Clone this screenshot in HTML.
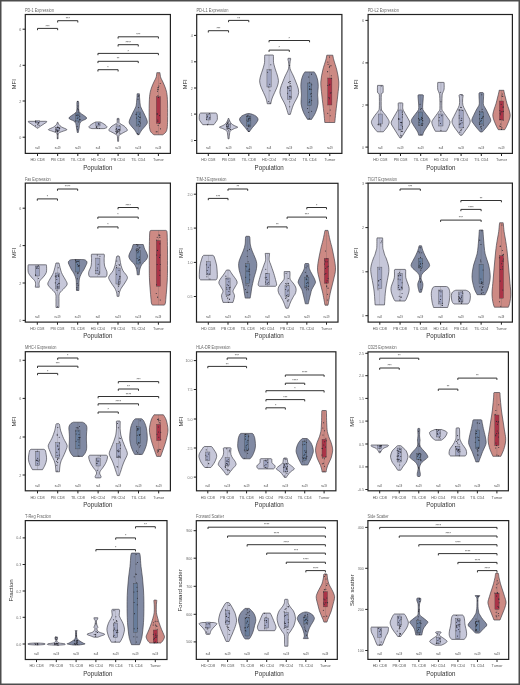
<!DOCTYPE html>
<html><head><meta charset="utf-8"><style>html,body{margin:0;padding:0;background:#fff;width:520px;height:685px;overflow:hidden}svg{display:block}</style></head>
<body><svg xmlns="http://www.w3.org/2000/svg" width="520" height="685" viewBox="0 0 520 685" font-family="Liberation Sans, sans-serif" style="will-change:transform">
<rect x="0" y="0" width="520" height="685" fill="#fff"/>
<g><text x="25" y="11.9" font-size="4.6" fill="#666" textLength="28.8" lengthAdjust="spacingAndGlyphs">PD-1 Expression</text><path d="M45.8,121.3 C45.97,121.4 47.27,121.37 46.8,121.9 C46.33,122.43 44.35,123.57 43,124.5 C41.65,125.43 39.57,126.88 38.7,127.5 C37.83,128.12 37.95,128.08 37.8,128.2 L37.2,128.2 C37.05,128.08 37.17,128.12 36.3,127.5 C35.43,126.88 33.35,125.43 32,124.5 C30.65,123.57 28.67,122.43 28.2,121.9 C27.73,121.37 29.03,121.4 29.2,121.3 Z" fill="#c6c7d9" stroke="#3a3a44" stroke-width="0.65"/><line x1="37.5" y1="121.3" x2="37.5" y2="128.2" stroke="#555" stroke-width="0.3" opacity="0.7"/><rect x="35.4" y="120.8" width="4.2" height="2.2" fill="#9fa4c1" stroke="#444" stroke-width="0.35"/><circle cx="35.58" cy="125.75" r="0.52" fill="#2a2a33"/><circle cx="35.6" cy="121.41" r="0.52" fill="#2a2a33"/><circle cx="37.01" cy="121.74" r="0.52" fill="#2a2a33"/><circle cx="38.65" cy="123.13" r="0.52" fill="#2a2a33"/><circle cx="35.7" cy="121.9" r="0.52" fill="#2a2a33"/><circle cx="39.06" cy="125.37" r="0.52" fill="#2a2a33"/><circle cx="38.56" cy="122.45" r="0.52" fill="#2a2a33"/><circle cx="37.84" cy="124.37" r="0.52" fill="#2a2a33"/><path d="M57.95,122.3 C58.1,122.67 58.23,123.72 58.85,124.5 C59.47,125.28 60.32,126.15 61.65,127 C62.98,127.85 66.52,128.93 66.85,129.6 C67.18,130.27 64.85,130.52 63.65,131 C62.45,131.48 60.55,132 59.65,132.5 C58.75,133 58.52,132.95 58.25,134 C57.98,135.05 58.08,138 58.05,138.8 L57.25,138.8 C57.22,138 57.32,135.05 57.05,134 C56.78,132.95 56.55,133 55.65,132.5 C54.75,132 52.85,131.48 51.65,131 C50.45,130.52 48.12,130.27 48.45,129.6 C48.78,128.93 52.32,127.85 53.65,127 C54.98,126.15 55.83,125.28 56.45,124.5 C57.07,123.72 57.2,122.67 57.35,122.3 Z" fill="#c6c7d9" stroke="#3a3a44" stroke-width="0.65"/><line x1="57.65" y1="122.3" x2="57.65" y2="138.8" stroke="#555" stroke-width="0.3" opacity="0.7"/><rect x="55.55" y="127.5" width="4.2" height="3.5" fill="#9fa4c1" stroke="#444" stroke-width="0.35"/><circle cx="57.42" cy="131.41" r="0.52" fill="#2a2a33"/><circle cx="56.89" cy="130.59" r="0.52" fill="#2a2a33"/><circle cx="57.66" cy="127.34" r="0.52" fill="#2a2a33"/><circle cx="57.53" cy="133.91" r="0.52" fill="#2a2a33"/><circle cx="57.14" cy="131.41" r="0.52" fill="#2a2a33"/><circle cx="59.21" cy="128.24" r="0.52" fill="#2a2a33"/><circle cx="55.52" cy="131.33" r="0.52" fill="#2a2a33"/><circle cx="58" cy="126.96" r="0.52" fill="#2a2a33"/><circle cx="57.69" cy="137.91" r="0.52" fill="#2a2a33"/><circle cx="58.14" cy="127.44" r="0.52" fill="#2a2a33"/><circle cx="57.27" cy="127.37" r="0.52" fill="#2a2a33"/><circle cx="59.84" cy="128.04" r="0.52" fill="#2a2a33"/><circle cx="57.2" cy="131.96" r="0.52" fill="#2a2a33"/><circle cx="59.38" cy="128.21" r="0.52" fill="#2a2a33"/><circle cx="55.98" cy="129.22" r="0.52" fill="#2a2a33"/><circle cx="57.67" cy="130.35" r="0.52" fill="#2a2a33"/><circle cx="57.99" cy="130.05" r="0.52" fill="#2a2a33"/><circle cx="58.26" cy="131.05" r="0.52" fill="#2a2a33"/><circle cx="56.69" cy="129.03" r="0.52" fill="#2a2a33"/><path d="M78.4,101.3 C78.45,101.58 78.63,101.55 78.7,103 C78.77,104.45 78.53,108.33 78.8,110 C79.07,111.67 78.98,111.67 80.3,113 C81.62,114.33 86.45,116.67 86.7,118 C86.95,119.33 82.95,120.08 81.8,121 C80.65,121.92 80.25,122.33 79.8,123.5 C79.35,124.67 79.35,126.5 79.1,128 C78.85,129.5 78.43,131.75 78.3,132.5 L77.3,132.5 C77.17,131.75 76.75,129.5 76.5,128 C76.25,126.5 76.25,124.67 75.8,123.5 C75.35,122.33 74.95,121.92 73.8,121 C72.65,120.08 68.65,119.33 68.9,118 C69.15,116.67 73.98,114.33 75.3,113 C76.62,111.67 76.53,111.67 76.8,110 C77.07,108.33 76.83,104.45 76.9,103 C76.97,101.55 77.15,101.58 77.2,101.3 Z" fill="#818aa3" stroke="#3a3a44" stroke-width="0.65"/><line x1="77.8" y1="101.3" x2="77.8" y2="132.5" stroke="#555" stroke-width="0.3" opacity="0.7"/><rect x="75.7" y="113" width="4.2" height="8" fill="#687d9c" stroke="#444" stroke-width="0.35"/><circle cx="78.08" cy="109.47" r="0.52" fill="#2a2a33"/><circle cx="77.58" cy="129.85" r="0.52" fill="#2a2a33"/><circle cx="78.01" cy="117.71" r="0.52" fill="#2a2a33"/><circle cx="78.24" cy="110.1" r="0.52" fill="#2a2a33"/><circle cx="78.34" cy="111.93" r="0.52" fill="#2a2a33"/><circle cx="77.1" cy="126.57" r="0.52" fill="#2a2a33"/><circle cx="76.26" cy="115.52" r="0.52" fill="#2a2a33"/><circle cx="77.3" cy="118.17" r="0.52" fill="#2a2a33"/><circle cx="77.11" cy="114.67" r="0.52" fill="#2a2a33"/><circle cx="78.8" cy="121.88" r="0.52" fill="#2a2a33"/><circle cx="77.62" cy="101.6" r="0.52" fill="#2a2a33"/><circle cx="77.22" cy="115.84" r="0.52" fill="#2a2a33"/><circle cx="79.72" cy="119.48" r="0.52" fill="#2a2a33"/><circle cx="79.73" cy="116.16" r="0.52" fill="#2a2a33"/><circle cx="77.95" cy="106.07" r="0.52" fill="#2a2a33"/><circle cx="77.71" cy="108.16" r="0.52" fill="#2a2a33"/><circle cx="78.38" cy="115.11" r="0.52" fill="#2a2a33"/><circle cx="75.67" cy="120.93" r="0.52" fill="#2a2a33"/><circle cx="79.98" cy="119.64" r="0.52" fill="#2a2a33"/><path d="M100.45,122.2 C100.63,122.27 100.97,122.3 101.55,122.6 C102.13,122.9 103.22,123.52 103.95,124 C104.68,124.48 105.43,125.02 105.95,125.5 C106.47,125.98 106.97,126.52 107.05,126.9 C107.13,127.28 106.97,127.52 106.45,127.8 C105.93,128.08 104.37,128.47 103.95,128.6 L91.95,128.6 C91.53,128.47 89.97,128.08 89.45,127.8 C88.93,127.52 88.77,127.28 88.85,126.9 C88.93,126.52 89.43,125.98 89.95,125.5 C90.47,125.02 91.22,124.48 91.95,124 C92.68,123.52 93.77,122.9 94.35,122.6 C94.93,122.3 95.27,122.27 95.45,122.2 Z" fill="#c6c7d9" stroke="#3a3a44" stroke-width="0.65"/><line x1="97.95" y1="122.2" x2="97.95" y2="128.6" stroke="#555" stroke-width="0.3" opacity="0.7"/><rect x="95.85" y="122" width="4.2" height="4" fill="#9fa4c1" stroke="#444" stroke-width="0.35"/><circle cx="98.84" cy="124.08" r="0.52" fill="#2a2a33"/><circle cx="98.67" cy="123.3" r="0.52" fill="#2a2a33"/><circle cx="96.7" cy="126.56" r="0.52" fill="#2a2a33"/><circle cx="96.6" cy="127.49" r="0.52" fill="#2a2a33"/><circle cx="98.88" cy="124.17" r="0.52" fill="#2a2a33"/><circle cx="97.19" cy="128.19" r="0.52" fill="#2a2a33"/><circle cx="99.43" cy="128.29" r="0.52" fill="#2a2a33"/><circle cx="96.28" cy="127.14" r="0.52" fill="#2a2a33"/><path d="M118.9,118.4 C118.93,118.58 119.07,118.8 119.1,119.5 C119.13,120.2 118.77,121.8 119.1,122.6 C119.43,123.4 120.27,123.73 121.1,124.3 C121.93,124.87 123.27,125.38 124.1,126 C124.93,126.62 125.55,127.28 126.1,128 C126.65,128.72 127.48,129.72 127.4,130.3 C127.32,130.88 126.32,131.08 125.6,131.5 C124.88,131.92 123.85,132.38 123.1,132.8 C122.35,133.22 121.77,133.58 121.1,134 C120.43,134.42 119.5,134.63 119.1,135.3 C118.7,135.97 118.78,137 118.7,138 C118.62,139 118.62,140.75 118.6,141.3 L117.6,141.3 C117.58,140.75 117.58,139 117.5,138 C117.42,137 117.5,135.97 117.1,135.3 C116.7,134.63 115.77,134.42 115.1,134 C114.43,133.58 113.85,133.22 113.1,132.8 C112.35,132.38 111.32,131.92 110.6,131.5 C109.88,131.08 108.88,130.88 108.8,130.3 C108.72,129.72 109.55,128.72 110.1,128 C110.65,127.28 111.27,126.62 112.1,126 C112.93,125.38 114.27,124.87 115.1,124.3 C115.93,123.73 116.77,123.4 117.1,122.6 C117.43,121.8 117.07,120.2 117.1,119.5 C117.13,118.8 117.27,118.58 117.3,118.4 Z" fill="#c6c7d9" stroke="#3a3a44" stroke-width="0.65"/><line x1="118.1" y1="118.4" x2="118.1" y2="141.3" stroke="#555" stroke-width="0.3" opacity="0.7"/><rect x="116" y="126" width="4.2" height="5" fill="#9fa4c1" stroke="#444" stroke-width="0.35"/><circle cx="119.74" cy="125.79" r="0.52" fill="#2a2a33"/><circle cx="119.22" cy="131.89" r="0.52" fill="#2a2a33"/><circle cx="116.91" cy="124.84" r="0.52" fill="#2a2a33"/><circle cx="117.87" cy="131.55" r="0.52" fill="#2a2a33"/><circle cx="116.11" cy="129.45" r="0.52" fill="#2a2a33"/><circle cx="119.69" cy="129.3" r="0.52" fill="#2a2a33"/><circle cx="116.5" cy="132.16" r="0.52" fill="#2a2a33"/><circle cx="117.19" cy="130.14" r="0.52" fill="#2a2a33"/><circle cx="116.42" cy="133.21" r="0.52" fill="#2a2a33"/><circle cx="117.95" cy="119.15" r="0.52" fill="#2a2a33"/><circle cx="117.56" cy="132.61" r="0.52" fill="#2a2a33"/><circle cx="116.48" cy="128.45" r="0.52" fill="#2a2a33"/><circle cx="119.88" cy="133.22" r="0.52" fill="#2a2a33"/><circle cx="119.15" cy="129.66" r="0.52" fill="#2a2a33"/><circle cx="117.89" cy="131.17" r="0.52" fill="#2a2a33"/><circle cx="119.46" cy="130.02" r="0.52" fill="#2a2a33"/><circle cx="116" cy="131.6" r="0.52" fill="#2a2a33"/><circle cx="116.07" cy="131.17" r="0.52" fill="#2a2a33"/><circle cx="118.56" cy="129.4" r="0.52" fill="#2a2a33"/><path d="M139.45,93.8 C139.45,94.17 139.4,94.97 139.45,96 C139.5,97.03 139.62,98.5 139.75,100 C139.88,101.5 140,103.67 140.25,105 C140.5,106.33 140.58,106.5 141.25,108 C141.92,109.5 143.23,111.7 144.25,114 C145.27,116.3 147.18,119.8 147.35,121.8 C147.52,123.8 146.18,124.63 145.25,126 C144.32,127.37 142.78,128.55 141.75,130 C140.72,131.45 139.5,133.92 139.05,134.7 L137.45,134.7 C137,133.92 135.78,131.45 134.75,130 C133.72,128.55 132.18,127.37 131.25,126 C130.32,124.63 128.98,123.8 129.15,121.8 C129.32,119.8 131.23,116.3 132.25,114 C133.27,111.7 134.58,109.5 135.25,108 C135.92,106.5 136,106.33 136.25,105 C136.5,103.67 136.62,101.5 136.75,100 C136.88,98.5 137,97.03 137.05,96 C137.1,94.97 137.05,94.17 137.05,93.8 Z" fill="#818aa3" stroke="#3a3a44" stroke-width="0.65"/><line x1="138.25" y1="93.8" x2="138.25" y2="134.7" stroke="#555" stroke-width="0.3" opacity="0.7"/><rect x="136.15" y="112" width="4.2" height="14" fill="#687d9c" stroke="#444" stroke-width="0.35"/><circle cx="139.38" cy="114.08" r="0.52" fill="#2a2a33"/><circle cx="137.96" cy="99.21" r="0.52" fill="#2a2a33"/><circle cx="136.67" cy="118" r="0.52" fill="#2a2a33"/><circle cx="139.42" cy="121.86" r="0.52" fill="#2a2a33"/><circle cx="138.2" cy="96.45" r="0.52" fill="#2a2a33"/><circle cx="139.06" cy="121.55" r="0.52" fill="#2a2a33"/><circle cx="139.51" cy="117.31" r="0.52" fill="#2a2a33"/><circle cx="138.44" cy="116.24" r="0.52" fill="#2a2a33"/><circle cx="140.37" cy="117.17" r="0.52" fill="#2a2a33"/><circle cx="138.64" cy="107.43" r="0.52" fill="#2a2a33"/><circle cx="138.28" cy="124.26" r="0.52" fill="#2a2a33"/><circle cx="136.19" cy="114.24" r="0.52" fill="#2a2a33"/><circle cx="137.51" cy="133.55" r="0.52" fill="#2a2a33"/><circle cx="139.77" cy="126.18" r="0.52" fill="#2a2a33"/><circle cx="138.63" cy="134.22" r="0.52" fill="#2a2a33"/><circle cx="140.44" cy="123" r="0.52" fill="#2a2a33"/><circle cx="136.1" cy="114.33" r="0.52" fill="#2a2a33"/><circle cx="138.88" cy="95.44" r="0.52" fill="#2a2a33"/><circle cx="138.97" cy="119.81" r="0.52" fill="#2a2a33"/><path d="M160,72.7 C160.03,73.08 160.05,74.12 160.2,75 C160.35,75.88 160.45,76.83 160.9,78 C161.35,79.17 162.15,80.33 162.9,82 C163.65,83.67 164.72,85.9 165.4,88 C166.08,90.1 166.63,91.77 167,94.6 C167.37,97.43 167.5,100.77 167.6,105 C167.7,109.23 167.67,116.17 167.6,120 C167.53,123.83 167.48,126 167.2,128 C166.92,130 166.62,130.87 165.9,132 C165.18,133.13 163.4,134.33 162.9,134.8 L153.9,134.8 C153.4,134.33 151.62,133.13 150.9,132 C150.18,130.87 149.88,130 149.6,128 C149.32,126 149.27,123.83 149.2,120 C149.13,116.17 149.1,109.23 149.2,105 C149.3,100.77 149.43,97.43 149.8,94.6 C150.17,91.77 150.72,90.1 151.4,88 C152.08,85.9 153.15,83.67 153.9,82 C154.65,80.33 155.45,79.17 155.9,78 C156.35,76.83 156.45,75.88 156.6,75 C156.75,74.12 156.77,73.08 156.8,72.7 Z" fill="#cd8a84" stroke="#3a3a44" stroke-width="0.65"/><line x1="158.4" y1="72.7" x2="158.4" y2="134.8" stroke="#555" stroke-width="0.3" opacity="0.7"/><rect x="156.3" y="96.7" width="4.2" height="26.7" fill="#ab3347" stroke="#444" stroke-width="0.35"/><circle cx="158.07" cy="89.36" r="0.52" fill="#2a2a33"/><circle cx="159.31" cy="123.32" r="0.52" fill="#2a2a33"/><circle cx="157.75" cy="120.08" r="0.52" fill="#2a2a33"/><circle cx="157.24" cy="114" r="0.52" fill="#2a2a33"/><circle cx="157.82" cy="89.77" r="0.52" fill="#2a2a33"/><circle cx="160.2" cy="83.5" r="0.52" fill="#2a2a33"/><circle cx="157.8" cy="121.26" r="0.52" fill="#2a2a33"/><circle cx="157.9" cy="95.85" r="0.52" fill="#2a2a33"/><circle cx="156.23" cy="131.66" r="0.52" fill="#2a2a33"/><circle cx="159.56" cy="115.62" r="0.52" fill="#2a2a33"/><circle cx="157.51" cy="91.33" r="0.52" fill="#2a2a33"/><circle cx="160.46" cy="128.86" r="0.52" fill="#2a2a33"/><circle cx="158.11" cy="125.47" r="0.52" fill="#2a2a33"/><circle cx="157.08" cy="131.7" r="0.52" fill="#2a2a33"/><circle cx="158.9" cy="86.05" r="0.52" fill="#2a2a33"/><circle cx="157.78" cy="87.74" r="0.52" fill="#2a2a33"/><circle cx="157.19" cy="113.89" r="0.52" fill="#2a2a33"/><circle cx="158.5" cy="87.22" r="0.52" fill="#2a2a33"/><circle cx="158.48" cy="97.45" r="0.52" fill="#2a2a33"/><path d="M37.5,30.2 L37.5,28.4 L57.65,28.4 L57.65,30.2" fill="none" stroke="#333" stroke-width="1"/><text x="47.58" y="27.5" font-size="3.5" fill="#333" text-anchor="middle">***</text><path d="M57.65,22.5 L57.65,20.7 L77.8,20.7 L77.8,22.5" fill="none" stroke="#333" stroke-width="1"/><text x="67.73" y="19.8" font-size="3.5" fill="#333" text-anchor="middle">***</text><path d="M118.1,38.6 L118.1,36.8 L158.4,36.8 L158.4,38.6" fill="none" stroke="#333" stroke-width="1"/><text x="138.25" y="35.9" font-size="3.5" fill="#333" text-anchor="middle">***</text><path d="M118.1,46.5 L118.1,44.7 L138.25,44.7 L138.25,46.5" fill="none" stroke="#333" stroke-width="1"/><text x="128.18" y="43.8" font-size="3.5" fill="#333" text-anchor="middle">****</text><path d="M97.95,55.2 L97.95,53.4 L158.4,53.4 L158.4,55.2" fill="none" stroke="#333" stroke-width="1"/><text x="128.18" y="52.5" font-size="3.5" fill="#333" text-anchor="middle">*</text><path d="M97.95,63.1 L97.95,61.3 L138.25,61.3 L138.25,63.1" fill="none" stroke="#333" stroke-width="1"/><text x="118.1" y="60.4" font-size="3.5" fill="#333" text-anchor="middle">**</text><path d="M97.95,71.5 L97.95,69.7 L118.1,69.7 L118.1,71.5" fill="none" stroke="#333" stroke-width="1"/><text x="108.03" y="68.8" font-size="3.5" fill="#333" text-anchor="middle">*</text><text x="37.5" y="149.1" font-size="2.6" fill="#444" text-anchor="middle">n=8</text><text x="57.65" y="149.1" font-size="2.6" fill="#444" text-anchor="middle">n=19</text><text x="77.8" y="149.1" font-size="2.6" fill="#444" text-anchor="middle">n=19</text><text x="97.95" y="149.1" font-size="2.6" fill="#444" text-anchor="middle">n=8</text><text x="118.1" y="149.1" font-size="2.6" fill="#444" text-anchor="middle">n=19</text><text x="138.25" y="149.1" font-size="2.6" fill="#444" text-anchor="middle">n=19</text><text x="158.4" y="149.1" font-size="2.6" fill="#444" text-anchor="middle">n=19</text><rect x="25.3" y="14.5" width="145.1" height="138.9" fill="none" stroke="#222" stroke-width="1.2"/><line x1="22.6" y1="29.2" x2="25.3" y2="29.2" stroke="#222" stroke-width="1"/><text x="19.27" y="30.7" font-size="4.3" fill="#6a6a6a" textLength="2.03" lengthAdjust="spacingAndGlyphs">6</text><line x1="22.6" y1="65.3" x2="25.3" y2="65.3" stroke="#222" stroke-width="1"/><text x="19.27" y="66.8" font-size="4.3" fill="#6a6a6a" textLength="2.03" lengthAdjust="spacingAndGlyphs">4</text><line x1="22.6" y1="101" x2="25.3" y2="101" stroke="#222" stroke-width="1"/><text x="19.27" y="102.5" font-size="4.3" fill="#6a6a6a" textLength="2.03" lengthAdjust="spacingAndGlyphs">2</text><line x1="22.6" y1="137.2" x2="25.3" y2="137.2" stroke="#222" stroke-width="1"/><text x="19.27" y="138.7" font-size="4.3" fill="#6a6a6a" textLength="2.03" lengthAdjust="spacingAndGlyphs">0</text><line x1="37.5" y1="153.4" x2="37.5" y2="156" stroke="#222" stroke-width="1"/><text x="37.5" y="161.3" font-size="3.8" fill="#555" text-anchor="middle">HD CD8</text><line x1="57.65" y1="153.4" x2="57.65" y2="156" stroke="#222" stroke-width="1"/><text x="57.65" y="161.3" font-size="3.8" fill="#555" text-anchor="middle">PB CD8</text><line x1="77.8" y1="153.4" x2="77.8" y2="156" stroke="#222" stroke-width="1"/><text x="77.8" y="161.3" font-size="3.8" fill="#555" text-anchor="middle">TIL CD8</text><line x1="97.95" y1="153.4" x2="97.95" y2="156" stroke="#222" stroke-width="1"/><text x="97.95" y="161.3" font-size="3.8" fill="#555" text-anchor="middle">HD CD4</text><line x1="118.1" y1="153.4" x2="118.1" y2="156" stroke="#222" stroke-width="1"/><text x="118.1" y="161.3" font-size="3.8" fill="#555" text-anchor="middle">PB CD4</text><line x1="138.25" y1="153.4" x2="138.25" y2="156" stroke="#222" stroke-width="1"/><text x="138.25" y="161.3" font-size="3.8" fill="#555" text-anchor="middle">TIL CD4</text><line x1="158.4" y1="153.4" x2="158.4" y2="156" stroke="#222" stroke-width="1"/><text x="158.4" y="161.3" font-size="3.8" fill="#555" text-anchor="middle">Tumor</text><text x="15.5" y="83.95" font-size="6.2" fill="#2e2e2e" text-anchor="middle" textLength="10" lengthAdjust="spacingAndGlyphs" transform="rotate(-90 15.8 83.95)">MFI</text><text x="97.8" y="169.6" font-size="6.3" fill="#333" text-anchor="middle" textLength="29.2" lengthAdjust="spacingAndGlyphs">Population</text></g>
<g><text x="196.4" y="11.9" font-size="4.6" fill="#666" textLength="32" lengthAdjust="spacingAndGlyphs">PD-L1 Expression</text><path d="M215.8,113 C215.98,113.13 216.65,113.3 216.9,113.8 C217.15,114.3 217.23,115.05 217.3,116 C217.37,116.95 217.55,118.5 217.3,119.5 C217.05,120.5 216.38,121.13 215.8,122 C215.22,122.87 214.13,124.25 213.8,124.7 L202.8,124.7 C202.47,124.25 201.38,122.87 200.8,122 C200.22,121.13 199.55,120.5 199.3,119.5 C199.05,118.5 199.23,116.95 199.3,116 C199.37,115.05 199.45,114.3 199.7,113.8 C199.95,113.3 200.62,113.13 200.8,113 Z" fill="#c6c7d9" stroke="#3a3a44" stroke-width="0.65"/><line x1="208.3" y1="113" x2="208.3" y2="124.7" stroke="#555" stroke-width="0.3" opacity="0.7"/><rect x="206.2" y="114.5" width="4.2" height="5.5" fill="#9fa4c1" stroke="#444" stroke-width="0.35"/><circle cx="207.45" cy="124.66" r="0.52" fill="#2a2a33"/><circle cx="209.77" cy="117.59" r="0.52" fill="#2a2a33"/><circle cx="209.59" cy="113.56" r="0.52" fill="#2a2a33"/><circle cx="206.5" cy="119.35" r="0.52" fill="#2a2a33"/><circle cx="207.04" cy="117.25" r="0.52" fill="#2a2a33"/><circle cx="209.22" cy="118.82" r="0.52" fill="#2a2a33"/><circle cx="207.51" cy="116.13" r="0.52" fill="#2a2a33"/><circle cx="207.78" cy="124.26" r="0.52" fill="#2a2a33"/><path d="M228.95,118.5 C229.08,118.92 229.35,120.17 229.75,121 C230.15,121.83 230.63,122.75 231.35,123.5 C232.07,124.25 232.98,124.88 234.05,125.5 C235.12,126.12 237.67,126.7 237.75,127.2 C237.83,127.7 235.58,128.03 234.55,128.5 C233.52,128.97 232.3,129.5 231.55,130 C230.8,130.5 230.38,130.83 230.05,131.5 C229.72,132.17 229.72,132.78 229.55,134 C229.38,135.22 229.13,138 229.05,138.8 L228.05,138.8 C227.97,138 227.72,135.22 227.55,134 C227.38,132.78 227.38,132.17 227.05,131.5 C226.72,130.83 226.3,130.5 225.55,130 C224.8,129.5 223.58,128.97 222.55,128.5 C221.52,128.03 219.27,127.7 219.35,127.2 C219.43,126.7 221.98,126.12 223.05,125.5 C224.12,124.88 225.03,124.25 225.75,123.5 C226.47,122.75 226.95,121.83 227.35,121 C227.75,120.17 228.02,118.92 228.15,118.5 Z" fill="#c6c7d9" stroke="#3a3a44" stroke-width="0.65"/><line x1="228.55" y1="118.5" x2="228.55" y2="138.8" stroke="#555" stroke-width="0.3" opacity="0.7"/><rect x="226.45" y="124" width="4.2" height="4.5" fill="#9fa4c1" stroke="#444" stroke-width="0.35"/><circle cx="226.79" cy="126.32" r="0.52" fill="#2a2a33"/><circle cx="227.59" cy="123.38" r="0.52" fill="#2a2a33"/><circle cx="226.5" cy="126.07" r="0.52" fill="#2a2a33"/><circle cx="227.76" cy="121.92" r="0.52" fill="#2a2a33"/><circle cx="228.91" cy="120.93" r="0.52" fill="#2a2a33"/><circle cx="228.09" cy="128.45" r="0.52" fill="#2a2a33"/><circle cx="229.11" cy="128.16" r="0.52" fill="#2a2a33"/><circle cx="227.79" cy="126.61" r="0.52" fill="#2a2a33"/><circle cx="228.67" cy="125.08" r="0.52" fill="#2a2a33"/><circle cx="230.39" cy="129.54" r="0.52" fill="#2a2a33"/><circle cx="230.19" cy="123.67" r="0.52" fill="#2a2a33"/><circle cx="227.36" cy="127.78" r="0.52" fill="#2a2a33"/><circle cx="227.15" cy="129.35" r="0.52" fill="#2a2a33"/><circle cx="226.4" cy="124.32" r="0.52" fill="#2a2a33"/><circle cx="230.12" cy="129.41" r="0.52" fill="#2a2a33"/><circle cx="228.01" cy="122.61" r="0.52" fill="#2a2a33"/><circle cx="228.02" cy="124.91" r="0.52" fill="#2a2a33"/><circle cx="228.54" cy="126.65" r="0.52" fill="#2a2a33"/><circle cx="228.82" cy="130.85" r="0.52" fill="#2a2a33"/><path d="M249.8,113.6 C250.3,113.75 251.8,114.1 252.8,114.5 C253.8,114.9 255,115.42 255.8,116 C256.6,116.58 257.23,117.33 257.6,118 C257.97,118.67 258.22,119.17 258,120 C257.78,120.83 257,122 256.3,123 C255.6,124 254.63,125 253.8,126 C252.97,127 252,128.08 251.3,129 C250.6,129.92 249.88,131.08 249.6,131.5 L248,131.5 C247.72,131.08 247,129.92 246.3,129 C245.6,128.08 244.63,127 243.8,126 C242.97,125 242,124 241.3,123 C240.6,122 239.82,120.83 239.6,120 C239.38,119.17 239.63,118.67 240,118 C240.37,117.33 241,116.58 241.8,116 C242.6,115.42 243.8,114.9 244.8,114.5 C245.8,114.1 247.3,113.75 247.8,113.6 Z" fill="#818aa3" stroke="#3a3a44" stroke-width="0.65"/><line x1="248.8" y1="113.6" x2="248.8" y2="131.5" stroke="#555" stroke-width="0.3" opacity="0.7"/><rect x="246.7" y="116" width="4.2" height="10" fill="#687d9c" stroke="#444" stroke-width="0.35"/><circle cx="247.85" cy="115.37" r="0.52" fill="#2a2a33"/><circle cx="248.75" cy="125.13" r="0.52" fill="#2a2a33"/><circle cx="249.95" cy="126.71" r="0.52" fill="#2a2a33"/><circle cx="249" cy="125.12" r="0.52" fill="#2a2a33"/><circle cx="247.02" cy="120.12" r="0.52" fill="#2a2a33"/><circle cx="249.8" cy="116.89" r="0.52" fill="#2a2a33"/><circle cx="247.44" cy="128.76" r="0.52" fill="#2a2a33"/><circle cx="246.98" cy="116.42" r="0.52" fill="#2a2a33"/><circle cx="250" cy="118.47" r="0.52" fill="#2a2a33"/><circle cx="248.76" cy="131.33" r="0.52" fill="#2a2a33"/><circle cx="248.96" cy="131.2" r="0.52" fill="#2a2a33"/><circle cx="249.24" cy="118.55" r="0.52" fill="#2a2a33"/><circle cx="248.73" cy="120.81" r="0.52" fill="#2a2a33"/><circle cx="250.14" cy="120.03" r="0.52" fill="#2a2a33"/><circle cx="247.94" cy="116.84" r="0.52" fill="#2a2a33"/><circle cx="247.91" cy="121.6" r="0.52" fill="#2a2a33"/><circle cx="248.57" cy="126.53" r="0.52" fill="#2a2a33"/><circle cx="248.72" cy="119.58" r="0.52" fill="#2a2a33"/><circle cx="248.36" cy="118.63" r="0.52" fill="#2a2a33"/><path d="M273.05,55 C273.12,55.08 273.38,55 273.45,55.5 C273.52,56 273.43,56.83 273.45,58 C273.47,59.17 273.4,61.17 273.55,62.5 C273.7,63.83 274.02,64.75 274.35,66 C274.68,67.25 275.07,68.5 275.55,70 C276.03,71.5 276.77,73.23 277.25,75 C277.73,76.77 278.37,78.93 278.45,80.6 C278.53,82.27 278.12,83.6 277.75,85 C277.38,86.4 276.77,87.75 276.25,89 C275.73,90.25 275.18,91.33 274.65,92.5 C274.12,93.67 273.57,94.75 273.05,96 C272.53,97.25 271.92,98.71 271.55,100 C271.18,101.29 270.97,103.12 270.85,103.75 L267.25,103.75 C267.13,103.12 266.92,101.29 266.55,100 C266.18,98.71 265.57,97.25 265.05,96 C264.53,94.75 263.98,93.67 263.45,92.5 C262.92,91.33 262.37,90.25 261.85,89 C261.33,87.75 260.72,86.4 260.35,85 C259.98,83.6 259.57,82.27 259.65,80.6 C259.73,78.93 260.37,76.77 260.85,75 C261.33,73.23 262.07,71.5 262.55,70 C263.03,68.5 263.42,67.25 263.75,66 C264.08,64.75 264.4,63.83 264.55,62.5 C264.7,61.17 264.63,59.17 264.65,58 C264.67,56.83 264.58,56 264.65,55.5 C264.72,55 264.98,55.08 265.05,55 Z" fill="#c6c7d9" stroke="#3a3a44" stroke-width="0.65"/><line x1="269.05" y1="55" x2="269.05" y2="103.75" stroke="#555" stroke-width="0.3" opacity="0.7"/><rect x="266.95" y="69.8" width="4.2" height="17.2" fill="#9fa4c1" stroke="#444" stroke-width="0.35"/><circle cx="268.75" cy="101.43" r="0.52" fill="#2a2a33"/><circle cx="268.77" cy="86.97" r="0.52" fill="#2a2a33"/><circle cx="269.93" cy="70.03" r="0.52" fill="#2a2a33"/><circle cx="269.97" cy="90.79" r="0.52" fill="#2a2a33"/><circle cx="269.69" cy="84.22" r="0.52" fill="#2a2a33"/><circle cx="270.13" cy="103.11" r="0.52" fill="#2a2a33"/><circle cx="267.63" cy="72.16" r="0.52" fill="#2a2a33"/><circle cx="270.78" cy="64.78" r="0.52" fill="#2a2a33"/><path d="M290.6,58.3 C290.6,58.58 290.68,59.38 290.6,60 C290.52,60.62 290.18,60.54 290.1,62 C290.02,63.46 289.35,65.96 290.1,68.75 C290.85,71.54 293.17,74.79 294.6,78.75 C296.03,82.71 298.92,88.12 298.7,92.5 C298.48,96.88 294.7,101.35 293.3,105 C291.9,108.65 290.8,112.83 290.3,114.4 L288.3,114.4 C287.8,112.83 286.7,108.65 285.3,105 C283.9,101.35 280.12,96.88 279.9,92.5 C279.68,88.12 282.57,82.71 284,78.75 C285.43,74.79 287.75,71.54 288.5,68.75 C289.25,65.96 288.58,63.46 288.5,62 C288.42,60.54 288.08,60.62 288,60 C287.92,59.38 288,58.58 288,58.3 Z" fill="#c6c7d9" stroke="#3a3a44" stroke-width="0.65"/><line x1="289.3" y1="58.3" x2="289.3" y2="114.4" stroke="#555" stroke-width="0.3" opacity="0.7"/><rect x="287.2" y="86.25" width="4.2" height="13.15" fill="#9fa4c1" stroke="#444" stroke-width="0.35"/><circle cx="288.57" cy="82.44" r="0.52" fill="#2a2a33"/><circle cx="289.93" cy="90.69" r="0.52" fill="#2a2a33"/><circle cx="289.97" cy="86.11" r="0.52" fill="#2a2a33"/><circle cx="287.73" cy="87.66" r="0.52" fill="#2a2a33"/><circle cx="291.09" cy="97.05" r="0.52" fill="#2a2a33"/><circle cx="289.65" cy="96.15" r="0.52" fill="#2a2a33"/><circle cx="290.15" cy="96.78" r="0.52" fill="#2a2a33"/><circle cx="289.94" cy="90.32" r="0.52" fill="#2a2a33"/><circle cx="289.39" cy="81.68" r="0.52" fill="#2a2a33"/><circle cx="287.83" cy="87.77" r="0.52" fill="#2a2a33"/><circle cx="290.19" cy="83.42" r="0.52" fill="#2a2a33"/><circle cx="290.81" cy="85.73" r="0.52" fill="#2a2a33"/><circle cx="287.63" cy="93.17" r="0.52" fill="#2a2a33"/><circle cx="289.75" cy="101.67" r="0.52" fill="#2a2a33"/><circle cx="290.33" cy="81.5" r="0.52" fill="#2a2a33"/><circle cx="288.92" cy="88.58" r="0.52" fill="#2a2a33"/><circle cx="289.73" cy="106.78" r="0.52" fill="#2a2a33"/><circle cx="289.93" cy="97.91" r="0.52" fill="#2a2a33"/><circle cx="289.58" cy="65.54" r="0.52" fill="#2a2a33"/><path d="M314.25,71.9 C314.55,72.42 315.48,73.65 316.05,75 C316.62,76.35 317.28,78.12 317.65,80 C318.02,81.88 318.25,83.75 318.25,86.25 C318.25,88.75 317.68,92.08 317.65,95 C317.62,97.92 318.4,100.83 318.05,103.75 C317.7,106.67 316.63,109.89 315.55,112.5 C314.47,115.11 312.22,118.25 311.55,119.4 L307.55,119.4 C306.88,118.25 304.63,115.11 303.55,112.5 C302.47,109.89 301.4,106.67 301.05,103.75 C300.7,100.83 301.48,97.92 301.45,95 C301.42,92.08 300.85,88.75 300.85,86.25 C300.85,83.75 301.08,81.88 301.45,80 C301.82,78.12 302.48,76.35 303.05,75 C303.62,73.65 304.55,72.42 304.85,71.9 Z" fill="#818aa3" stroke="#3a3a44" stroke-width="0.65"/><line x1="309.55" y1="71.9" x2="309.55" y2="119.4" stroke="#555" stroke-width="0.3" opacity="0.7"/><rect x="307.45" y="83" width="4.2" height="22.6" fill="#687d9c" stroke="#444" stroke-width="0.35"/><circle cx="309.56" cy="86.21" r="0.52" fill="#2a2a33"/><circle cx="311.33" cy="93.42" r="0.52" fill="#2a2a33"/><circle cx="310.4" cy="94.01" r="0.52" fill="#2a2a33"/><circle cx="311.65" cy="100.37" r="0.52" fill="#2a2a33"/><circle cx="311.52" cy="74.14" r="0.52" fill="#2a2a33"/><circle cx="309.76" cy="88.63" r="0.52" fill="#2a2a33"/><circle cx="311.62" cy="111.28" r="0.52" fill="#2a2a33"/><circle cx="309.41" cy="82.8" r="0.52" fill="#2a2a33"/><circle cx="309.65" cy="99.77" r="0.52" fill="#2a2a33"/><circle cx="308.68" cy="77.04" r="0.52" fill="#2a2a33"/><circle cx="309.66" cy="101.64" r="0.52" fill="#2a2a33"/><circle cx="311.25" cy="96.19" r="0.52" fill="#2a2a33"/><circle cx="309.23" cy="118.47" r="0.52" fill="#2a2a33"/><circle cx="311.72" cy="84.78" r="0.52" fill="#2a2a33"/><circle cx="309.46" cy="89.44" r="0.52" fill="#2a2a33"/><circle cx="307.56" cy="108.59" r="0.52" fill="#2a2a33"/><circle cx="309.15" cy="102.61" r="0.52" fill="#2a2a33"/><circle cx="311.02" cy="89.39" r="0.52" fill="#2a2a33"/><circle cx="308.58" cy="112.34" r="0.52" fill="#2a2a33"/><path d="M332.8,55.2 C332.97,56 333.13,57.53 333.8,60 C334.47,62.47 335.97,66.33 336.8,70 C337.63,73.67 338.63,77.83 338.8,82 C338.97,86.17 338.3,89.95 337.8,95 C337.3,100.05 336.3,107.72 335.8,112.3 C335.3,116.88 334.97,120.8 334.8,122.5 L324.8,122.5 C324.63,120.8 324.3,116.88 323.8,112.3 C323.3,107.72 322.3,100.05 321.8,95 C321.3,89.95 320.63,86.17 320.8,82 C320.97,77.83 321.97,73.67 322.8,70 C323.63,66.33 325.13,62.47 325.8,60 C326.47,57.53 326.63,56 326.8,55.2 Z" fill="#cd8a84" stroke="#3a3a44" stroke-width="0.65"/><line x1="329.8" y1="55.2" x2="329.8" y2="122.5" stroke="#555" stroke-width="0.3" opacity="0.7"/><rect x="327.7" y="78" width="4.2" height="27" fill="#ab3347" stroke="#444" stroke-width="0.35"/><circle cx="329.79" cy="84.16" r="0.52" fill="#2a2a33"/><circle cx="328.07" cy="64.36" r="0.52" fill="#2a2a33"/><circle cx="330.21" cy="115.8" r="0.52" fill="#2a2a33"/><circle cx="331.27" cy="75.84" r="0.52" fill="#2a2a33"/><circle cx="329.67" cy="66.28" r="0.52" fill="#2a2a33"/><circle cx="327.88" cy="62.12" r="0.52" fill="#2a2a33"/><circle cx="330.19" cy="109.92" r="0.52" fill="#2a2a33"/><circle cx="329.33" cy="67.27" r="0.52" fill="#2a2a33"/><circle cx="329.37" cy="84.98" r="0.52" fill="#2a2a33"/><circle cx="327.72" cy="113.35" r="0.52" fill="#2a2a33"/><circle cx="331.31" cy="78.31" r="0.52" fill="#2a2a33"/><circle cx="331.02" cy="92.7" r="0.52" fill="#2a2a33"/><circle cx="329.55" cy="56.99" r="0.52" fill="#2a2a33"/><circle cx="330.94" cy="65.63" r="0.52" fill="#2a2a33"/><circle cx="328.97" cy="97.46" r="0.52" fill="#2a2a33"/><circle cx="330.31" cy="93.04" r="0.52" fill="#2a2a33"/><circle cx="327.78" cy="85.45" r="0.52" fill="#2a2a33"/><circle cx="327.6" cy="71.63" r="0.52" fill="#2a2a33"/><circle cx="329.4" cy="98.76" r="0.52" fill="#2a2a33"/><path d="M208.3,32.5 L208.3,30.7 L228.55,30.7 L228.55,32.5" fill="none" stroke="#333" stroke-width="1"/><text x="218.43" y="29.8" font-size="3.5" fill="#333" text-anchor="middle">***</text><path d="M228.55,22.2 L228.55,20.4 L248.8,20.4 L248.8,22.2" fill="none" stroke="#333" stroke-width="1"/><text x="238.68" y="19.5" font-size="3.5" fill="#333" text-anchor="middle">**</text><path d="M269.05,42.3 L269.05,40.5 L309.55,40.5 L309.55,42.3" fill="none" stroke="#333" stroke-width="1"/><text x="289.3" y="39.6" font-size="3.5" fill="#333" text-anchor="middle">*</text><path d="M269.05,51.9 L269.05,50.1 L289.3,50.1 L289.3,51.9" fill="none" stroke="#333" stroke-width="1"/><text x="279.18" y="49.2" font-size="3.5" fill="#333" text-anchor="middle">*</text><text x="208.3" y="149.1" font-size="2.6" fill="#444" text-anchor="middle">n=8</text><text x="228.55" y="149.1" font-size="2.6" fill="#444" text-anchor="middle">n=19</text><text x="248.8" y="149.1" font-size="2.6" fill="#444" text-anchor="middle">n=19</text><text x="269.05" y="149.1" font-size="2.6" fill="#444" text-anchor="middle">n=8</text><text x="289.3" y="149.1" font-size="2.6" fill="#444" text-anchor="middle">n=19</text><text x="309.55" y="149.1" font-size="2.6" fill="#444" text-anchor="middle">n=19</text><text x="329.8" y="149.1" font-size="2.6" fill="#444" text-anchor="middle">n=19</text><rect x="196.7" y="14.5" width="145.2" height="138.9" fill="none" stroke="#222" stroke-width="1.2"/><line x1="194" y1="35.4" x2="196.7" y2="35.4" stroke="#222" stroke-width="1"/><text x="190.67" y="36.9" font-size="4.3" fill="#6a6a6a" textLength="2.03" lengthAdjust="spacingAndGlyphs">4</text><line x1="194" y1="61.8" x2="196.7" y2="61.8" stroke="#222" stroke-width="1"/><text x="190.67" y="63.3" font-size="4.3" fill="#6a6a6a" textLength="2.03" lengthAdjust="spacingAndGlyphs">3</text><line x1="194" y1="88" x2="196.7" y2="88" stroke="#222" stroke-width="1"/><text x="190.67" y="89.5" font-size="4.3" fill="#6a6a6a" textLength="2.03" lengthAdjust="spacingAndGlyphs">2</text><line x1="194" y1="114.1" x2="196.7" y2="114.1" stroke="#222" stroke-width="1"/><text x="190.67" y="115.6" font-size="4.3" fill="#6a6a6a" textLength="2.03" lengthAdjust="spacingAndGlyphs">1</text><line x1="194" y1="140.5" x2="196.7" y2="140.5" stroke="#222" stroke-width="1"/><text x="190.67" y="142" font-size="4.3" fill="#6a6a6a" textLength="2.03" lengthAdjust="spacingAndGlyphs">0</text><line x1="208.3" y1="153.4" x2="208.3" y2="156" stroke="#222" stroke-width="1"/><text x="208.3" y="161.3" font-size="3.8" fill="#555" text-anchor="middle">HD CD8</text><line x1="228.55" y1="153.4" x2="228.55" y2="156" stroke="#222" stroke-width="1"/><text x="228.55" y="161.3" font-size="3.8" fill="#555" text-anchor="middle">PB CD8</text><line x1="248.8" y1="153.4" x2="248.8" y2="156" stroke="#222" stroke-width="1"/><text x="248.8" y="161.3" font-size="3.8" fill="#555" text-anchor="middle">TIL CD8</text><line x1="269.05" y1="153.4" x2="269.05" y2="156" stroke="#222" stroke-width="1"/><text x="269.05" y="161.3" font-size="3.8" fill="#555" text-anchor="middle">HD CD4</text><line x1="289.3" y1="153.4" x2="289.3" y2="156" stroke="#222" stroke-width="1"/><text x="289.3" y="161.3" font-size="3.8" fill="#555" text-anchor="middle">PB CD4</text><line x1="309.55" y1="153.4" x2="309.55" y2="156" stroke="#222" stroke-width="1"/><text x="309.55" y="161.3" font-size="3.8" fill="#555" text-anchor="middle">TIL CD4</text><line x1="329.8" y1="153.4" x2="329.8" y2="156" stroke="#222" stroke-width="1"/><text x="329.8" y="161.3" font-size="3.8" fill="#555" text-anchor="middle">Tumor</text><text x="186.9" y="83.95" font-size="6.2" fill="#2e2e2e" text-anchor="middle" textLength="10" lengthAdjust="spacingAndGlyphs" transform="rotate(-90 187.2 83.95)">MFI</text><text x="269.2" y="169.6" font-size="6.3" fill="#333" text-anchor="middle" textLength="29.2" lengthAdjust="spacingAndGlyphs">Population</text></g>
<g><text x="367.8" y="11.9" font-size="4.6" fill="#666" textLength="31" lengthAdjust="spacingAndGlyphs">PD-L2 Expression</text><path d="M382.8,85.4 C382.85,85.5 383.05,84.9 383.1,86 C383.15,87.1 383.27,90.75 383.1,92 C382.93,93.25 382.4,93 382.1,93.5 C381.8,94 381.43,92.58 381.3,95 C381.17,97.42 381.13,105.33 381.3,108 C381.47,110.67 381.8,110.07 382.3,111 C382.8,111.93 383.55,112.6 384.3,113.6 C385.05,114.6 385.98,115.65 386.8,117 C387.62,118.35 389.03,120.2 389.2,121.7 C389.37,123.2 388.45,124.7 387.8,126 C387.15,127.3 386.05,128.53 385.3,129.5 C384.55,130.47 383.63,131.42 383.3,131.8 L377.3,131.8 C376.97,131.42 376.05,130.47 375.3,129.5 C374.55,128.53 373.45,127.3 372.8,126 C372.15,124.7 371.23,123.2 371.4,121.7 C371.57,120.2 372.98,118.35 373.8,117 C374.62,115.65 375.55,114.6 376.3,113.6 C377.05,112.6 377.8,111.93 378.3,111 C378.8,110.07 379.13,110.67 379.3,108 C379.47,105.33 379.43,97.42 379.3,95 C379.17,92.58 378.8,94 378.5,93.5 C378.2,93 377.67,93.25 377.5,92 C377.33,90.75 377.45,87.1 377.5,86 C377.55,84.9 377.75,85.5 377.8,85.4 Z" fill="#c6c7d9" stroke="#3a3a44" stroke-width="0.65"/><line x1="380.3" y1="85.4" x2="380.3" y2="131.8" stroke="#555" stroke-width="0.3" opacity="0.7"/><rect x="378.2" y="114" width="4.2" height="10" fill="#9fa4c1" stroke="#444" stroke-width="0.35"/><circle cx="379.09" cy="124.69" r="0.52" fill="#2a2a33"/><circle cx="381.25" cy="86.03" r="0.52" fill="#2a2a33"/><circle cx="380.89" cy="125.97" r="0.52" fill="#2a2a33"/><circle cx="378.21" cy="124.65" r="0.52" fill="#2a2a33"/><circle cx="380.37" cy="124.04" r="0.52" fill="#2a2a33"/><circle cx="380.98" cy="109.91" r="0.52" fill="#2a2a33"/><circle cx="380.77" cy="124.94" r="0.52" fill="#2a2a33"/><circle cx="378.17" cy="124.19" r="0.52" fill="#2a2a33"/><path d="M402.5,102.9 C402.55,103.08 402.75,103 402.8,104 C402.85,105 402.55,107.57 402.8,108.9 C403.05,110.23 403.77,110.98 404.3,112 C404.83,113.02 405.33,113.83 406,115 C406.67,116.17 407.65,117.67 408.3,119 C408.95,120.33 409.95,121.67 409.9,123 C409.85,124.33 408.73,125.67 408,127 C407.27,128.33 406.33,129.67 405.5,131 C404.67,132.33 403.73,133.85 403,135 C402.27,136.15 401.42,137.42 401.1,137.9 L399.9,137.9 C399.58,137.42 398.73,136.15 398,135 C397.27,133.85 396.33,132.33 395.5,131 C394.67,129.67 393.73,128.33 393,127 C392.27,125.67 391.15,124.33 391.1,123 C391.05,121.67 392.05,120.33 392.7,119 C393.35,117.67 394.33,116.17 395,115 C395.67,113.83 396.17,113.02 396.7,112 C397.23,110.98 397.95,110.23 398.2,108.9 C398.45,107.57 398.15,105 398.2,104 C398.25,103 398.45,103.08 398.5,102.9 Z" fill="#c6c7d9" stroke="#3a3a44" stroke-width="0.65"/><line x1="400.5" y1="102.9" x2="400.5" y2="137.9" stroke="#555" stroke-width="0.3" opacity="0.7"/><rect x="398.4" y="110" width="4.2" height="20" fill="#9fa4c1" stroke="#444" stroke-width="0.35"/><circle cx="401.09" cy="124.98" r="0.52" fill="#2a2a33"/><circle cx="398.47" cy="118.61" r="0.52" fill="#2a2a33"/><circle cx="402.3" cy="131.33" r="0.52" fill="#2a2a33"/><circle cx="398.64" cy="119.54" r="0.52" fill="#2a2a33"/><circle cx="401.84" cy="131.42" r="0.52" fill="#2a2a33"/><circle cx="399.79" cy="119.02" r="0.52" fill="#2a2a33"/><circle cx="401.47" cy="122.25" r="0.52" fill="#2a2a33"/><circle cx="401.35" cy="136.03" r="0.52" fill="#2a2a33"/><circle cx="400.92" cy="135.26" r="0.52" fill="#2a2a33"/><circle cx="401.64" cy="122.8" r="0.52" fill="#2a2a33"/><circle cx="402.51" cy="114.42" r="0.52" fill="#2a2a33"/><circle cx="402.33" cy="116.95" r="0.52" fill="#2a2a33"/><circle cx="402.21" cy="112.06" r="0.52" fill="#2a2a33"/><circle cx="401.74" cy="122.61" r="0.52" fill="#2a2a33"/><circle cx="400.5" cy="122.45" r="0.52" fill="#2a2a33"/><circle cx="402.38" cy="126.58" r="0.52" fill="#2a2a33"/><circle cx="402.56" cy="127.93" r="0.52" fill="#2a2a33"/><circle cx="399.97" cy="129.24" r="0.52" fill="#2a2a33"/><circle cx="401.31" cy="131.23" r="0.52" fill="#2a2a33"/><path d="M422.5,94.8 C422.65,94.92 423.3,94.63 423.4,95.5 C423.5,96.37 423.22,98.42 423.1,100 C422.98,101.58 422.73,103.4 422.7,105 C422.67,106.6 422.48,108.27 422.9,109.6 C423.32,110.93 424.43,111.93 425.2,113 C425.97,114.07 426.68,114.77 427.5,116 C428.32,117.23 429.9,119.07 430.1,120.4 C430.3,121.73 429.35,122.73 428.7,124 C428.05,125.27 427.03,126.67 426.2,128 C425.37,129.33 424.28,130.8 423.7,132 C423.12,133.2 422.87,134.67 422.7,135.2 L418.7,135.2 C418.53,134.67 418.28,133.2 417.7,132 C417.12,130.8 416.03,129.33 415.2,128 C414.37,126.67 413.35,125.27 412.7,124 C412.05,122.73 411.1,121.73 411.3,120.4 C411.5,119.07 413.08,117.23 413.9,116 C414.72,114.77 415.43,114.07 416.2,113 C416.97,111.93 418.08,110.93 418.5,109.6 C418.92,108.27 418.73,106.6 418.7,105 C418.67,103.4 418.42,101.58 418.3,100 C418.18,98.42 417.9,96.37 418,95.5 C418.1,94.63 418.75,94.92 418.9,94.8 Z" fill="#818aa3" stroke="#3a3a44" stroke-width="0.65"/><line x1="420.7" y1="94.8" x2="420.7" y2="135.2" stroke="#555" stroke-width="0.3" opacity="0.7"/><rect x="418.6" y="112" width="4.2" height="13" fill="#687d9c" stroke="#444" stroke-width="0.35"/><circle cx="421.64" cy="117.39" r="0.52" fill="#2a2a33"/><circle cx="420.5" cy="109.3" r="0.52" fill="#2a2a33"/><circle cx="421.72" cy="123.69" r="0.52" fill="#2a2a33"/><circle cx="421.34" cy="118.93" r="0.52" fill="#2a2a33"/><circle cx="421.02" cy="134.65" r="0.52" fill="#2a2a33"/><circle cx="419.09" cy="125.2" r="0.52" fill="#2a2a33"/><circle cx="422.84" cy="120.84" r="0.52" fill="#2a2a33"/><circle cx="422.42" cy="118.39" r="0.52" fill="#2a2a33"/><circle cx="419.18" cy="119.34" r="0.52" fill="#2a2a33"/><circle cx="418.5" cy="118.46" r="0.52" fill="#2a2a33"/><circle cx="422.83" cy="123.82" r="0.52" fill="#2a2a33"/><circle cx="419.13" cy="122.19" r="0.52" fill="#2a2a33"/><circle cx="419.64" cy="120.33" r="0.52" fill="#2a2a33"/><circle cx="421.13" cy="119.27" r="0.52" fill="#2a2a33"/><circle cx="422.42" cy="120.58" r="0.52" fill="#2a2a33"/><circle cx="421.33" cy="108.41" r="0.52" fill="#2a2a33"/><circle cx="421.6" cy="125.22" r="0.52" fill="#2a2a33"/><circle cx="422.46" cy="125.57" r="0.52" fill="#2a2a33"/><circle cx="420.07" cy="104.18" r="0.52" fill="#2a2a33"/><path d="M443.7,82.4 C443.77,82.5 444.03,81.9 444.1,83 C444.17,84.1 444.27,87.5 444.1,89 C443.93,90.5 443.43,90.87 443.1,92 C442.77,93.13 442.3,93.07 442.1,95.8 C441.9,98.53 441.73,105.78 441.9,108.4 C442.07,111.02 442.43,110.32 443.1,111.5 C443.77,112.68 445.02,114.25 445.9,115.5 C446.78,116.75 447.72,117.95 448.4,119 C449.08,120.05 449.83,120.8 450,121.8 C450.17,122.8 449.75,123.88 449.4,125 C449.05,126.12 448.4,127.45 447.9,128.5 C447.4,129.55 446.65,130.83 446.4,131.3 L435.4,131.3 C435.15,130.83 434.4,129.55 433.9,128.5 C433.4,127.45 432.75,126.12 432.4,125 C432.05,123.88 431.63,122.8 431.8,121.8 C431.97,120.8 432.72,120.05 433.4,119 C434.08,117.95 435.02,116.75 435.9,115.5 C436.78,114.25 438.03,112.68 438.7,111.5 C439.37,110.32 439.73,111.02 439.9,108.4 C440.07,105.78 439.9,98.53 439.7,95.8 C439.5,93.07 439.03,93.13 438.7,92 C438.37,90.87 437.87,90.5 437.7,89 C437.53,87.5 437.63,84.1 437.7,83 C437.77,81.9 438.03,82.5 438.1,82.4 Z" fill="#c6c7d9" stroke="#3a3a44" stroke-width="0.65"/><line x1="440.9" y1="82.4" x2="440.9" y2="131.3" stroke="#555" stroke-width="0.3" opacity="0.7"/><rect x="438.8" y="114" width="4.2" height="12" fill="#9fa4c1" stroke="#444" stroke-width="0.35"/><circle cx="440.89" cy="111.85" r="0.52" fill="#2a2a33"/><circle cx="440.94" cy="130.47" r="0.52" fill="#2a2a33"/><circle cx="440.27" cy="92.24" r="0.52" fill="#2a2a33"/><circle cx="440.95" cy="101.82" r="0.52" fill="#2a2a33"/><circle cx="441.8" cy="115.63" r="0.52" fill="#2a2a33"/><circle cx="440.5" cy="123.41" r="0.52" fill="#2a2a33"/><circle cx="439.01" cy="120.76" r="0.52" fill="#2a2a33"/><circle cx="439.26" cy="117.49" r="0.52" fill="#2a2a33"/><path d="M462.3,94.5 C462.43,94.63 463,94.88 463.1,95.3 C463.2,95.72 462.98,96.22 462.9,97 C462.82,97.78 462.6,98.63 462.6,100 C462.6,101.37 462.48,103.53 462.9,105.2 C463.32,106.87 464.32,108.37 465.1,110 C465.88,111.63 466.75,113.17 467.6,115 C468.45,116.83 470.03,119.17 470.2,121 C470.37,122.83 469.45,124.33 468.6,126 C467.75,127.67 466.18,129.47 465.1,131 C464.02,132.53 462.6,134.5 462.1,135.2 L460.1,135.2 C459.6,134.5 458.18,132.53 457.1,131 C456.02,129.47 454.45,127.67 453.6,126 C452.75,124.33 451.83,122.83 452,121 C452.17,119.17 453.75,116.83 454.6,115 C455.45,113.17 456.32,111.63 457.1,110 C457.88,108.37 458.88,106.87 459.3,105.2 C459.72,103.53 459.6,101.37 459.6,100 C459.6,98.63 459.38,97.78 459.3,97 C459.22,96.22 459,95.72 459.1,95.3 C459.2,94.88 459.77,94.63 459.9,94.5 Z" fill="#c6c7d9" stroke="#3a3a44" stroke-width="0.65"/><line x1="461.1" y1="94.5" x2="461.1" y2="135.2" stroke="#555" stroke-width="0.3" opacity="0.7"/><rect x="459" y="110" width="4.2" height="18" fill="#9fa4c1" stroke="#444" stroke-width="0.35"/><circle cx="460.01" cy="123.81" r="0.52" fill="#2a2a33"/><circle cx="460.7" cy="130.28" r="0.52" fill="#2a2a33"/><circle cx="461.05" cy="120.5" r="0.52" fill="#2a2a33"/><circle cx="459.28" cy="109.9" r="0.52" fill="#2a2a33"/><circle cx="461.29" cy="107.42" r="0.52" fill="#2a2a33"/><circle cx="462.03" cy="95.31" r="0.52" fill="#2a2a33"/><circle cx="459.28" cy="124.53" r="0.52" fill="#2a2a33"/><circle cx="461.67" cy="120.26" r="0.52" fill="#2a2a33"/><circle cx="461.74" cy="118.16" r="0.52" fill="#2a2a33"/><circle cx="462.28" cy="110.4" r="0.52" fill="#2a2a33"/><circle cx="459.79" cy="132.13" r="0.52" fill="#2a2a33"/><circle cx="461.65" cy="129.76" r="0.52" fill="#2a2a33"/><circle cx="459.2" cy="115.69" r="0.52" fill="#2a2a33"/><circle cx="463.22" cy="127.49" r="0.52" fill="#2a2a33"/><circle cx="460.69" cy="123.65" r="0.52" fill="#2a2a33"/><circle cx="460.4" cy="107.25" r="0.52" fill="#2a2a33"/><circle cx="462.11" cy="122.75" r="0.52" fill="#2a2a33"/><circle cx="459.18" cy="117.91" r="0.52" fill="#2a2a33"/><circle cx="459.06" cy="109.7" r="0.52" fill="#2a2a33"/><path d="M482.8,92.6 C482.93,92.75 483.48,92.6 483.6,93.5 C483.72,94.4 483.55,96.58 483.5,98 C483.45,99.42 483.28,100.8 483.3,102 C483.32,103.2 483.18,104.03 483.6,105.2 C484.02,106.37 485.02,107.53 485.8,109 C486.58,110.47 487.47,112.13 488.3,114 C489.13,115.87 490.72,118.53 490.8,120.2 C490.88,121.87 489.63,122.7 488.8,124 C487.97,125.3 486.88,126.67 485.8,128 C484.72,129.33 482.88,131.33 482.3,132 L480.3,132 C479.72,131.33 477.88,129.33 476.8,128 C475.72,126.67 474.63,125.3 473.8,124 C472.97,122.7 471.72,121.87 471.8,120.2 C471.88,118.53 473.47,115.87 474.3,114 C475.13,112.13 476.02,110.47 476.8,109 C477.58,107.53 478.58,106.37 479,105.2 C479.42,104.03 479.28,103.2 479.3,102 C479.32,100.8 479.15,99.42 479.1,98 C479.05,96.58 478.88,94.4 479,93.5 C479.12,92.6 479.67,92.75 479.8,92.6 Z" fill="#818aa3" stroke="#3a3a44" stroke-width="0.65"/><line x1="481.3" y1="92.6" x2="481.3" y2="132" stroke="#555" stroke-width="0.3" opacity="0.7"/><rect x="479.2" y="112" width="4.2" height="12" fill="#687d9c" stroke="#444" stroke-width="0.35"/><circle cx="481.61" cy="118.58" r="0.52" fill="#2a2a33"/><circle cx="482.19" cy="109.27" r="0.52" fill="#2a2a33"/><circle cx="481.41" cy="128.66" r="0.52" fill="#2a2a33"/><circle cx="483.31" cy="116.77" r="0.52" fill="#2a2a33"/><circle cx="479.31" cy="122.82" r="0.52" fill="#2a2a33"/><circle cx="483.05" cy="116.23" r="0.52" fill="#2a2a33"/><circle cx="482.21" cy="111.73" r="0.52" fill="#2a2a33"/><circle cx="479.71" cy="124.3" r="0.52" fill="#2a2a33"/><circle cx="483.35" cy="125.11" r="0.52" fill="#2a2a33"/><circle cx="480.65" cy="121.14" r="0.52" fill="#2a2a33"/><circle cx="479.64" cy="111.2" r="0.52" fill="#2a2a33"/><circle cx="479.45" cy="124.29" r="0.52" fill="#2a2a33"/><circle cx="482.47" cy="117.89" r="0.52" fill="#2a2a33"/><circle cx="479.67" cy="114.46" r="0.52" fill="#2a2a33"/><circle cx="481.1" cy="126.46" r="0.52" fill="#2a2a33"/><circle cx="479.44" cy="118.85" r="0.52" fill="#2a2a33"/><circle cx="481.76" cy="94.74" r="0.52" fill="#2a2a33"/><circle cx="480.6" cy="127.09" r="0.52" fill="#2a2a33"/><circle cx="481.57" cy="120.31" r="0.52" fill="#2a2a33"/><path d="M503.9,90.3 C503.93,90.58 503.87,90.88 504.1,92 C504.33,93.12 504.82,95.05 505.3,97 C505.78,98.95 506.42,101.7 507,103.7 C507.58,105.7 508.27,107.17 508.8,109 C509.33,110.83 510.08,113.03 510.2,114.7 C510.32,116.37 509.87,117.62 509.5,119 C509.13,120.38 508.5,121.75 508,123 C507.5,124.25 507.05,125.38 506.5,126.5 C505.95,127.62 505,129.17 504.7,129.7 L498.3,129.7 C498,129.17 497.05,127.62 496.5,126.5 C495.95,125.38 495.5,124.25 495,123 C494.5,121.75 493.87,120.38 493.5,119 C493.13,117.62 492.68,116.37 492.8,114.7 C492.92,113.03 493.67,110.83 494.2,109 C494.73,107.17 495.42,105.7 496,103.7 C496.58,101.7 497.22,98.95 497.7,97 C498.18,95.05 498.67,93.12 498.9,92 C499.13,90.88 499.07,90.58 499.1,90.3 Z" fill="#cd8a84" stroke="#3a3a44" stroke-width="0.65"/><line x1="501.5" y1="90.3" x2="501.5" y2="129.7" stroke="#555" stroke-width="0.3" opacity="0.7"/><rect x="499.4" y="101" width="4.2" height="19" fill="#ab3347" stroke="#444" stroke-width="0.35"/><circle cx="499.72" cy="125.91" r="0.52" fill="#2a2a33"/><circle cx="500.78" cy="112.02" r="0.52" fill="#2a2a33"/><circle cx="501.98" cy="111.64" r="0.52" fill="#2a2a33"/><circle cx="500.16" cy="119.48" r="0.52" fill="#2a2a33"/><circle cx="503.19" cy="120.3" r="0.52" fill="#2a2a33"/><circle cx="500.18" cy="113.58" r="0.52" fill="#2a2a33"/><circle cx="502.26" cy="93.94" r="0.52" fill="#2a2a33"/><circle cx="501.14" cy="104.37" r="0.52" fill="#2a2a33"/><circle cx="501.87" cy="96.08" r="0.52" fill="#2a2a33"/><circle cx="503.08" cy="107.4" r="0.52" fill="#2a2a33"/><circle cx="502.73" cy="96.38" r="0.52" fill="#2a2a33"/><circle cx="499.87" cy="110.5" r="0.52" fill="#2a2a33"/><circle cx="501.94" cy="127.83" r="0.52" fill="#2a2a33"/><circle cx="503.2" cy="106.67" r="0.52" fill="#2a2a33"/><circle cx="500.67" cy="126.46" r="0.52" fill="#2a2a33"/><circle cx="500.68" cy="123.91" r="0.52" fill="#2a2a33"/><circle cx="503.39" cy="111.36" r="0.52" fill="#2a2a33"/><circle cx="500.5" cy="114.7" r="0.52" fill="#2a2a33"/><circle cx="501.47" cy="129.38" r="0.52" fill="#2a2a33"/><text x="380.3" y="149.1" font-size="2.6" fill="#444" text-anchor="middle">n=8</text><text x="400.5" y="149.1" font-size="2.6" fill="#444" text-anchor="middle">n=19</text><text x="420.7" y="149.1" font-size="2.6" fill="#444" text-anchor="middle">n=19</text><text x="440.9" y="149.1" font-size="2.6" fill="#444" text-anchor="middle">n=8</text><text x="461.1" y="149.1" font-size="2.6" fill="#444" text-anchor="middle">n=19</text><text x="481.3" y="149.1" font-size="2.6" fill="#444" text-anchor="middle">n=19</text><text x="501.5" y="149.1" font-size="2.6" fill="#444" text-anchor="middle">n=19</text><rect x="368.1" y="14.5" width="144.3" height="138.9" fill="none" stroke="#222" stroke-width="1.2"/><line x1="365.4" y1="20.4" x2="368.1" y2="20.4" stroke="#222" stroke-width="1"/><text x="362.07" y="21.9" font-size="4.3" fill="#6a6a6a" textLength="2.03" lengthAdjust="spacingAndGlyphs">6</text><line x1="365.4" y1="62.9" x2="368.1" y2="62.9" stroke="#222" stroke-width="1"/><text x="362.07" y="64.4" font-size="4.3" fill="#6a6a6a" textLength="2.03" lengthAdjust="spacingAndGlyphs">4</text><line x1="365.4" y1="105" x2="368.1" y2="105" stroke="#222" stroke-width="1"/><text x="362.07" y="106.5" font-size="4.3" fill="#6a6a6a" textLength="2.03" lengthAdjust="spacingAndGlyphs">2</text><line x1="365.4" y1="147.1" x2="368.1" y2="147.1" stroke="#222" stroke-width="1"/><text x="362.07" y="148.6" font-size="4.3" fill="#6a6a6a" textLength="2.03" lengthAdjust="spacingAndGlyphs">0</text><line x1="380.3" y1="153.4" x2="380.3" y2="156" stroke="#222" stroke-width="1"/><text x="380.3" y="161.3" font-size="3.8" fill="#555" text-anchor="middle">HD CD8</text><line x1="400.5" y1="153.4" x2="400.5" y2="156" stroke="#222" stroke-width="1"/><text x="400.5" y="161.3" font-size="3.8" fill="#555" text-anchor="middle">PB CD8</text><line x1="420.7" y1="153.4" x2="420.7" y2="156" stroke="#222" stroke-width="1"/><text x="420.7" y="161.3" font-size="3.8" fill="#555" text-anchor="middle">TIL CD8</text><line x1="440.9" y1="153.4" x2="440.9" y2="156" stroke="#222" stroke-width="1"/><text x="440.9" y="161.3" font-size="3.8" fill="#555" text-anchor="middle">HD CD4</text><line x1="461.1" y1="153.4" x2="461.1" y2="156" stroke="#222" stroke-width="1"/><text x="461.1" y="161.3" font-size="3.8" fill="#555" text-anchor="middle">PB CD4</text><line x1="481.3" y1="153.4" x2="481.3" y2="156" stroke="#222" stroke-width="1"/><text x="481.3" y="161.3" font-size="3.8" fill="#555" text-anchor="middle">TIL CD4</text><line x1="501.5" y1="153.4" x2="501.5" y2="156" stroke="#222" stroke-width="1"/><text x="501.5" y="161.3" font-size="3.8" fill="#555" text-anchor="middle">Tumor</text><text x="358.2" y="83.95" font-size="6.2" fill="#2e2e2e" text-anchor="middle" textLength="10" lengthAdjust="spacingAndGlyphs" transform="rotate(-90 358.5 83.95)">MFI</text><text x="440.8" y="169.6" font-size="6.3" fill="#333" text-anchor="middle" textLength="29.2" lengthAdjust="spacingAndGlyphs">Population</text></g>
<g><text x="25" y="180.5" font-size="4.6" fill="#666" textLength="25.7" lengthAdjust="spacingAndGlyphs">Fas Expression</text><path d="M45.8,264.8 C45.92,264.92 46.42,264.22 46.5,265.5 C46.58,266.78 46.83,270.58 46.3,272.5 C45.77,274.42 44.47,275.45 43.3,277 C42.13,278.55 39.97,280.1 39.3,281.8 C38.63,283.5 39.3,286.3 39.3,287.2 L35.3,287.2 C35.3,286.3 35.97,283.5 35.3,281.8 C34.63,280.1 32.47,278.55 31.3,277 C30.13,275.45 28.83,274.42 28.3,272.5 C27.77,270.58 28.02,266.78 28.1,265.5 C28.18,264.22 28.68,264.92 28.8,264.8 Z" fill="#c6c7d9" stroke="#3a3a44" stroke-width="0.65"/><line x1="37.3" y1="264.8" x2="37.3" y2="287.2" stroke="#555" stroke-width="0.3" opacity="0.7"/><rect x="35.2" y="266" width="4.2" height="10" fill="#9fa4c1" stroke="#444" stroke-width="0.35"/><circle cx="36.67" cy="268.24" r="0.52" fill="#2a2a33"/><circle cx="35.51" cy="274.83" r="0.52" fill="#2a2a33"/><circle cx="35.71" cy="275.46" r="0.52" fill="#2a2a33"/><circle cx="37.14" cy="266.45" r="0.52" fill="#2a2a33"/><circle cx="38.37" cy="278.43" r="0.52" fill="#2a2a33"/><circle cx="38.09" cy="268.49" r="0.52" fill="#2a2a33"/><circle cx="37" cy="267.41" r="0.52" fill="#2a2a33"/><circle cx="38.55" cy="265.87" r="0.52" fill="#2a2a33"/><path d="M58.98,263 C59.4,264.58 60.48,269.83 61.48,272.5 C62.48,275.17 64.03,277.08 64.98,279 C65.93,280.92 67.27,282.5 67.18,284 C67.1,285.5 65.77,286.42 64.48,288 C63.2,289.58 60.4,291.5 59.48,293.5 C58.57,295.5 59.07,297.67 58.98,300 C58.9,302.33 58.98,306.25 58.98,307.5 L55.98,307.5 C55.98,306.25 56.07,302.33 55.98,300 C55.9,297.67 56.4,295.5 55.48,293.5 C54.57,291.5 51.77,289.58 50.48,288 C49.2,286.42 47.87,285.5 47.78,284 C47.7,282.5 49.03,280.92 49.98,279 C50.93,277.08 52.48,275.17 53.48,272.5 C54.48,269.83 55.57,264.58 55.98,263 Z" fill="#c6c7d9" stroke="#3a3a44" stroke-width="0.65"/><line x1="57.48" y1="263" x2="57.48" y2="307.5" stroke="#555" stroke-width="0.3" opacity="0.7"/><rect x="55.38" y="273" width="4.2" height="16" fill="#9fa4c1" stroke="#444" stroke-width="0.35"/><circle cx="58.03" cy="287.9" r="0.52" fill="#2a2a33"/><circle cx="58.2" cy="274.74" r="0.52" fill="#2a2a33"/><circle cx="56.98" cy="290.2" r="0.52" fill="#2a2a33"/><circle cx="55.29" cy="282.87" r="0.52" fill="#2a2a33"/><circle cx="57.62" cy="306.66" r="0.52" fill="#2a2a33"/><circle cx="59.25" cy="283.49" r="0.52" fill="#2a2a33"/><circle cx="58.58" cy="283.31" r="0.52" fill="#2a2a33"/><circle cx="55.31" cy="276.14" r="0.52" fill="#2a2a33"/><circle cx="57.38" cy="286.82" r="0.52" fill="#2a2a33"/><circle cx="58.33" cy="275.23" r="0.52" fill="#2a2a33"/><circle cx="56.8" cy="279.6" r="0.52" fill="#2a2a33"/><circle cx="57.18" cy="287.72" r="0.52" fill="#2a2a33"/><circle cx="58.23" cy="267.79" r="0.52" fill="#2a2a33"/><circle cx="58.6" cy="276.59" r="0.52" fill="#2a2a33"/><circle cx="57.76" cy="284.48" r="0.52" fill="#2a2a33"/><circle cx="57.09" cy="285.99" r="0.52" fill="#2a2a33"/><circle cx="58.89" cy="286.86" r="0.52" fill="#2a2a33"/><circle cx="56.77" cy="275.78" r="0.52" fill="#2a2a33"/><circle cx="56.14" cy="276.88" r="0.52" fill="#2a2a33"/><path d="M81.67,259.5 C82.17,259.55 83.87,259.55 84.67,259.8 C85.47,260.05 86.08,260.47 86.47,261 C86.85,261.53 87.1,262.17 86.97,263 C86.83,263.83 86.22,264.83 85.67,266 C85.12,267.17 84.33,268.83 83.67,270 C83,271.17 82.25,271.95 81.67,273 C81.08,274.05 80.58,275.13 80.17,276.3 C79.75,277.47 79.37,278.55 79.17,280 C78.97,281.45 79.02,283.25 78.97,285 C78.92,286.75 78.88,289.58 78.87,290.5 L76.47,290.5 C76.45,289.58 76.42,286.75 76.37,285 C76.32,283.25 76.37,281.45 76.17,280 C75.97,278.55 75.58,277.47 75.17,276.3 C74.75,275.13 74.25,274.05 73.67,273 C73.08,271.95 72.33,271.17 71.67,270 C71,268.83 70.22,267.17 69.67,266 C69.12,264.83 68.5,263.83 68.37,263 C68.23,262.17 68.48,261.53 68.87,261 C69.25,260.47 69.87,260.05 70.67,259.8 C71.47,259.55 73.17,259.55 73.67,259.5 Z" fill="#818aa3" stroke="#3a3a44" stroke-width="0.65"/><line x1="77.67" y1="259.5" x2="77.67" y2="290.5" stroke="#555" stroke-width="0.3" opacity="0.7"/><rect x="75.57" y="260" width="4.2" height="12" fill="#687d9c" stroke="#444" stroke-width="0.35"/><circle cx="77.15" cy="283.43" r="0.52" fill="#2a2a33"/><circle cx="76.1" cy="262.11" r="0.52" fill="#2a2a33"/><circle cx="77.43" cy="278.85" r="0.52" fill="#2a2a33"/><circle cx="79.43" cy="265.83" r="0.52" fill="#2a2a33"/><circle cx="76.94" cy="287.44" r="0.52" fill="#2a2a33"/><circle cx="77.14" cy="261.56" r="0.52" fill="#2a2a33"/><circle cx="78.15" cy="285.33" r="0.52" fill="#2a2a33"/><circle cx="78.68" cy="265.56" r="0.52" fill="#2a2a33"/><circle cx="77.72" cy="273.19" r="0.52" fill="#2a2a33"/><circle cx="78.3" cy="266.42" r="0.52" fill="#2a2a33"/><circle cx="78.16" cy="261.54" r="0.52" fill="#2a2a33"/><circle cx="76.95" cy="289.28" r="0.52" fill="#2a2a33"/><circle cx="76.24" cy="261.73" r="0.52" fill="#2a2a33"/><circle cx="78.09" cy="261.15" r="0.52" fill="#2a2a33"/><circle cx="78.09" cy="272.88" r="0.52" fill="#2a2a33"/><circle cx="78.23" cy="265.71" r="0.52" fill="#2a2a33"/><circle cx="75.72" cy="259.83" r="0.52" fill="#2a2a33"/><circle cx="75.49" cy="260.23" r="0.52" fill="#2a2a33"/><circle cx="77.45" cy="264.19" r="0.52" fill="#2a2a33"/><path d="M103.85,254.2 C103.93,254.33 104.3,254.03 104.35,255 C104.4,255.97 104.13,258.33 104.15,260 C104.17,261.67 104.25,263.67 104.45,265 C104.65,266.33 104.95,266.92 105.35,268 C105.75,269.08 106.57,270.5 106.85,271.5 C107.13,272.5 107.08,273.25 107.05,274 C107.02,274.75 106.85,275.5 106.65,276 C106.45,276.5 105.98,276.83 105.85,277 L89.85,277 C89.72,276.83 89.25,276.5 89.05,276 C88.85,275.5 88.68,274.75 88.65,274 C88.62,273.25 88.57,272.5 88.85,271.5 C89.13,270.5 89.95,269.08 90.35,268 C90.75,266.92 91.05,266.33 91.25,265 C91.45,263.67 91.53,261.67 91.55,260 C91.57,258.33 91.3,255.97 91.35,255 C91.4,254.03 91.77,254.33 91.85,254.2 Z" fill="#c6c7d9" stroke="#3a3a44" stroke-width="0.65"/><line x1="97.85" y1="254.2" x2="97.85" y2="277" stroke="#555" stroke-width="0.3" opacity="0.7"/><rect x="95.75" y="258.1" width="4.2" height="15.8" fill="#9fa4c1" stroke="#444" stroke-width="0.35"/><circle cx="99.51" cy="272.06" r="0.52" fill="#2a2a33"/><circle cx="99.93" cy="256.32" r="0.52" fill="#2a2a33"/><circle cx="95.94" cy="270.5" r="0.52" fill="#2a2a33"/><circle cx="98.18" cy="264.2" r="0.52" fill="#2a2a33"/><circle cx="98.96" cy="274.38" r="0.52" fill="#2a2a33"/><circle cx="97.26" cy="254.95" r="0.52" fill="#2a2a33"/><circle cx="97.38" cy="268.05" r="0.52" fill="#2a2a33"/><circle cx="97.7" cy="270.35" r="0.52" fill="#2a2a33"/><path d="M119.03,256 C119.12,256.17 119.37,256.33 119.53,257 C119.7,257.67 119.78,258.6 120.03,260 C120.28,261.4 120.53,263.6 121.03,265.4 C121.53,267.2 122.28,269.37 123.03,270.8 C123.78,272.23 124.8,272.88 125.53,274 C126.27,275.12 127.35,276.33 127.43,277.5 C127.52,278.67 126.6,279.88 126.03,281 C125.47,282.12 124.7,283.2 124.03,284.2 C123.37,285.2 122.62,286.1 122.03,287 C121.45,287.9 120.98,288.6 120.53,289.6 C120.08,290.6 119.58,291.88 119.33,293 C119.08,294.12 119.08,295.75 119.03,296.3 L117.03,296.3 C116.98,295.75 116.98,294.12 116.73,293 C116.48,291.88 115.98,290.6 115.53,289.6 C115.08,288.6 114.62,287.9 114.03,287 C113.45,286.1 112.7,285.2 112.03,284.2 C111.37,283.2 110.6,282.12 110.03,281 C109.47,279.88 108.55,278.67 108.63,277.5 C108.72,276.33 109.8,275.12 110.53,274 C111.27,272.88 112.28,272.23 113.03,270.8 C113.78,269.37 114.53,267.2 115.03,265.4 C115.53,263.6 115.78,261.4 116.03,260 C116.28,258.6 116.37,257.67 116.53,257 C116.7,256.33 116.95,256.17 117.03,256 Z" fill="#c6c7d9" stroke="#3a3a44" stroke-width="0.65"/><line x1="118.03" y1="256" x2="118.03" y2="296.3" stroke="#555" stroke-width="0.3" opacity="0.7"/><rect x="115.93" y="268" width="4.2" height="16" fill="#9fa4c1" stroke="#444" stroke-width="0.35"/><circle cx="119.17" cy="284.84" r="0.52" fill="#2a2a33"/><circle cx="118.63" cy="282.24" r="0.52" fill="#2a2a33"/><circle cx="119.08" cy="279.25" r="0.52" fill="#2a2a33"/><circle cx="118.99" cy="270.29" r="0.52" fill="#2a2a33"/><circle cx="120.12" cy="276.8" r="0.52" fill="#2a2a33"/><circle cx="118.77" cy="283.78" r="0.52" fill="#2a2a33"/><circle cx="118.32" cy="284.78" r="0.52" fill="#2a2a33"/><circle cx="119.85" cy="281.68" r="0.52" fill="#2a2a33"/><circle cx="118.64" cy="286.22" r="0.52" fill="#2a2a33"/><circle cx="118.52" cy="280.95" r="0.52" fill="#2a2a33"/><circle cx="119.12" cy="264.51" r="0.52" fill="#2a2a33"/><circle cx="119.78" cy="278.11" r="0.52" fill="#2a2a33"/><circle cx="119.65" cy="265.25" r="0.52" fill="#2a2a33"/><circle cx="116.77" cy="260.96" r="0.52" fill="#2a2a33"/><circle cx="116.6" cy="274.17" r="0.52" fill="#2a2a33"/><circle cx="119.73" cy="276.37" r="0.52" fill="#2a2a33"/><circle cx="116.47" cy="267.49" r="0.52" fill="#2a2a33"/><circle cx="116.34" cy="265.7" r="0.52" fill="#2a2a33"/><circle cx="118.42" cy="291.57" r="0.52" fill="#2a2a33"/><path d="M143.22,244.5 C143.3,244.75 143.47,245.22 143.72,246 C143.97,246.78 144.3,248.2 144.72,249.2 C145.13,250.2 145.73,250.87 146.22,252 C146.7,253.13 147.53,254.83 147.62,256 C147.7,257.17 147.28,258 146.72,259 C146.15,260 144.97,261.17 144.22,262 C143.47,262.83 142.75,263.33 142.22,264 C141.68,264.67 141.35,265.33 141.02,266 C140.68,266.67 140.47,267.17 140.22,268 C139.97,268.83 139.68,269.87 139.52,271 C139.35,272.13 139.27,274.17 139.22,274.8 L137.22,274.8 C137.17,274.17 137.08,272.13 136.92,271 C136.75,269.87 136.47,268.83 136.22,268 C135.97,267.17 135.75,266.67 135.42,266 C135.08,265.33 134.75,264.67 134.22,264 C133.68,263.33 132.97,262.83 132.22,262 C131.47,261.17 130.28,260 129.72,259 C129.15,258 128.73,257.17 128.82,256 C128.9,254.83 129.73,253.13 130.22,252 C130.7,250.87 131.3,250.2 131.72,249.2 C132.13,248.2 132.47,246.78 132.72,246 C132.97,245.22 133.13,244.75 133.22,244.5 Z" fill="#818aa3" stroke="#3a3a44" stroke-width="0.65"/><line x1="138.22" y1="244.5" x2="138.22" y2="274.8" stroke="#555" stroke-width="0.3" opacity="0.7"/><rect x="136.12" y="250.6" width="4.2" height="13.4" fill="#687d9c" stroke="#444" stroke-width="0.35"/><circle cx="137.3" cy="249.96" r="0.52" fill="#2a2a33"/><circle cx="138.49" cy="249.21" r="0.52" fill="#2a2a33"/><circle cx="137.78" cy="244.89" r="0.52" fill="#2a2a33"/><circle cx="139.89" cy="247.24" r="0.52" fill="#2a2a33"/><circle cx="139.3" cy="257.01" r="0.52" fill="#2a2a33"/><circle cx="137.12" cy="258.54" r="0.52" fill="#2a2a33"/><circle cx="136.17" cy="249.74" r="0.52" fill="#2a2a33"/><circle cx="139.32" cy="260.03" r="0.52" fill="#2a2a33"/><circle cx="137.21" cy="245.92" r="0.52" fill="#2a2a33"/><circle cx="139.54" cy="259.42" r="0.52" fill="#2a2a33"/><circle cx="139.87" cy="262.31" r="0.52" fill="#2a2a33"/><circle cx="137.76" cy="252.79" r="0.52" fill="#2a2a33"/><circle cx="137.04" cy="248.64" r="0.52" fill="#2a2a33"/><circle cx="138.44" cy="251.79" r="0.52" fill="#2a2a33"/><circle cx="136.7" cy="250.87" r="0.52" fill="#2a2a33"/><circle cx="138.6" cy="260.13" r="0.52" fill="#2a2a33"/><circle cx="139.26" cy="247.93" r="0.52" fill="#2a2a33"/><circle cx="137.18" cy="268.12" r="0.52" fill="#2a2a33"/><circle cx="136.6" cy="244.57" r="0.52" fill="#2a2a33"/><path d="M165.9,230.4 C166.05,230.53 166.58,230.43 166.8,231.2 C167.02,231.97 167.08,231.87 167.2,235 C167.32,238.13 167.45,244.17 167.5,250 C167.55,255.83 167.53,265 167.5,270 C167.47,275 167.45,276.67 167.3,280 C167.15,283.33 166.83,287 166.6,290 C166.37,293 166.1,295.83 165.9,298 C165.7,300.17 165.65,301.82 165.4,303 C165.15,304.18 164.57,304.75 164.4,305.1 L152.4,305.1 C152.23,304.75 151.65,304.18 151.4,303 C151.15,301.82 151.1,300.17 150.9,298 C150.7,295.83 150.43,293 150.2,290 C149.97,287 149.65,283.33 149.5,280 C149.35,276.67 149.33,275 149.3,270 C149.27,265 149.25,255.83 149.3,250 C149.35,244.17 149.48,238.13 149.6,235 C149.72,231.87 149.78,231.97 150,231.2 C150.22,230.43 150.75,230.53 150.9,230.4 Z" fill="#cd8a84" stroke="#3a3a44" stroke-width="0.65"/><line x1="158.4" y1="230.4" x2="158.4" y2="305.1" stroke="#555" stroke-width="0.3" opacity="0.7"/><rect x="156.3" y="240.5" width="4.2" height="45.7" fill="#ab3347" stroke="#444" stroke-width="0.35"/><circle cx="156.66" cy="254.98" r="0.52" fill="#2a2a33"/><circle cx="157.59" cy="297.13" r="0.52" fill="#2a2a33"/><circle cx="156.51" cy="284.71" r="0.52" fill="#2a2a33"/><circle cx="159.74" cy="275.2" r="0.52" fill="#2a2a33"/><circle cx="157.48" cy="250.38" r="0.52" fill="#2a2a33"/><circle cx="159.84" cy="237.36" r="0.52" fill="#2a2a33"/><circle cx="158.9" cy="234.94" r="0.52" fill="#2a2a33"/><circle cx="160.24" cy="300.08" r="0.52" fill="#2a2a33"/><circle cx="157.13" cy="264.52" r="0.52" fill="#2a2a33"/><circle cx="159.78" cy="235.62" r="0.52" fill="#2a2a33"/><circle cx="159.58" cy="257.39" r="0.52" fill="#2a2a33"/><circle cx="160.1" cy="255.08" r="0.52" fill="#2a2a33"/><circle cx="156.24" cy="293.51" r="0.52" fill="#2a2a33"/><circle cx="160.19" cy="264.57" r="0.52" fill="#2a2a33"/><circle cx="159.82" cy="270.24" r="0.52" fill="#2a2a33"/><circle cx="156.77" cy="239.92" r="0.52" fill="#2a2a33"/><circle cx="157.21" cy="237.19" r="0.52" fill="#2a2a33"/><circle cx="159.85" cy="243.87" r="0.52" fill="#2a2a33"/><circle cx="159.27" cy="235.08" r="0.52" fill="#2a2a33"/><path d="M37.3,200.7 L37.3,198.9 L57.48,198.9 L57.48,200.7" fill="none" stroke="#333" stroke-width="1"/><text x="47.39" y="198" font-size="3.5" fill="#333" text-anchor="middle">*</text><path d="M57.48,190.8 L57.48,189 L77.67,189 L77.67,190.8" fill="none" stroke="#333" stroke-width="1"/><text x="67.57" y="188.1" font-size="3.5" fill="#333" text-anchor="middle">****</text><path d="M118.03,209.3 L118.03,207.5 L138.22,207.5 L138.22,209.3" fill="none" stroke="#333" stroke-width="1"/><text x="128.12" y="206.6" font-size="3.5" fill="#333" text-anchor="middle">****</text><path d="M97.85,218.9 L97.85,217.1 L138.22,217.1 L138.22,218.9" fill="none" stroke="#333" stroke-width="1"/><text x="118.03" y="216.2" font-size="3.5" fill="#333" text-anchor="middle">*</text><path d="M97.85,228.7 L97.85,226.9 L118.03,226.9 L118.03,228.7" fill="none" stroke="#333" stroke-width="1"/><text x="107.94" y="226" font-size="3.5" fill="#333" text-anchor="middle">*</text><text x="37.3" y="317.8" font-size="2.6" fill="#444" text-anchor="middle">n=8</text><text x="57.48" y="317.8" font-size="2.6" fill="#444" text-anchor="middle">n=19</text><text x="77.67" y="317.8" font-size="2.6" fill="#444" text-anchor="middle">n=19</text><text x="97.85" y="317.8" font-size="2.6" fill="#444" text-anchor="middle">n=8</text><text x="118.03" y="317.8" font-size="2.6" fill="#444" text-anchor="middle">n=19</text><text x="138.22" y="317.8" font-size="2.6" fill="#444" text-anchor="middle">n=19</text><text x="158.4" y="317.8" font-size="2.6" fill="#444" text-anchor="middle">n=19</text><rect x="25.3" y="183.1" width="145.1" height="139" fill="none" stroke="#222" stroke-width="1.2"/><line x1="22.6" y1="208.2" x2="25.3" y2="208.2" stroke="#222" stroke-width="1"/><text x="19.27" y="209.7" font-size="4.3" fill="#6a6a6a" textLength="2.03" lengthAdjust="spacingAndGlyphs">6</text><line x1="22.6" y1="245.6" x2="25.3" y2="245.6" stroke="#222" stroke-width="1"/><text x="19.27" y="247.1" font-size="4.3" fill="#6a6a6a" textLength="2.03" lengthAdjust="spacingAndGlyphs">4</text><line x1="22.6" y1="283" x2="25.3" y2="283" stroke="#222" stroke-width="1"/><text x="19.27" y="284.5" font-size="4.3" fill="#6a6a6a" textLength="2.03" lengthAdjust="spacingAndGlyphs">2</text><line x1="22.6" y1="320.4" x2="25.3" y2="320.4" stroke="#222" stroke-width="1"/><text x="19.27" y="321.9" font-size="4.3" fill="#6a6a6a" textLength="2.03" lengthAdjust="spacingAndGlyphs">0</text><line x1="37.3" y1="322.1" x2="37.3" y2="324.7" stroke="#222" stroke-width="1"/><text x="37.3" y="330" font-size="3.8" fill="#555" text-anchor="middle">HD CD8</text><line x1="57.48" y1="322.1" x2="57.48" y2="324.7" stroke="#222" stroke-width="1"/><text x="57.48" y="330" font-size="3.8" fill="#555" text-anchor="middle">PB CD8</text><line x1="77.67" y1="322.1" x2="77.67" y2="324.7" stroke="#222" stroke-width="1"/><text x="77.67" y="330" font-size="3.8" fill="#555" text-anchor="middle">TIL CD8</text><line x1="97.85" y1="322.1" x2="97.85" y2="324.7" stroke="#222" stroke-width="1"/><text x="97.85" y="330" font-size="3.8" fill="#555" text-anchor="middle">HD CD4</text><line x1="118.03" y1="322.1" x2="118.03" y2="324.7" stroke="#222" stroke-width="1"/><text x="118.03" y="330" font-size="3.8" fill="#555" text-anchor="middle">PB CD4</text><line x1="138.22" y1="322.1" x2="138.22" y2="324.7" stroke="#222" stroke-width="1"/><text x="138.22" y="330" font-size="3.8" fill="#555" text-anchor="middle">TIL CD4</text><line x1="158.4" y1="322.1" x2="158.4" y2="324.7" stroke="#222" stroke-width="1"/><text x="158.4" y="330" font-size="3.8" fill="#555" text-anchor="middle">Tumor</text><text x="15.9" y="252.6" font-size="6.2" fill="#2e2e2e" text-anchor="middle" textLength="10" lengthAdjust="spacingAndGlyphs" transform="rotate(-90 16.2 252.6)">MFI</text><text x="97.8" y="338.3" font-size="6.3" fill="#333" text-anchor="middle" textLength="29.2" lengthAdjust="spacingAndGlyphs">Population</text></g>
<g><text x="196.2" y="180.7" font-size="4.6" fill="#666" textLength="30.3" lengthAdjust="spacingAndGlyphs">TIM-3 Expression</text><path d="M212.8,255.3 C212.97,255.42 213.5,255.55 213.8,256 C214.1,256.45 214.27,257 214.6,258 C214.93,259 215.45,260.67 215.8,262 C216.15,263.33 216.47,264.33 216.7,266 C216.93,267.67 217.1,270.17 217.2,272 C217.3,273.83 217.37,275.8 217.3,277 C217.23,278.2 217.05,278.72 216.8,279.2 C216.55,279.68 215.97,279.78 215.8,279.9 L200.8,279.9 C200.63,279.78 200.05,279.68 199.8,279.2 C199.55,278.72 199.37,278.2 199.3,277 C199.23,275.8 199.3,273.83 199.4,272 C199.5,270.17 199.67,267.67 199.9,266 C200.13,264.33 200.45,263.33 200.8,262 C201.15,260.67 201.67,259 202,258 C202.33,257 202.5,256.45 202.8,256 C203.1,255.55 203.63,255.42 203.8,255.3 Z" fill="#c6c7d9" stroke="#3a3a44" stroke-width="0.65"/><line x1="208.3" y1="255.3" x2="208.3" y2="279.9" stroke="#555" stroke-width="0.3" opacity="0.7"/><rect x="206.2" y="261.6" width="4.2" height="13.3" fill="#9fa4c1" stroke="#444" stroke-width="0.35"/><circle cx="210.15" cy="264.91" r="0.52" fill="#2a2a33"/><circle cx="207.66" cy="273.68" r="0.52" fill="#2a2a33"/><circle cx="206.39" cy="264.76" r="0.52" fill="#2a2a33"/><circle cx="207.19" cy="270.55" r="0.52" fill="#2a2a33"/><circle cx="206.87" cy="276.71" r="0.52" fill="#2a2a33"/><circle cx="209.9" cy="279.02" r="0.52" fill="#2a2a33"/><circle cx="208.32" cy="267.21" r="0.52" fill="#2a2a33"/><circle cx="209.47" cy="274.01" r="0.52" fill="#2a2a33"/><path d="M229.5,270 C229.92,270.67 230.73,272.03 232,274 C233.27,275.97 236.6,279.63 237.1,281.8 C237.6,283.97 235.68,285.43 235,287 C234.32,288.57 233.08,289.73 233,291.2 C232.92,292.67 234.5,293.93 234.5,295.8 C234.5,297.67 233.25,301.3 233,302.4 L223,302.4 C222.75,301.3 221.5,297.67 221.5,295.8 C221.5,293.93 223.08,292.67 223,291.2 C222.92,289.73 221.68,288.57 221,287 C220.32,285.43 218.4,283.97 218.9,281.8 C219.4,279.63 222.73,275.97 224,274 C225.27,272.03 226.08,270.67 226.5,270 Z" fill="#c6c7d9" stroke="#3a3a44" stroke-width="0.65"/><line x1="228" y1="270" x2="228" y2="302.4" stroke="#555" stroke-width="0.3" opacity="0.7"/><rect x="225.9" y="278" width="4.2" height="17" fill="#9fa4c1" stroke="#444" stroke-width="0.35"/><circle cx="228.9" cy="291.49" r="0.52" fill="#2a2a33"/><circle cx="228.37" cy="285.48" r="0.52" fill="#2a2a33"/><circle cx="229.36" cy="289.09" r="0.52" fill="#2a2a33"/><circle cx="227.23" cy="284.71" r="0.52" fill="#2a2a33"/><circle cx="228.63" cy="302.16" r="0.52" fill="#2a2a33"/><circle cx="226.88" cy="289.31" r="0.52" fill="#2a2a33"/><circle cx="230.2" cy="287.21" r="0.52" fill="#2a2a33"/><circle cx="228.07" cy="295.18" r="0.52" fill="#2a2a33"/><circle cx="227.62" cy="298.11" r="0.52" fill="#2a2a33"/><circle cx="228.81" cy="281.85" r="0.52" fill="#2a2a33"/><circle cx="226.67" cy="287.79" r="0.52" fill="#2a2a33"/><circle cx="225.88" cy="276.14" r="0.52" fill="#2a2a33"/><circle cx="229.3" cy="287.64" r="0.52" fill="#2a2a33"/><circle cx="229.59" cy="294.61" r="0.52" fill="#2a2a33"/><circle cx="226.13" cy="278.66" r="0.52" fill="#2a2a33"/><circle cx="229.52" cy="299.6" r="0.52" fill="#2a2a33"/><circle cx="226.34" cy="296.12" r="0.52" fill="#2a2a33"/><circle cx="227.96" cy="278.91" r="0.52" fill="#2a2a33"/><circle cx="229.45" cy="298.97" r="0.52" fill="#2a2a33"/><path d="M249.2,236.3 C249.3,236.42 249.67,236.38 249.8,237 C249.93,237.62 249.93,238.83 250,240 C250.07,241.17 250.03,242.75 250.2,244 C250.37,245.25 250.67,246.33 251,247.5 C251.33,248.67 251.75,249.83 252.2,251 C252.65,252.17 253.2,253.32 253.7,254.5 C254.2,255.68 254.75,256.93 255.2,258.1 C255.65,259.27 256.13,260.33 256.4,261.5 C256.67,262.67 256.78,263.93 256.8,265.1 C256.82,266.27 256.68,267.33 256.5,268.5 C256.32,269.67 256.08,270.68 255.7,272.1 C255.32,273.52 254.7,275.12 254.2,277 C253.7,278.88 253.12,281.57 252.7,283.4 C252.28,285.23 251.95,286.6 251.7,288 C251.45,289.4 251.37,290.63 251.2,291.8 C251.03,292.97 250.87,293.95 250.7,295 C250.53,296.05 250.28,297.58 250.2,298.1 L245.2,298.1 C245.12,297.58 244.87,296.05 244.7,295 C244.53,293.95 244.37,292.97 244.2,291.8 C244.03,290.63 243.95,289.4 243.7,288 C243.45,286.6 243.12,285.23 242.7,283.4 C242.28,281.57 241.7,278.88 241.2,277 C240.7,275.12 240.08,273.52 239.7,272.1 C239.32,270.68 239.08,269.67 238.9,268.5 C238.72,267.33 238.58,266.27 238.6,265.1 C238.62,263.93 238.73,262.67 239,261.5 C239.27,260.33 239.75,259.27 240.2,258.1 C240.65,256.93 241.2,255.68 241.7,254.5 C242.2,253.32 242.75,252.17 243.2,251 C243.65,249.83 244.07,248.67 244.4,247.5 C244.73,246.33 245.03,245.25 245.2,244 C245.37,242.75 245.33,241.17 245.4,240 C245.47,238.83 245.47,237.62 245.6,237 C245.73,236.38 246.1,236.42 246.2,236.3 Z" fill="#818aa3" stroke="#3a3a44" stroke-width="0.65"/><line x1="247.7" y1="236.3" x2="247.7" y2="298.1" stroke="#555" stroke-width="0.3" opacity="0.7"/><rect x="245.6" y="263.7" width="4.2" height="19.7" fill="#687d9c" stroke="#444" stroke-width="0.35"/><circle cx="248.14" cy="261.75" r="0.52" fill="#2a2a33"/><circle cx="248.71" cy="285.77" r="0.52" fill="#2a2a33"/><circle cx="249.5" cy="249.36" r="0.52" fill="#2a2a33"/><circle cx="245.86" cy="266.13" r="0.52" fill="#2a2a33"/><circle cx="247.35" cy="250.78" r="0.52" fill="#2a2a33"/><circle cx="247.25" cy="256.54" r="0.52" fill="#2a2a33"/><circle cx="249.81" cy="274.7" r="0.52" fill="#2a2a33"/><circle cx="249.33" cy="271.23" r="0.52" fill="#2a2a33"/><circle cx="247.68" cy="292.23" r="0.52" fill="#2a2a33"/><circle cx="249.58" cy="269.03" r="0.52" fill="#2a2a33"/><circle cx="246.91" cy="271.09" r="0.52" fill="#2a2a33"/><circle cx="249.1" cy="269.26" r="0.52" fill="#2a2a33"/><circle cx="248.21" cy="271.11" r="0.52" fill="#2a2a33"/><circle cx="249.7" cy="279.7" r="0.52" fill="#2a2a33"/><circle cx="245.72" cy="277.21" r="0.52" fill="#2a2a33"/><circle cx="246.81" cy="292.24" r="0.52" fill="#2a2a33"/><circle cx="246.62" cy="266.81" r="0.52" fill="#2a2a33"/><circle cx="245.58" cy="289.48" r="0.52" fill="#2a2a33"/><circle cx="246.03" cy="284.98" r="0.52" fill="#2a2a33"/><path d="M269.6,253.4 C269.57,253.67 269.48,254.03 269.4,255 C269.32,255.97 269.05,258.03 269.1,259.2 C269.15,260.37 269.47,261.2 269.7,262 C269.93,262.8 269.82,262.08 270.5,264 C271.18,265.92 272.9,270.67 273.8,273.5 C274.7,276.33 275.43,279.25 275.9,281 C276.37,282.75 276.52,283.25 276.6,284 C276.68,284.75 276.6,285.12 276.4,285.5 C276.2,285.88 275.57,286.17 275.4,286.3 L259.4,286.3 C259.23,286.17 258.6,285.88 258.4,285.5 C258.2,285.12 258.12,284.75 258.2,284 C258.28,283.25 258.43,282.75 258.9,281 C259.37,279.25 260.1,276.33 261,273.5 C261.9,270.67 263.62,265.92 264.3,264 C264.98,262.08 264.87,262.8 265.1,262 C265.33,261.2 265.65,260.37 265.7,259.2 C265.75,258.03 265.48,255.97 265.4,255 C265.32,254.03 265.23,253.67 265.2,253.4 Z" fill="#c6c7d9" stroke="#3a3a44" stroke-width="0.65"/><line x1="267.4" y1="253.4" x2="267.4" y2="286.3" stroke="#555" stroke-width="0.3" opacity="0.7"/><rect x="265.3" y="273.5" width="4.2" height="11.4" fill="#9fa4c1" stroke="#444" stroke-width="0.35"/><circle cx="265.75" cy="269.24" r="0.52" fill="#2a2a33"/><circle cx="267.27" cy="283.29" r="0.52" fill="#2a2a33"/><circle cx="268.32" cy="282.27" r="0.52" fill="#2a2a33"/><circle cx="266.96" cy="279.63" r="0.52" fill="#2a2a33"/><circle cx="266.87" cy="273.53" r="0.52" fill="#2a2a33"/><circle cx="265.22" cy="277.68" r="0.52" fill="#2a2a33"/><circle cx="266.57" cy="277.27" r="0.52" fill="#2a2a33"/><circle cx="265.5" cy="281.95" r="0.52" fill="#2a2a33"/><path d="M290,271.6 C290,272.17 289.98,273.73 290,275 C290.02,276.27 289.58,277.87 290.1,279.2 C290.62,280.53 292.18,281.7 293.1,283 C294.02,284.3 295.1,285.73 295.6,287 C296.1,288.27 296.18,289.43 296.1,290.6 C296.02,291.77 295.52,293.05 295.1,294 C294.68,294.95 294.35,294.97 293.6,296.3 C292.85,297.63 291.35,300.38 290.6,302 C289.85,303.62 289.48,304.97 289.1,306 C288.72,307.03 288.43,307.83 288.3,308.2 L285.9,308.2 C285.77,307.83 285.48,307.03 285.1,306 C284.72,304.97 284.35,303.62 283.6,302 C282.85,300.38 281.35,297.63 280.6,296.3 C279.85,294.97 279.52,294.95 279.1,294 C278.68,293.05 278.18,291.77 278.1,290.6 C278.02,289.43 278.1,288.27 278.6,287 C279.1,285.73 280.18,284.3 281.1,283 C282.02,281.7 283.58,280.53 284.1,279.2 C284.62,277.87 284.18,276.27 284.2,275 C284.22,273.73 284.2,272.17 284.2,271.6 Z" fill="#c6c7d9" stroke="#3a3a44" stroke-width="0.65"/><line x1="287.1" y1="271.6" x2="287.1" y2="308.2" stroke="#555" stroke-width="0.3" opacity="0.7"/><rect x="285" y="285.8" width="4.2" height="10.5" fill="#9fa4c1" stroke="#444" stroke-width="0.35"/><circle cx="286.07" cy="273.5" r="0.52" fill="#2a2a33"/><circle cx="285.8" cy="283.49" r="0.52" fill="#2a2a33"/><circle cx="287.76" cy="300.75" r="0.52" fill="#2a2a33"/><circle cx="286.5" cy="286.85" r="0.52" fill="#2a2a33"/><circle cx="288" cy="283.42" r="0.52" fill="#2a2a33"/><circle cx="288.27" cy="290" r="0.52" fill="#2a2a33"/><circle cx="288.4" cy="296.24" r="0.52" fill="#2a2a33"/><circle cx="286.18" cy="297.78" r="0.52" fill="#2a2a33"/><circle cx="287.8" cy="290.97" r="0.52" fill="#2a2a33"/><circle cx="285.46" cy="298.25" r="0.52" fill="#2a2a33"/><circle cx="288.6" cy="283.26" r="0.52" fill="#2a2a33"/><circle cx="287.97" cy="294.85" r="0.52" fill="#2a2a33"/><circle cx="286.6" cy="295.4" r="0.52" fill="#2a2a33"/><circle cx="288.78" cy="299.82" r="0.52" fill="#2a2a33"/><circle cx="288.19" cy="278.46" r="0.52" fill="#2a2a33"/><circle cx="288.05" cy="301.05" r="0.52" fill="#2a2a33"/><circle cx="288.33" cy="284.93" r="0.52" fill="#2a2a33"/><circle cx="285.68" cy="289.48" r="0.52" fill="#2a2a33"/><circle cx="286.27" cy="284.08" r="0.52" fill="#2a2a33"/><path d="M308.3,263.5 C308.38,263.58 308.68,263.58 308.8,264 C308.92,264.42 308.92,265.27 309,266 C309.08,266.73 309.03,267.48 309.3,268.4 C309.57,269.32 310.1,270.47 310.6,271.5 C311.1,272.53 311.72,273.52 312.3,274.6 C312.88,275.68 313.57,276.75 314.1,278 C314.63,279.25 315.47,280.93 315.5,282.1 C315.53,283.27 314.92,283.77 314.3,285 C313.68,286.23 312.38,288.17 311.8,289.5 C311.22,290.83 311.13,291.75 310.8,293 C310.47,294.25 310.1,295.75 309.8,297 C309.5,298.25 309.25,299.37 309,300.5 C308.75,301.63 308.42,303.25 308.3,303.8 L305.3,303.8 C305.18,303.25 304.85,301.63 304.6,300.5 C304.35,299.37 304.1,298.25 303.8,297 C303.5,295.75 303.13,294.25 302.8,293 C302.47,291.75 302.38,290.83 301.8,289.5 C301.22,288.17 299.92,286.23 299.3,285 C298.68,283.77 298.07,283.27 298.1,282.1 C298.13,280.93 298.97,279.25 299.5,278 C300.03,276.75 300.72,275.68 301.3,274.6 C301.88,273.52 302.5,272.53 303,271.5 C303.5,270.47 304.03,269.32 304.3,268.4 C304.57,267.48 304.52,266.73 304.6,266 C304.68,265.27 304.68,264.42 304.8,264 C304.92,263.58 305.22,263.58 305.3,263.5 Z" fill="#818aa3" stroke="#3a3a44" stroke-width="0.65"/><line x1="306.8" y1="263.5" x2="306.8" y2="303.8" stroke="#555" stroke-width="0.3" opacity="0.7"/><rect x="304.7" y="277.1" width="4.2" height="9.9" fill="#687d9c" stroke="#444" stroke-width="0.35"/><circle cx="306.65" cy="289.73" r="0.52" fill="#2a2a33"/><circle cx="306.25" cy="279.4" r="0.52" fill="#2a2a33"/><circle cx="308.21" cy="282.96" r="0.52" fill="#2a2a33"/><circle cx="306.49" cy="283.16" r="0.52" fill="#2a2a33"/><circle cx="306.3" cy="278.65" r="0.52" fill="#2a2a33"/><circle cx="306.27" cy="287.77" r="0.52" fill="#2a2a33"/><circle cx="307.5" cy="275.66" r="0.52" fill="#2a2a33"/><circle cx="308.01" cy="288.6" r="0.52" fill="#2a2a33"/><circle cx="305.35" cy="272.22" r="0.52" fill="#2a2a33"/><circle cx="306.39" cy="285.77" r="0.52" fill="#2a2a33"/><circle cx="307.18" cy="266.03" r="0.52" fill="#2a2a33"/><circle cx="307.08" cy="276.38" r="0.52" fill="#2a2a33"/><circle cx="305.02" cy="287.71" r="0.52" fill="#2a2a33"/><circle cx="308.46" cy="289.76" r="0.52" fill="#2a2a33"/><circle cx="306.01" cy="267.73" r="0.52" fill="#2a2a33"/><circle cx="306.91" cy="279.72" r="0.52" fill="#2a2a33"/><circle cx="308.43" cy="286.35" r="0.52" fill="#2a2a33"/><circle cx="307.64" cy="282.29" r="0.52" fill="#2a2a33"/><circle cx="306.59" cy="275.76" r="0.52" fill="#2a2a33"/><path d="M328,230.4 C328.33,232 329.25,236.73 330,240 C330.75,243.27 331.58,245.37 332.5,250 C333.42,254.63 335.33,262.8 335.5,267.8 C335.67,272.8 334.33,275.97 333.5,280 C332.67,284.03 331.42,287.8 330.5,292 C329.58,296.2 328.42,303 328,305.2 L325,305.2 C324.58,303 323.42,296.2 322.5,292 C321.58,287.8 320.33,284.03 319.5,280 C318.67,275.97 317.33,272.8 317.5,267.8 C317.67,262.8 319.58,254.63 320.5,250 C321.42,245.37 322.25,243.27 323,240 C323.75,236.73 324.67,232 325,230.4 Z" fill="#cd8a84" stroke="#3a3a44" stroke-width="0.65"/><line x1="326.5" y1="230.4" x2="326.5" y2="305.2" stroke="#555" stroke-width="0.3" opacity="0.7"/><rect x="324.4" y="258.2" width="4.2" height="25.1" fill="#ab3347" stroke="#444" stroke-width="0.35"/><circle cx="324.84" cy="274.15" r="0.52" fill="#2a2a33"/><circle cx="327.32" cy="300.1" r="0.52" fill="#2a2a33"/><circle cx="327.15" cy="261.65" r="0.52" fill="#2a2a33"/><circle cx="324.5" cy="264.03" r="0.52" fill="#2a2a33"/><circle cx="326.68" cy="286.64" r="0.52" fill="#2a2a33"/><circle cx="327.1" cy="280.66" r="0.52" fill="#2a2a33"/><circle cx="327.45" cy="294.29" r="0.52" fill="#2a2a33"/><circle cx="328.05" cy="288.13" r="0.52" fill="#2a2a33"/><circle cx="326.94" cy="258.82" r="0.52" fill="#2a2a33"/><circle cx="326.74" cy="285.75" r="0.52" fill="#2a2a33"/><circle cx="325.24" cy="261.73" r="0.52" fill="#2a2a33"/><circle cx="326.25" cy="282.85" r="0.52" fill="#2a2a33"/><circle cx="327.06" cy="267.08" r="0.52" fill="#2a2a33"/><circle cx="325.86" cy="273.6" r="0.52" fill="#2a2a33"/><circle cx="328.07" cy="278.59" r="0.52" fill="#2a2a33"/><circle cx="324.79" cy="260.09" r="0.52" fill="#2a2a33"/><circle cx="325.63" cy="268.51" r="0.52" fill="#2a2a33"/><circle cx="328.16" cy="266.19" r="0.52" fill="#2a2a33"/><circle cx="325.43" cy="250.97" r="0.52" fill="#2a2a33"/><path d="M208.3,200.2 L208.3,198.4 L228,198.4 L228,200.2" fill="none" stroke="#333" stroke-width="1"/><text x="218.15" y="197.5" font-size="3.5" fill="#333" text-anchor="middle">***</text><path d="M228,190.8 L228,189 L247.7,189 L247.7,190.8" fill="none" stroke="#333" stroke-width="1"/><text x="237.85" y="188.1" font-size="3.5" fill="#333" text-anchor="middle">**</text><path d="M306.8,209.3 L306.8,207.5 L326.5,207.5 L326.5,209.3" fill="none" stroke="#333" stroke-width="1"/><text x="316.65" y="206.6" font-size="3.5" fill="#333" text-anchor="middle">*</text><path d="M287.1,218.9 L287.1,217.1 L326.5,217.1 L326.5,218.9" fill="none" stroke="#333" stroke-width="1"/><text x="306.8" y="216.2" font-size="3.5" fill="#333" text-anchor="middle">***</text><path d="M267.4,228.7 L267.4,226.9 L287.1,226.9 L287.1,228.7" fill="none" stroke="#333" stroke-width="1"/><text x="277.25" y="226" font-size="3.5" fill="#333" text-anchor="middle">**</text><text x="208.3" y="317.8" font-size="2.6" fill="#444" text-anchor="middle">n=8</text><text x="228" y="317.8" font-size="2.6" fill="#444" text-anchor="middle">n=19</text><text x="247.7" y="317.8" font-size="2.6" fill="#444" text-anchor="middle">n=19</text><text x="267.4" y="317.8" font-size="2.6" fill="#444" text-anchor="middle">n=8</text><text x="287.1" y="317.8" font-size="2.6" fill="#444" text-anchor="middle">n=19</text><text x="306.8" y="317.8" font-size="2.6" fill="#444" text-anchor="middle">n=19</text><text x="326.5" y="317.8" font-size="2.6" fill="#444" text-anchor="middle">n=19</text><rect x="196.5" y="183.3" width="141.5" height="138.8" fill="none" stroke="#222" stroke-width="1.2"/><line x1="193.8" y1="194.2" x2="196.5" y2="194.2" stroke="#222" stroke-width="1"/><text x="187.42" y="195.7" font-size="4.3" fill="#6a6a6a" textLength="5.08" lengthAdjust="spacingAndGlyphs">2.0</text><line x1="193.8" y1="228.1" x2="196.5" y2="228.1" stroke="#222" stroke-width="1"/><text x="187.42" y="229.6" font-size="4.3" fill="#6a6a6a" textLength="5.08" lengthAdjust="spacingAndGlyphs">1.5</text><line x1="193.8" y1="262.4" x2="196.5" y2="262.4" stroke="#222" stroke-width="1"/><text x="187.42" y="263.9" font-size="4.3" fill="#6a6a6a" textLength="5.08" lengthAdjust="spacingAndGlyphs">1.0</text><line x1="193.8" y1="296.5" x2="196.5" y2="296.5" stroke="#222" stroke-width="1"/><text x="187.42" y="298" font-size="4.3" fill="#6a6a6a" textLength="5.08" lengthAdjust="spacingAndGlyphs">0.5</text><line x1="208.3" y1="322.1" x2="208.3" y2="324.7" stroke="#222" stroke-width="1"/><text x="208.3" y="330" font-size="3.8" fill="#555" text-anchor="middle">HD CD8</text><line x1="228" y1="322.1" x2="228" y2="324.7" stroke="#222" stroke-width="1"/><text x="228" y="330" font-size="3.8" fill="#555" text-anchor="middle">PB CD8</text><line x1="247.7" y1="322.1" x2="247.7" y2="324.7" stroke="#222" stroke-width="1"/><text x="247.7" y="330" font-size="3.8" fill="#555" text-anchor="middle">TIL CD8</text><line x1="267.4" y1="322.1" x2="267.4" y2="324.7" stroke="#222" stroke-width="1"/><text x="267.4" y="330" font-size="3.8" fill="#555" text-anchor="middle">HD CD4</text><line x1="287.1" y1="322.1" x2="287.1" y2="324.7" stroke="#222" stroke-width="1"/><text x="287.1" y="330" font-size="3.8" fill="#555" text-anchor="middle">PB CD4</text><line x1="306.8" y1="322.1" x2="306.8" y2="324.7" stroke="#222" stroke-width="1"/><text x="306.8" y="330" font-size="3.8" fill="#555" text-anchor="middle">TIL CD4</text><line x1="326.5" y1="322.1" x2="326.5" y2="324.7" stroke="#222" stroke-width="1"/><text x="326.5" y="330" font-size="3.8" fill="#555" text-anchor="middle">Tumor</text><text x="183.2" y="252.7" font-size="6.2" fill="#2e2e2e" text-anchor="middle" textLength="10" lengthAdjust="spacingAndGlyphs" transform="rotate(-90 183.5 252.7)">MFI</text><text x="269.2" y="338.3" font-size="6.3" fill="#333" text-anchor="middle" textLength="29.2" lengthAdjust="spacingAndGlyphs">Population</text></g>
<g><text x="367.8" y="180.5" font-size="4.6" fill="#666" textLength="29" lengthAdjust="spacingAndGlyphs">TIGIT Expression</text><path d="M382.6,237.9 C382.62,238.25 382.67,238.42 382.7,240 C382.73,241.58 382.65,245.57 382.8,247.4 C382.95,249.23 383.27,249.7 383.6,251 C383.93,252.3 384.38,254.03 384.8,255.2 C385.22,256.37 385.68,256.95 386.1,258 C386.52,259.05 386.93,260.33 387.3,261.5 C387.67,262.67 388.03,263.68 388.3,265 C388.57,266.32 388.87,267.9 388.9,269.4 C388.93,270.9 388.77,272.15 388.5,274 C388.23,275.85 387.7,278.33 387.3,280.5 C386.9,282.67 386.43,284.9 386.1,287 C385.77,289.1 385.52,290.93 385.3,293.1 C385.08,295.27 384.93,298.03 384.8,300 C384.67,301.97 384.55,304.08 384.5,304.9 L375.1,304.9 C375.05,304.08 374.93,301.97 374.8,300 C374.67,298.03 374.52,295.27 374.3,293.1 C374.08,290.93 373.83,289.1 373.5,287 C373.17,284.9 372.7,282.67 372.3,280.5 C371.9,278.33 371.37,275.85 371.1,274 C370.83,272.15 370.67,270.9 370.7,269.4 C370.73,267.9 371.03,266.32 371.3,265 C371.57,263.68 371.93,262.67 372.3,261.5 C372.67,260.33 373.08,259.05 373.5,258 C373.92,256.95 374.38,256.37 374.8,255.2 C375.22,254.03 375.67,252.3 376,251 C376.33,249.7 376.65,249.23 376.8,247.4 C376.95,245.57 376.87,241.58 376.9,240 C376.93,238.42 376.98,238.25 377,237.9 Z" fill="#c6c7d9" stroke="#3a3a44" stroke-width="0.65"/><line x1="379.8" y1="237.9" x2="379.8" y2="304.9" stroke="#555" stroke-width="0.3" opacity="0.7"/><rect x="377.7" y="267.1" width="4.2" height="21.3" fill="#9fa4c1" stroke="#444" stroke-width="0.35"/><circle cx="378.78" cy="280.42" r="0.52" fill="#2a2a33"/><circle cx="380.33" cy="279.55" r="0.52" fill="#2a2a33"/><circle cx="380.95" cy="242.66" r="0.52" fill="#2a2a33"/><circle cx="378.01" cy="289.81" r="0.52" fill="#2a2a33"/><circle cx="378.61" cy="285" r="0.52" fill="#2a2a33"/><circle cx="378.52" cy="280.99" r="0.52" fill="#2a2a33"/><circle cx="379.25" cy="269.01" r="0.52" fill="#2a2a33"/><circle cx="381.51" cy="241.01" r="0.52" fill="#2a2a33"/><path d="M405.07,269.4 C405.17,269.5 405.57,269.4 405.67,270 C405.77,270.6 405.65,271.78 405.67,273 C405.68,274.22 405.57,275.97 405.77,277.3 C405.97,278.63 406.43,279.72 406.87,281 C407.3,282.28 407.98,283.77 408.37,285 C408.75,286.23 409.08,287.23 409.17,288.4 C409.25,289.57 409.13,290.73 408.87,292 C408.6,293.27 408.03,294.75 407.57,296 C407.1,297.25 406.48,298.67 406.07,299.5 C405.65,300.33 405.23,300.75 405.07,301 L395.07,301 C394.9,300.75 394.48,300.33 394.07,299.5 C393.65,298.67 393.03,297.25 392.57,296 C392.1,294.75 391.53,293.27 391.27,292 C391,290.73 390.88,289.57 390.97,288.4 C391.05,287.23 391.38,286.23 391.77,285 C392.15,283.77 392.83,282.28 393.27,281 C393.7,279.72 394.17,278.63 394.37,277.3 C394.57,275.97 394.45,274.22 394.47,273 C394.48,271.78 394.37,270.6 394.47,270 C394.57,269.4 394.97,269.5 395.07,269.4 Z" fill="#c6c7d9" stroke="#3a3a44" stroke-width="0.65"/><line x1="400.07" y1="269.4" x2="400.07" y2="301" stroke="#555" stroke-width="0.3" opacity="0.7"/><rect x="397.97" y="273.4" width="4.2" height="16.6" fill="#9fa4c1" stroke="#444" stroke-width="0.35"/><circle cx="398.72" cy="275.75" r="0.52" fill="#2a2a33"/><circle cx="402.05" cy="282.73" r="0.52" fill="#2a2a33"/><circle cx="399.23" cy="296.3" r="0.52" fill="#2a2a33"/><circle cx="399.51" cy="272.2" r="0.52" fill="#2a2a33"/><circle cx="400.12" cy="279.71" r="0.52" fill="#2a2a33"/><circle cx="400.73" cy="275.54" r="0.52" fill="#2a2a33"/><circle cx="401.06" cy="297.14" r="0.52" fill="#2a2a33"/><circle cx="401.38" cy="287.11" r="0.52" fill="#2a2a33"/><circle cx="399.94" cy="300.09" r="0.52" fill="#2a2a33"/><circle cx="401.55" cy="287.67" r="0.52" fill="#2a2a33"/><circle cx="402.07" cy="293.56" r="0.52" fill="#2a2a33"/><circle cx="402.13" cy="288.09" r="0.52" fill="#2a2a33"/><circle cx="401.01" cy="297.06" r="0.52" fill="#2a2a33"/><circle cx="399.96" cy="274.82" r="0.52" fill="#2a2a33"/><circle cx="398.72" cy="285.53" r="0.52" fill="#2a2a33"/><circle cx="398.38" cy="287.18" r="0.52" fill="#2a2a33"/><circle cx="398.16" cy="279.04" r="0.52" fill="#2a2a33"/><circle cx="398.29" cy="275.65" r="0.52" fill="#2a2a33"/><circle cx="399.44" cy="289.53" r="0.52" fill="#2a2a33"/><path d="M421.53,245.8 C421.58,246 421.62,246.22 421.83,247 C422.05,247.78 422.33,249.13 422.83,250.5 C423.33,251.87 424.08,253.62 424.83,255.2 C425.58,256.78 426.65,258.7 427.33,260 C428.02,261.3 428.55,262.08 428.93,263 C429.32,263.92 429.68,264.75 429.63,265.5 C429.58,266.25 429.1,266.85 428.63,267.5 C428.17,268.15 427.47,268.82 426.83,269.4 C426.2,269.98 425.42,270.47 424.83,271 C424.25,271.53 423.78,272.1 423.33,272.6 C422.88,273.1 422.47,273.48 422.13,274 C421.8,274.52 421.5,274.88 421.33,275.7 C421.17,276.52 421.03,278.02 421.13,278.9 C421.23,279.78 421.65,280.22 421.93,281 C422.22,281.78 422.7,282.63 422.83,283.6 C422.97,284.57 422.85,285.82 422.73,286.8 C422.62,287.78 422.37,288.58 422.13,289.5 C421.9,290.42 421.47,291.83 421.33,292.3 L419.33,292.3 C419.2,291.83 418.77,290.42 418.53,289.5 C418.3,288.58 418.05,287.78 417.93,286.8 C417.82,285.82 417.7,284.57 417.83,283.6 C417.97,282.63 418.45,281.78 418.73,281 C419.02,280.22 419.43,279.78 419.53,278.9 C419.63,278.02 419.5,276.52 419.33,275.7 C419.17,274.88 418.87,274.52 418.53,274 C418.2,273.48 417.78,273.1 417.33,272.6 C416.88,272.1 416.42,271.53 415.83,271 C415.25,270.47 414.47,269.98 413.83,269.4 C413.2,268.82 412.5,268.15 412.03,267.5 C411.57,266.85 411.08,266.25 411.03,265.5 C410.98,264.75 411.35,263.92 411.73,263 C412.12,262.08 412.65,261.3 413.33,260 C414.02,258.7 415.08,256.78 415.83,255.2 C416.58,253.62 417.33,251.87 417.83,250.5 C418.33,249.13 418.62,247.78 418.83,247 C419.05,246.22 419.08,246 419.13,245.8 Z" fill="#818aa3" stroke="#3a3a44" stroke-width="0.65"/><line x1="420.33" y1="245.8" x2="420.33" y2="292.3" stroke="#555" stroke-width="0.3" opacity="0.7"/><rect x="418.23" y="258.4" width="4.2" height="9.5" fill="#687d9c" stroke="#444" stroke-width="0.35"/><circle cx="419.21" cy="265.34" r="0.52" fill="#2a2a33"/><circle cx="421.02" cy="289.35" r="0.52" fill="#2a2a33"/><circle cx="420.46" cy="266.48" r="0.52" fill="#2a2a33"/><circle cx="418.86" cy="251.16" r="0.52" fill="#2a2a33"/><circle cx="420.35" cy="263.85" r="0.52" fill="#2a2a33"/><circle cx="420.47" cy="257.44" r="0.52" fill="#2a2a33"/><circle cx="419.88" cy="261.7" r="0.52" fill="#2a2a33"/><circle cx="420.62" cy="282.33" r="0.52" fill="#2a2a33"/><circle cx="420.09" cy="247.63" r="0.52" fill="#2a2a33"/><circle cx="421.76" cy="252.76" r="0.52" fill="#2a2a33"/><circle cx="420.89" cy="270.12" r="0.52" fill="#2a2a33"/><circle cx="419.13" cy="267.77" r="0.52" fill="#2a2a33"/><circle cx="420.17" cy="278.66" r="0.52" fill="#2a2a33"/><circle cx="421.26" cy="268.59" r="0.52" fill="#2a2a33"/><circle cx="422.44" cy="263.5" r="0.52" fill="#2a2a33"/><circle cx="419.11" cy="266.31" r="0.52" fill="#2a2a33"/><circle cx="419.27" cy="252.7" r="0.52" fill="#2a2a33"/><circle cx="420.4" cy="281.2" r="0.52" fill="#2a2a33"/><circle cx="420.24" cy="263.92" r="0.52" fill="#2a2a33"/><path d="M446.4,286.5 C446.77,286.75 448.02,286.83 448.6,288 C449.18,289.17 449.82,291.17 449.9,293.5 C449.98,295.83 449.48,299.67 449.1,302 C448.72,304.33 447.85,306.58 447.6,307.5 L433.6,307.5 C433.35,306.58 432.48,304.33 432.1,302 C431.72,299.67 431.22,295.83 431.3,293.5 C431.38,291.17 432.02,289.17 432.6,288 C433.18,286.83 434.43,286.75 434.8,286.5 Z" fill="#c6c7d9" stroke="#3a3a44" stroke-width="0.65"/><line x1="440.6" y1="286.5" x2="440.6" y2="307.5" stroke="#555" stroke-width="0.3" opacity="0.7"/><rect x="438.5" y="290" width="4.2" height="14" fill="#9fa4c1" stroke="#444" stroke-width="0.35"/><circle cx="440.42" cy="299.52" r="0.52" fill="#2a2a33"/><circle cx="442.2" cy="305.39" r="0.52" fill="#2a2a33"/><circle cx="442.21" cy="305.31" r="0.52" fill="#2a2a33"/><circle cx="440.99" cy="291.87" r="0.52" fill="#2a2a33"/><circle cx="439.78" cy="301.67" r="0.52" fill="#2a2a33"/><circle cx="442.53" cy="303.35" r="0.52" fill="#2a2a33"/><circle cx="440.82" cy="296.08" r="0.52" fill="#2a2a33"/><circle cx="439.78" cy="290.87" r="0.52" fill="#2a2a33"/><path d="M465.87,290.2 C466.12,290.3 466.82,290.5 467.37,290.8 C467.92,291.1 468.7,291.47 469.17,292 C469.63,292.53 469.97,293.17 470.17,294 C470.37,294.83 470.38,296 470.37,297 C470.35,298 470.27,299.08 470.07,300 C469.87,300.92 469.53,301.83 469.17,302.5 C468.8,303.17 468.08,303.75 467.87,304 L453.87,304 C453.65,303.75 452.93,303.17 452.57,302.5 C452.2,301.83 451.87,300.92 451.67,300 C451.47,299.08 451.38,298 451.37,297 C451.35,296 451.37,294.83 451.57,294 C451.77,293.17 452.1,292.53 452.57,292 C453.03,291.47 453.82,291.1 454.37,290.8 C454.92,290.5 455.62,290.3 455.87,290.2 Z" fill="#c6c7d9" stroke="#3a3a44" stroke-width="0.65"/><line x1="460.87" y1="290.2" x2="460.87" y2="304" stroke="#555" stroke-width="0.3" opacity="0.7"/><rect x="458.77" y="292" width="4.2" height="10" fill="#9fa4c1" stroke="#444" stroke-width="0.35"/><circle cx="461.93" cy="295.77" r="0.52" fill="#2a2a33"/><circle cx="462.42" cy="291.71" r="0.52" fill="#2a2a33"/><circle cx="460.46" cy="298.93" r="0.52" fill="#2a2a33"/><circle cx="461.6" cy="303.43" r="0.52" fill="#2a2a33"/><circle cx="458.84" cy="296.56" r="0.52" fill="#2a2a33"/><circle cx="461.55" cy="297.14" r="0.52" fill="#2a2a33"/><circle cx="461.94" cy="301.8" r="0.52" fill="#2a2a33"/><circle cx="459.12" cy="294.02" r="0.52" fill="#2a2a33"/><circle cx="459.03" cy="297.79" r="0.52" fill="#2a2a33"/><circle cx="461.86" cy="299.98" r="0.52" fill="#2a2a33"/><circle cx="459.49" cy="301.2" r="0.52" fill="#2a2a33"/><circle cx="459.22" cy="298.47" r="0.52" fill="#2a2a33"/><circle cx="459.83" cy="300.83" r="0.52" fill="#2a2a33"/><circle cx="461.82" cy="301.96" r="0.52" fill="#2a2a33"/><circle cx="459.56" cy="301.22" r="0.52" fill="#2a2a33"/><circle cx="460.92" cy="298.83" r="0.52" fill="#2a2a33"/><circle cx="458.68" cy="299.78" r="0.52" fill="#2a2a33"/><circle cx="462.74" cy="293.21" r="0.52" fill="#2a2a33"/><circle cx="459.58" cy="297.66" r="0.52" fill="#2a2a33"/><path d="M482.93,230 C483.05,231.67 483.27,236.03 483.63,240 C484,243.97 484.3,249.63 485.13,253.8 C485.97,257.97 487.78,261.12 488.63,265 C489.48,268.88 490.32,273.27 490.23,277.1 C490.15,280.93 488.98,285.07 488.13,288 C487.28,290.93 485.63,293.58 485.13,294.7 L477.13,294.7 C476.63,293.58 474.98,290.93 474.13,288 C473.28,285.07 472.12,280.93 472.03,277.1 C471.95,273.27 472.78,268.88 473.63,265 C474.48,261.12 476.3,257.97 477.13,253.8 C477.97,249.63 478.27,243.97 478.63,240 C479,236.03 479.22,231.67 479.33,230 Z" fill="#818aa3" stroke="#3a3a44" stroke-width="0.65"/><line x1="481.13" y1="230" x2="481.13" y2="294.7" stroke="#555" stroke-width="0.3" opacity="0.7"/><rect x="479.03" y="264.2" width="4.2" height="19.5" fill="#687d9c" stroke="#444" stroke-width="0.35"/><circle cx="479.73" cy="240.14" r="0.52" fill="#2a2a33"/><circle cx="481.77" cy="289.39" r="0.52" fill="#2a2a33"/><circle cx="481.44" cy="281.71" r="0.52" fill="#2a2a33"/><circle cx="481.48" cy="293.32" r="0.52" fill="#2a2a33"/><circle cx="481.66" cy="283.27" r="0.52" fill="#2a2a33"/><circle cx="479.88" cy="286.79" r="0.52" fill="#2a2a33"/><circle cx="482.3" cy="282.32" r="0.52" fill="#2a2a33"/><circle cx="482.92" cy="286.52" r="0.52" fill="#2a2a33"/><circle cx="483.09" cy="292.62" r="0.52" fill="#2a2a33"/><circle cx="480.95" cy="244.41" r="0.52" fill="#2a2a33"/><circle cx="483.06" cy="270.1" r="0.52" fill="#2a2a33"/><circle cx="480.89" cy="279.03" r="0.52" fill="#2a2a33"/><circle cx="480.58" cy="260.06" r="0.52" fill="#2a2a33"/><circle cx="481.92" cy="290.41" r="0.52" fill="#2a2a33"/><circle cx="481.48" cy="283.13" r="0.52" fill="#2a2a33"/><circle cx="482.57" cy="287.6" r="0.52" fill="#2a2a33"/><circle cx="482.99" cy="284.21" r="0.52" fill="#2a2a33"/><circle cx="481.84" cy="230.85" r="0.52" fill="#2a2a33"/><circle cx="480.84" cy="261.79" r="0.52" fill="#2a2a33"/><path d="M502.9,222.8 C502.97,222.92 503.1,222.02 503.3,223.5 C503.5,224.98 503.78,229.28 504.1,231.7 C504.42,234.12 504.82,235.72 505.2,238 C505.58,240.28 506.07,243.07 506.4,245.4 C506.73,247.73 506.95,249.7 507.2,252 C507.45,254.3 507.68,256.87 507.9,259.2 C508.12,261.53 508.3,263.72 508.5,266 C508.7,268.28 508.9,270.57 509.1,272.9 C509.3,275.23 509.5,277.72 509.7,280 C509.9,282.28 510.13,284.77 510.3,286.6 C510.47,288.43 510.62,289.63 510.7,291 C510.78,292.37 510.83,293.55 510.8,294.8 C510.77,296.05 510.63,297.35 510.5,298.5 C510.37,299.65 510.22,300.62 510,301.7 C509.78,302.78 509.47,304.08 509.2,305 C508.93,305.92 508.53,306.83 508.4,307.2 L494.4,307.2 C494.27,306.83 493.87,305.92 493.6,305 C493.33,304.08 493.02,302.78 492.8,301.7 C492.58,300.62 492.43,299.65 492.3,298.5 C492.17,297.35 492.03,296.05 492,294.8 C491.97,293.55 492.02,292.37 492.1,291 C492.18,289.63 492.33,288.43 492.5,286.6 C492.67,284.77 492.9,282.28 493.1,280 C493.3,277.72 493.5,275.23 493.7,272.9 C493.9,270.57 494.1,268.28 494.3,266 C494.5,263.72 494.68,261.53 494.9,259.2 C495.12,256.87 495.35,254.3 495.6,252 C495.85,249.7 496.07,247.73 496.4,245.4 C496.73,243.07 497.22,240.28 497.6,238 C497.98,235.72 498.38,234.12 498.7,231.7 C499.02,229.28 499.3,224.98 499.5,223.5 C499.7,222.02 499.83,222.92 499.9,222.8 Z" fill="#cd8a84" stroke="#3a3a44" stroke-width="0.65"/><line x1="501.4" y1="222.8" x2="501.4" y2="307.2" stroke="#555" stroke-width="0.3" opacity="0.7"/><rect x="499.3" y="255.7" width="4.2" height="42.5" fill="#ab3347" stroke="#444" stroke-width="0.35"/><circle cx="501.65" cy="263.76" r="0.52" fill="#2a2a33"/><circle cx="499.47" cy="301.76" r="0.52" fill="#2a2a33"/><circle cx="501.94" cy="225.01" r="0.52" fill="#2a2a33"/><circle cx="503.13" cy="254.76" r="0.52" fill="#2a2a33"/><circle cx="500.39" cy="245.9" r="0.52" fill="#2a2a33"/><circle cx="500.75" cy="269.44" r="0.52" fill="#2a2a33"/><circle cx="500.23" cy="280.95" r="0.52" fill="#2a2a33"/><circle cx="502.57" cy="269.1" r="0.52" fill="#2a2a33"/><circle cx="502.51" cy="255.34" r="0.52" fill="#2a2a33"/><circle cx="502.21" cy="260.94" r="0.52" fill="#2a2a33"/><circle cx="503.38" cy="260.98" r="0.52" fill="#2a2a33"/><circle cx="502.77" cy="290.06" r="0.52" fill="#2a2a33"/><circle cx="503.41" cy="258.9" r="0.52" fill="#2a2a33"/><circle cx="502.36" cy="250.42" r="0.52" fill="#2a2a33"/><circle cx="499.42" cy="257.65" r="0.52" fill="#2a2a33"/><circle cx="503.41" cy="254.27" r="0.52" fill="#2a2a33"/><circle cx="500.74" cy="306.35" r="0.52" fill="#2a2a33"/><circle cx="502.58" cy="266.8" r="0.52" fill="#2a2a33"/><circle cx="500.14" cy="246.41" r="0.52" fill="#2a2a33"/><path d="M400.07,190.8 L400.07,189 L420.33,189 L420.33,190.8" fill="none" stroke="#333" stroke-width="1"/><text x="410.2" y="188.1" font-size="3.5" fill="#333" text-anchor="middle">***</text><path d="M460.87,202.3 L460.87,200.5 L501.4,200.5 L501.4,202.3" fill="none" stroke="#333" stroke-width="1"/><text x="481.13" y="199.6" font-size="3.5" fill="#333" text-anchor="middle">**</text><path d="M460.87,211.2 L460.87,209.4 L481.13,209.4 L481.13,211.2" fill="none" stroke="#333" stroke-width="1"/><text x="471" y="208.5" font-size="3.5" fill="#333" text-anchor="middle">****</text><path d="M440.6,221.9 L440.6,220.1 L481.13,220.1 L481.13,221.9" fill="none" stroke="#333" stroke-width="1"/><text x="460.87" y="219.2" font-size="3.5" fill="#333" text-anchor="middle">***</text><text x="379.8" y="317.8" font-size="2.6" fill="#444" text-anchor="middle">n=8</text><text x="400.07" y="317.8" font-size="2.6" fill="#444" text-anchor="middle">n=19</text><text x="420.33" y="317.8" font-size="2.6" fill="#444" text-anchor="middle">n=19</text><text x="440.6" y="317.8" font-size="2.6" fill="#444" text-anchor="middle">n=8</text><text x="460.87" y="317.8" font-size="2.6" fill="#444" text-anchor="middle">n=19</text><text x="481.13" y="317.8" font-size="2.6" fill="#444" text-anchor="middle">n=19</text><text x="501.4" y="317.8" font-size="2.6" fill="#444" text-anchor="middle">n=19</text><rect x="368.1" y="183.1" width="144.3" height="139" fill="none" stroke="#222" stroke-width="1.2"/><line x1="365.4" y1="183.2" x2="368.1" y2="183.2" stroke="#222" stroke-width="1"/><text x="362.07" y="184.7" font-size="4.3" fill="#6a6a6a" textLength="2.03" lengthAdjust="spacingAndGlyphs">3</text><line x1="365.4" y1="227.6" x2="368.1" y2="227.6" stroke="#222" stroke-width="1"/><text x="362.07" y="229.1" font-size="4.3" fill="#6a6a6a" textLength="2.03" lengthAdjust="spacingAndGlyphs">2</text><line x1="365.4" y1="271.8" x2="368.1" y2="271.8" stroke="#222" stroke-width="1"/><text x="362.07" y="273.3" font-size="4.3" fill="#6a6a6a" textLength="2.03" lengthAdjust="spacingAndGlyphs">1</text><line x1="365.4" y1="315.7" x2="368.1" y2="315.7" stroke="#222" stroke-width="1"/><text x="362.07" y="317.2" font-size="4.3" fill="#6a6a6a" textLength="2.03" lengthAdjust="spacingAndGlyphs">0</text><line x1="379.8" y1="322.1" x2="379.8" y2="324.7" stroke="#222" stroke-width="1"/><text x="379.8" y="330" font-size="3.8" fill="#555" text-anchor="middle">HD CD8</text><line x1="400.07" y1="322.1" x2="400.07" y2="324.7" stroke="#222" stroke-width="1"/><text x="400.07" y="330" font-size="3.8" fill="#555" text-anchor="middle">PB CD8</text><line x1="420.33" y1="322.1" x2="420.33" y2="324.7" stroke="#222" stroke-width="1"/><text x="420.33" y="330" font-size="3.8" fill="#555" text-anchor="middle">TIL CD8</text><line x1="440.6" y1="322.1" x2="440.6" y2="324.7" stroke="#222" stroke-width="1"/><text x="440.6" y="330" font-size="3.8" fill="#555" text-anchor="middle">HD CD4</text><line x1="460.87" y1="322.1" x2="460.87" y2="324.7" stroke="#222" stroke-width="1"/><text x="460.87" y="330" font-size="3.8" fill="#555" text-anchor="middle">PB CD4</text><line x1="481.13" y1="322.1" x2="481.13" y2="324.7" stroke="#222" stroke-width="1"/><text x="481.13" y="330" font-size="3.8" fill="#555" text-anchor="middle">TIL CD4</text><line x1="501.4" y1="322.1" x2="501.4" y2="324.7" stroke="#222" stroke-width="1"/><text x="501.4" y="330" font-size="3.8" fill="#555" text-anchor="middle">Tumor</text><text x="358.2" y="252.6" font-size="6.2" fill="#2e2e2e" text-anchor="middle" textLength="10" lengthAdjust="spacingAndGlyphs" transform="rotate(-90 358.5 252.6)">MFI</text><text x="440.8" y="338.3" font-size="6.3" fill="#333" text-anchor="middle" textLength="29.2" lengthAdjust="spacingAndGlyphs">Population</text></g>
<g><text x="25" y="349.1" font-size="4.6" fill="#666" textLength="31.5" lengthAdjust="spacingAndGlyphs">MHC-I Expression</text><path d="M43.9,449.3 C44.17,449.58 45.05,449.35 45.5,451 C45.95,452.65 46.68,456.87 46.6,459.2 C46.52,461.53 45.68,463.25 45,465 C44.32,466.75 42.92,468.92 42.5,469.7 L32.5,469.7 C32.08,468.92 30.68,466.75 30,465 C29.32,463.25 28.48,461.53 28.4,459.2 C28.32,456.87 29.05,452.65 29.5,451 C29.95,449.35 30.83,449.58 31.1,449.3 Z" fill="#c6c7d9" stroke="#3a3a44" stroke-width="0.65"/><line x1="37.5" y1="449.3" x2="37.5" y2="469.7" stroke="#555" stroke-width="0.3" opacity="0.7"/><rect x="35.4" y="451.3" width="4.2" height="14.2" fill="#9fa4c1" stroke="#444" stroke-width="0.35"/><circle cx="37.59" cy="463.75" r="0.52" fill="#2a2a33"/><circle cx="39.2" cy="459.96" r="0.52" fill="#2a2a33"/><circle cx="37.67" cy="458.29" r="0.52" fill="#2a2a33"/><circle cx="36.31" cy="460.51" r="0.52" fill="#2a2a33"/><circle cx="37.19" cy="451.19" r="0.52" fill="#2a2a33"/><circle cx="38.12" cy="461.26" r="0.52" fill="#2a2a33"/><circle cx="37.35" cy="460.34" r="0.52" fill="#2a2a33"/><circle cx="36.78" cy="460.13" r="0.52" fill="#2a2a33"/><path d="M58.9,423.7 C59,423.83 59.33,423.95 59.5,424.5 C59.67,425.05 59.7,425.95 59.9,427 C60.1,428.05 60.35,429.55 60.7,430.8 C61.05,432.05 61.5,433.18 62,434.5 C62.5,435.82 63.12,437.45 63.7,438.7 C64.28,439.95 64.92,440.82 65.5,442 C66.08,443.18 67.08,444.55 67.2,445.8 C67.32,447.05 66.7,448.07 66.2,449.5 C65.7,450.93 64.78,453.07 64.2,454.4 C63.62,455.73 63.2,456.45 62.7,457.5 C62.2,458.55 61.62,459.62 61.2,460.7 C60.78,461.78 60.45,462.78 60.2,464 C59.95,465.22 59.82,466.7 59.7,468 C59.58,469.3 59.53,471.17 59.5,471.8 L55.9,471.8 C55.87,471.17 55.82,469.3 55.7,468 C55.58,466.7 55.45,465.22 55.2,464 C54.95,462.78 54.62,461.78 54.2,460.7 C53.78,459.62 53.2,458.55 52.7,457.5 C52.2,456.45 51.78,455.73 51.2,454.4 C50.62,453.07 49.7,450.93 49.2,449.5 C48.7,448.07 48.08,447.05 48.2,445.8 C48.32,444.55 49.32,443.18 49.9,442 C50.48,440.82 51.12,439.95 51.7,438.7 C52.28,437.45 52.9,435.82 53.4,434.5 C53.9,433.18 54.35,432.05 54.7,430.8 C55.05,429.55 55.3,428.05 55.5,427 C55.7,425.95 55.73,425.05 55.9,424.5 C56.07,423.95 56.4,423.83 56.5,423.7 Z" fill="#c6c7d9" stroke="#3a3a44" stroke-width="0.65"/><line x1="57.7" y1="423.7" x2="57.7" y2="471.8" stroke="#555" stroke-width="0.3" opacity="0.7"/><rect x="55.6" y="442.6" width="4.2" height="15" fill="#9fa4c1" stroke="#444" stroke-width="0.35"/><circle cx="57.71" cy="458.79" r="0.52" fill="#2a2a33"/><circle cx="59.2" cy="454.98" r="0.52" fill="#2a2a33"/><circle cx="57.85" cy="446.52" r="0.52" fill="#2a2a33"/><circle cx="57.73" cy="462.51" r="0.52" fill="#2a2a33"/><circle cx="58.92" cy="448.72" r="0.52" fill="#2a2a33"/><circle cx="58.39" cy="449.61" r="0.52" fill="#2a2a33"/><circle cx="57.78" cy="427.48" r="0.52" fill="#2a2a33"/><circle cx="59.52" cy="443.04" r="0.52" fill="#2a2a33"/><circle cx="57.24" cy="435.21" r="0.52" fill="#2a2a33"/><circle cx="57.19" cy="434.17" r="0.52" fill="#2a2a33"/><circle cx="56.8" cy="465.24" r="0.52" fill="#2a2a33"/><circle cx="57.1" cy="470.96" r="0.52" fill="#2a2a33"/><circle cx="57.54" cy="459.44" r="0.52" fill="#2a2a33"/><circle cx="59.24" cy="437.23" r="0.52" fill="#2a2a33"/><circle cx="57.12" cy="455.6" r="0.52" fill="#2a2a33"/><circle cx="57.75" cy="445.35" r="0.52" fill="#2a2a33"/><circle cx="58.9" cy="458.19" r="0.52" fill="#2a2a33"/><circle cx="56.75" cy="452.27" r="0.52" fill="#2a2a33"/><circle cx="56.51" cy="461.23" r="0.52" fill="#2a2a33"/><path d="M82.4,422.2 C82.82,422.42 84.2,422.87 84.9,423.5 C85.6,424.13 86.27,425.08 86.6,426 C86.93,426.92 86.92,427.67 86.9,429 C86.88,430.33 86.58,432.17 86.5,434 C86.42,435.83 86.37,438 86.4,440 C86.43,442 86.7,444.33 86.7,446 C86.7,447.67 86.7,448.75 86.4,450 C86.1,451.25 85.53,452.43 84.9,453.5 C84.27,454.57 82.98,455.92 82.6,456.4 L73.2,456.4 C72.82,455.92 71.53,454.57 70.9,453.5 C70.27,452.43 69.7,451.25 69.4,450 C69.1,448.75 69.1,447.67 69.1,446 C69.1,444.33 69.37,442 69.4,440 C69.43,438 69.38,435.83 69.3,434 C69.22,432.17 68.92,430.33 68.9,429 C68.88,427.67 68.87,426.92 69.2,426 C69.53,425.08 70.2,424.13 70.9,423.5 C71.6,422.87 72.98,422.42 73.4,422.2 Z" fill="#818aa3" stroke="#3a3a44" stroke-width="0.65"/><line x1="77.9" y1="422.2" x2="77.9" y2="456.4" stroke="#555" stroke-width="0.3" opacity="0.7"/><rect x="75.8" y="430" width="4.2" height="18.9" fill="#687d9c" stroke="#444" stroke-width="0.35"/><circle cx="76.18" cy="433.93" r="0.52" fill="#2a2a33"/><circle cx="80.07" cy="437.54" r="0.52" fill="#2a2a33"/><circle cx="76.08" cy="441.26" r="0.52" fill="#2a2a33"/><circle cx="78.83" cy="445.3" r="0.52" fill="#2a2a33"/><circle cx="78.93" cy="442.06" r="0.52" fill="#2a2a33"/><circle cx="79.01" cy="434.5" r="0.52" fill="#2a2a33"/><circle cx="76.25" cy="427.66" r="0.52" fill="#2a2a33"/><circle cx="78" cy="439.68" r="0.52" fill="#2a2a33"/><circle cx="79.13" cy="439.83" r="0.52" fill="#2a2a33"/><circle cx="78.16" cy="427.9" r="0.52" fill="#2a2a33"/><circle cx="75.83" cy="431.08" r="0.52" fill="#2a2a33"/><circle cx="77.58" cy="427.82" r="0.52" fill="#2a2a33"/><circle cx="79.18" cy="437.48" r="0.52" fill="#2a2a33"/><circle cx="79.43" cy="426.58" r="0.52" fill="#2a2a33"/><circle cx="79.08" cy="456.2" r="0.52" fill="#2a2a33"/><circle cx="78.26" cy="430.99" r="0.52" fill="#2a2a33"/><circle cx="78.25" cy="455.92" r="0.52" fill="#2a2a33"/><circle cx="78.96" cy="437.55" r="0.52" fill="#2a2a33"/><circle cx="79.42" cy="438.05" r="0.52" fill="#2a2a33"/><path d="M106.1,455.2 C106.3,455.3 107.08,455.33 107.3,455.8 C107.52,456.27 107.55,457.05 107.4,458 C107.25,458.95 106.87,460.33 106.4,461.5 C105.93,462.67 105.23,463.92 104.6,465 C103.97,466.08 103.27,467.08 102.6,468 C101.93,468.92 101.1,469.67 100.6,470.5 C100.1,471.33 99.65,472.25 99.6,473 C99.55,473.75 100.05,474.38 100.3,475 C100.55,475.62 101.05,476.22 101.1,476.7 C101.15,477.18 100.68,477.7 100.6,477.9 L95.6,477.9 C95.52,477.7 95.05,477.18 95.1,476.7 C95.15,476.22 95.65,475.62 95.9,475 C96.15,474.38 96.65,473.75 96.6,473 C96.55,472.25 96.1,471.33 95.6,470.5 C95.1,469.67 94.27,468.92 93.6,468 C92.93,467.08 92.23,466.08 91.6,465 C90.97,463.92 90.27,462.67 89.8,461.5 C89.33,460.33 88.95,458.95 88.8,458 C88.65,457.05 88.68,456.27 88.9,455.8 C89.12,455.33 89.9,455.3 90.1,455.2 Z" fill="#c6c7d9" stroke="#3a3a44" stroke-width="0.65"/><line x1="98.1" y1="455.2" x2="98.1" y2="477.9" stroke="#555" stroke-width="0.3" opacity="0.7"/><rect x="96" y="458" width="4.2" height="8" fill="#9fa4c1" stroke="#444" stroke-width="0.35"/><circle cx="100.3" cy="456.11" r="0.52" fill="#2a2a33"/><circle cx="96.66" cy="459" r="0.52" fill="#2a2a33"/><circle cx="97.87" cy="461.23" r="0.52" fill="#2a2a33"/><circle cx="98.77" cy="461.05" r="0.52" fill="#2a2a33"/><circle cx="96.7" cy="463.47" r="0.52" fill="#2a2a33"/><circle cx="97.28" cy="470.15" r="0.52" fill="#2a2a33"/><circle cx="97.1" cy="463.19" r="0.52" fill="#2a2a33"/><circle cx="96.84" cy="460.69" r="0.52" fill="#2a2a33"/><path d="M119.8,421 C119.87,421.1 120.15,420.93 120.2,421.6 C120.25,422.27 120.12,423.8 120.1,425 C120.08,426.2 120.05,427.63 120.1,428.8 C120.15,429.97 120.28,430.97 120.4,432 C120.52,433.03 120.58,434 120.8,435 C121.02,436 121.37,436.95 121.7,438 C122.03,439.05 122.4,440.22 122.8,441.3 C123.2,442.38 123.68,443.47 124.1,444.5 C124.52,445.53 124.88,446.5 125.3,447.5 C125.72,448.5 126.25,449.45 126.6,450.5 C126.95,451.55 127.45,452.72 127.4,453.8 C127.35,454.88 126.73,455.97 126.3,457 C125.87,458.03 125.27,459 124.8,460 C124.33,461 123.92,461.95 123.5,463 C123.08,464.05 122.67,465.22 122.3,466.3 C121.93,467.38 121.63,468.47 121.3,469.5 C120.97,470.53 120.63,471.48 120.3,472.5 C119.97,473.52 119.47,475.08 119.3,475.6 L117.3,475.6 C117.13,475.08 116.63,473.52 116.3,472.5 C115.97,471.48 115.63,470.53 115.3,469.5 C114.97,468.47 114.67,467.38 114.3,466.3 C113.93,465.22 113.52,464.05 113.1,463 C112.68,461.95 112.27,461 111.8,460 C111.33,459 110.73,458.03 110.3,457 C109.87,455.97 109.25,454.88 109.2,453.8 C109.15,452.72 109.65,451.55 110,450.5 C110.35,449.45 110.88,448.5 111.3,447.5 C111.72,446.5 112.08,445.53 112.5,444.5 C112.92,443.47 113.4,442.38 113.8,441.3 C114.2,440.22 114.57,439.05 114.9,438 C115.23,436.95 115.58,436 115.8,435 C116.02,434 116.08,433.03 116.2,432 C116.32,430.97 116.45,429.97 116.5,428.8 C116.55,427.63 116.52,426.2 116.5,425 C116.48,423.8 116.35,422.27 116.4,421.6 C116.45,420.93 116.73,421.1 116.8,421 Z" fill="#c6c7d9" stroke="#3a3a44" stroke-width="0.65"/><line x1="118.3" y1="421" x2="118.3" y2="475.6" stroke="#555" stroke-width="0.3" opacity="0.7"/><rect x="116.2" y="443.8" width="4.2" height="13.7" fill="#9fa4c1" stroke="#444" stroke-width="0.35"/><circle cx="118.85" cy="456.92" r="0.52" fill="#2a2a33"/><circle cx="119.33" cy="437.97" r="0.52" fill="#2a2a33"/><circle cx="120.5" cy="445.02" r="0.52" fill="#2a2a33"/><circle cx="117.14" cy="457.11" r="0.52" fill="#2a2a33"/><circle cx="117.71" cy="467" r="0.52" fill="#2a2a33"/><circle cx="118.3" cy="449.98" r="0.52" fill="#2a2a33"/><circle cx="119.78" cy="456.17" r="0.52" fill="#2a2a33"/><circle cx="117.11" cy="466.6" r="0.52" fill="#2a2a33"/><circle cx="118.44" cy="451.64" r="0.52" fill="#2a2a33"/><circle cx="118.34" cy="456.09" r="0.52" fill="#2a2a33"/><circle cx="117.43" cy="450.86" r="0.52" fill="#2a2a33"/><circle cx="119.36" cy="441.78" r="0.52" fill="#2a2a33"/><circle cx="120.29" cy="438.44" r="0.52" fill="#2a2a33"/><circle cx="118.35" cy="427.7" r="0.52" fill="#2a2a33"/><circle cx="119.9" cy="442.47" r="0.52" fill="#2a2a33"/><circle cx="117.47" cy="423.46" r="0.52" fill="#2a2a33"/><circle cx="120.26" cy="448.55" r="0.52" fill="#2a2a33"/><circle cx="120.4" cy="457.81" r="0.52" fill="#2a2a33"/><circle cx="119.21" cy="450.92" r="0.52" fill="#2a2a33"/><path d="M141.5,418.8 C141.63,418.88 141.97,419.02 142.3,419.3 C142.63,419.58 143.13,419.97 143.5,420.5 C143.87,421.03 144.13,421.67 144.5,422.5 C144.87,423.33 145.37,424.45 145.7,425.5 C146.03,426.55 146.27,427.38 146.5,428.8 C146.73,430.22 146.97,432.33 147.1,434 C147.23,435.67 147.35,437.3 147.3,438.8 C147.25,440.3 147.02,441.75 146.8,443 C146.58,444.25 146.3,445.3 146,446.3 C145.7,447.3 145.33,448.17 145,449 C144.67,449.83 144.33,450.58 144,451.3 C143.67,452.02 143.28,452.78 143,453.3 C142.72,453.82 142.42,454.22 142.3,454.4 L134.7,454.4 C134.58,454.22 134.28,453.82 134,453.3 C133.72,452.78 133.33,452.02 133,451.3 C132.67,450.58 132.33,449.83 132,449 C131.67,448.17 131.3,447.3 131,446.3 C130.7,445.3 130.42,444.25 130.2,443 C129.98,441.75 129.75,440.3 129.7,438.8 C129.65,437.3 129.77,435.67 129.9,434 C130.03,432.33 130.27,430.22 130.5,428.8 C130.73,427.38 130.97,426.55 131.3,425.5 C131.63,424.45 132.13,423.33 132.5,422.5 C132.87,421.67 133.13,421.03 133.5,420.5 C133.87,419.97 134.37,419.58 134.7,419.3 C135.03,419.02 135.37,418.88 135.5,418.8 Z" fill="#818aa3" stroke="#3a3a44" stroke-width="0.65"/><line x1="138.5" y1="418.8" x2="138.5" y2="454.4" stroke="#555" stroke-width="0.3" opacity="0.7"/><rect x="136.4" y="426.9" width="4.2" height="16.9" fill="#687d9c" stroke="#444" stroke-width="0.35"/><circle cx="139.95" cy="454.16" r="0.52" fill="#2a2a33"/><circle cx="138.83" cy="442.63" r="0.52" fill="#2a2a33"/><circle cx="139.47" cy="435.37" r="0.52" fill="#2a2a33"/><circle cx="137.56" cy="444.7" r="0.52" fill="#2a2a33"/><circle cx="140.16" cy="420.73" r="0.52" fill="#2a2a33"/><circle cx="140.05" cy="434.52" r="0.52" fill="#2a2a33"/><circle cx="138.8" cy="442.77" r="0.52" fill="#2a2a33"/><circle cx="137.54" cy="452.73" r="0.52" fill="#2a2a33"/><circle cx="138.76" cy="428.67" r="0.52" fill="#2a2a33"/><circle cx="136.72" cy="426.25" r="0.52" fill="#2a2a33"/><circle cx="137.25" cy="435.16" r="0.52" fill="#2a2a33"/><circle cx="137.53" cy="428.58" r="0.52" fill="#2a2a33"/><circle cx="137.16" cy="430.33" r="0.52" fill="#2a2a33"/><circle cx="139.54" cy="447" r="0.52" fill="#2a2a33"/><circle cx="139.3" cy="434.52" r="0.52" fill="#2a2a33"/><circle cx="137.97" cy="429.71" r="0.52" fill="#2a2a33"/><circle cx="140.22" cy="445.75" r="0.52" fill="#2a2a33"/><circle cx="136.59" cy="451.02" r="0.52" fill="#2a2a33"/><circle cx="137.78" cy="429.32" r="0.52" fill="#2a2a33"/><path d="M163.4,414.8 C163.87,415.67 165.43,417.47 166.2,420 C166.97,422.53 168,426.67 168,430 C168,433.33 166.92,437 166.2,440 C165.48,443 164.62,445.27 163.7,448 C162.78,450.73 161.2,455 160.7,456.4 L156.7,456.4 C156.2,455 154.62,450.73 153.7,448 C152.78,445.27 151.92,443 151.2,440 C150.48,437 149.4,433.33 149.4,430 C149.4,426.67 150.43,422.53 151.2,420 C151.97,417.47 153.53,415.67 154,414.8 Z" fill="#cd8a84" stroke="#3a3a44" stroke-width="0.65"/><line x1="158.7" y1="414.8" x2="158.7" y2="456.4" stroke="#555" stroke-width="0.3" opacity="0.7"/><rect x="156.6" y="424.4" width="4.2" height="16.2" fill="#ab3347" stroke="#444" stroke-width="0.35"/><circle cx="160.82" cy="439.81" r="0.52" fill="#2a2a33"/><circle cx="158.32" cy="450.27" r="0.52" fill="#2a2a33"/><circle cx="157.84" cy="419.35" r="0.52" fill="#2a2a33"/><circle cx="159.59" cy="422.78" r="0.52" fill="#2a2a33"/><circle cx="160.72" cy="432.3" r="0.52" fill="#2a2a33"/><circle cx="157.35" cy="450.01" r="0.52" fill="#2a2a33"/><circle cx="158.37" cy="426.96" r="0.52" fill="#2a2a33"/><circle cx="158.66" cy="418.98" r="0.52" fill="#2a2a33"/><circle cx="160.36" cy="422.94" r="0.52" fill="#2a2a33"/><circle cx="157.49" cy="452.07" r="0.52" fill="#2a2a33"/><circle cx="158.78" cy="437.26" r="0.52" fill="#2a2a33"/><circle cx="158.58" cy="432.01" r="0.52" fill="#2a2a33"/><circle cx="158.6" cy="420.82" r="0.52" fill="#2a2a33"/><circle cx="156.99" cy="434.18" r="0.52" fill="#2a2a33"/><circle cx="157.85" cy="419.51" r="0.52" fill="#2a2a33"/><circle cx="159.11" cy="449.37" r="0.52" fill="#2a2a33"/><circle cx="160.21" cy="449.46" r="0.52" fill="#2a2a33"/><circle cx="158.29" cy="451.16" r="0.52" fill="#2a2a33"/><circle cx="160.05" cy="420.61" r="0.52" fill="#2a2a33"/><path d="M37.5,375.2 L37.5,373.4 L57.7,373.4 L57.7,375.2" fill="none" stroke="#333" stroke-width="1"/><text x="47.6" y="372.5" font-size="3.5" fill="#333" text-anchor="middle">*</text><path d="M37.5,368 L37.5,366.2 L77.9,366.2 L77.9,368" fill="none" stroke="#333" stroke-width="1"/><text x="57.7" y="365.3" font-size="3.5" fill="#333" text-anchor="middle">***</text><path d="M57.7,359.8 L57.7,358 L77.9,358 L77.9,359.8" fill="none" stroke="#333" stroke-width="1"/><text x="67.8" y="357.1" font-size="3.5" fill="#333" text-anchor="middle">*</text><path d="M118.3,383.4 L118.3,381.6 L158.7,381.6 L158.7,383.4" fill="none" stroke="#333" stroke-width="1"/><text x="138.5" y="380.7" font-size="3.5" fill="#333" text-anchor="middle">***</text><path d="M118.3,390.8 L118.3,389 L138.5,389 L138.5,390.8" fill="none" stroke="#333" stroke-width="1"/><text x="128.4" y="388.1" font-size="3.5" fill="#333" text-anchor="middle">**</text><path d="M98.1,398.3 L98.1,396.5 L158.7,396.5 L158.7,398.3" fill="none" stroke="#333" stroke-width="1"/><text x="128.4" y="395.6" font-size="3.5" fill="#333" text-anchor="middle">****</text><path d="M98.1,405.6 L98.1,403.8 L138.5,403.8 L138.5,405.6" fill="none" stroke="#333" stroke-width="1"/><text x="118.3" y="402.9" font-size="3.5" fill="#333" text-anchor="middle">****</text><path d="M98.1,413.8 L98.1,412 L118.3,412 L118.3,413.8" fill="none" stroke="#333" stroke-width="1"/><text x="108.2" y="411.1" font-size="3.5" fill="#333" text-anchor="middle">*</text><text x="37.5" y="486.5" font-size="2.6" fill="#444" text-anchor="middle">n=8</text><text x="57.7" y="486.5" font-size="2.6" fill="#444" text-anchor="middle">n=19</text><text x="77.9" y="486.5" font-size="2.6" fill="#444" text-anchor="middle">n=19</text><text x="98.1" y="486.5" font-size="2.6" fill="#444" text-anchor="middle">n=8</text><text x="118.3" y="486.5" font-size="2.6" fill="#444" text-anchor="middle">n=19</text><text x="138.5" y="486.5" font-size="2.6" fill="#444" text-anchor="middle">n=19</text><text x="158.7" y="486.5" font-size="2.6" fill="#444" text-anchor="middle">n=19</text><rect x="25.3" y="351.7" width="145.1" height="139.1" fill="none" stroke="#222" stroke-width="1.2"/><line x1="22.6" y1="360.3" x2="25.3" y2="360.3" stroke="#222" stroke-width="1"/><text x="19.27" y="361.8" font-size="4.3" fill="#6a6a6a" textLength="2.03" lengthAdjust="spacingAndGlyphs">8</text><line x1="22.6" y1="398.4" x2="25.3" y2="398.4" stroke="#222" stroke-width="1"/><text x="19.27" y="399.9" font-size="4.3" fill="#6a6a6a" textLength="2.03" lengthAdjust="spacingAndGlyphs">6</text><line x1="22.6" y1="437" x2="25.3" y2="437" stroke="#222" stroke-width="1"/><text x="19.27" y="438.5" font-size="4.3" fill="#6a6a6a" textLength="2.03" lengthAdjust="spacingAndGlyphs">4</text><line x1="22.6" y1="475" x2="25.3" y2="475" stroke="#222" stroke-width="1"/><text x="19.27" y="476.5" font-size="4.3" fill="#6a6a6a" textLength="2.03" lengthAdjust="spacingAndGlyphs">2</text><line x1="37.5" y1="490.8" x2="37.5" y2="493.4" stroke="#222" stroke-width="1"/><text x="37.5" y="498.7" font-size="3.8" fill="#555" text-anchor="middle">HD CD8</text><line x1="57.7" y1="490.8" x2="57.7" y2="493.4" stroke="#222" stroke-width="1"/><text x="57.7" y="498.7" font-size="3.8" fill="#555" text-anchor="middle">PB CD8</text><line x1="77.9" y1="490.8" x2="77.9" y2="493.4" stroke="#222" stroke-width="1"/><text x="77.9" y="498.7" font-size="3.8" fill="#555" text-anchor="middle">TIL CD8</text><line x1="98.1" y1="490.8" x2="98.1" y2="493.4" stroke="#222" stroke-width="1"/><text x="98.1" y="498.7" font-size="3.8" fill="#555" text-anchor="middle">HD CD4</text><line x1="118.3" y1="490.8" x2="118.3" y2="493.4" stroke="#222" stroke-width="1"/><text x="118.3" y="498.7" font-size="3.8" fill="#555" text-anchor="middle">PB CD4</text><line x1="138.5" y1="490.8" x2="138.5" y2="493.4" stroke="#222" stroke-width="1"/><text x="138.5" y="498.7" font-size="3.8" fill="#555" text-anchor="middle">TIL CD4</text><line x1="158.7" y1="490.8" x2="158.7" y2="493.4" stroke="#222" stroke-width="1"/><text x="158.7" y="498.7" font-size="3.8" fill="#555" text-anchor="middle">Tumor</text><text x="15.7" y="421.25" font-size="6.2" fill="#2e2e2e" text-anchor="middle" textLength="10" lengthAdjust="spacingAndGlyphs" transform="rotate(-90 16 421.25)">MFI</text><text x="97.8" y="507" font-size="6.3" fill="#333" text-anchor="middle" textLength="29.2" lengthAdjust="spacingAndGlyphs">Population</text></g>
<g><text x="196.2" y="349.2" font-size="4.6" fill="#666" textLength="34.3" lengthAdjust="spacingAndGlyphs">HLA-DR Expression</text><path d="M211.3,446.5 C211.42,446.58 211.53,446.42 212,447 C212.47,447.58 213.42,448.95 214.1,450 C214.78,451.05 215.67,452.23 216.1,453.3 C216.53,454.37 216.72,455.45 216.7,456.4 C216.68,457.35 216.32,458.08 216,459 C215.68,459.92 215.33,460.9 214.8,461.9 C214.27,462.9 213.47,464.07 212.8,465 C212.13,465.93 211.13,467.08 210.8,467.5 L204.8,467.5 C204.47,467.08 203.47,465.93 202.8,465 C202.13,464.07 201.33,462.9 200.8,461.9 C200.27,460.9 199.92,459.92 199.6,459 C199.28,458.08 198.92,457.35 198.9,456.4 C198.88,455.45 199.07,454.37 199.5,453.3 C199.93,452.23 200.82,451.05 201.5,450 C202.18,448.95 203.13,447.58 203.6,447 C204.07,446.42 204.18,446.58 204.3,446.5 Z" fill="#c6c7d9" stroke="#3a3a44" stroke-width="0.65"/><line x1="207.8" y1="446.5" x2="207.8" y2="467.5" stroke="#555" stroke-width="0.3" opacity="0.7"/><rect x="205.7" y="452" width="4.2" height="8.7" fill="#9fa4c1" stroke="#444" stroke-width="0.35"/><circle cx="205.81" cy="455.31" r="0.52" fill="#2a2a33"/><circle cx="206.19" cy="449.86" r="0.52" fill="#2a2a33"/><circle cx="208.77" cy="463.85" r="0.52" fill="#2a2a33"/><circle cx="206.98" cy="456.66" r="0.52" fill="#2a2a33"/><circle cx="206.98" cy="467.26" r="0.52" fill="#2a2a33"/><circle cx="207" cy="459.25" r="0.52" fill="#2a2a33"/><circle cx="208.55" cy="463.3" r="0.52" fill="#2a2a33"/><circle cx="208.5" cy="453.96" r="0.52" fill="#2a2a33"/><path d="M230.48,447.8 C230.57,447.88 230.92,447.93 230.98,448.3 C231.05,448.67 230.93,449.37 230.88,450 C230.83,450.63 230.67,451.35 230.68,452.1 C230.7,452.85 230.82,453.78 230.98,454.5 C231.15,455.22 231.35,455.73 231.68,456.4 C232.02,457.07 232.48,457.78 232.98,458.5 C233.48,459.22 234.25,460.03 234.68,460.7 C235.12,461.37 235.35,461.88 235.58,462.5 C235.82,463.12 236.18,463.77 236.08,464.4 C235.98,465.03 235.47,465.68 234.98,466.3 C234.5,466.92 233.73,467.48 233.18,468.1 C232.63,468.72 232.18,469.38 231.68,470 C231.18,470.62 230.63,471.22 230.18,471.8 C229.73,472.38 229.32,473 228.98,473.5 C228.65,474 228.32,474.58 228.18,474.8 L226.18,474.8 C226.05,474.58 225.72,474 225.38,473.5 C225.05,473 224.63,472.38 224.18,471.8 C223.73,471.22 223.18,470.62 222.68,470 C222.18,469.38 221.73,468.72 221.18,468.1 C220.63,467.48 219.87,466.92 219.38,466.3 C218.9,465.68 218.38,465.03 218.28,464.4 C218.18,463.77 218.55,463.12 218.78,462.5 C219.02,461.88 219.25,461.37 219.68,460.7 C220.12,460.03 220.88,459.22 221.38,458.5 C221.88,457.78 222.35,457.07 222.68,456.4 C223.02,455.73 223.22,455.22 223.38,454.5 C223.55,453.78 223.67,452.85 223.68,452.1 C223.7,451.35 223.53,450.63 223.48,450 C223.43,449.37 223.32,448.67 223.38,448.3 C223.45,447.93 223.8,447.88 223.88,447.8 Z" fill="#c6c7d9" stroke="#3a3a44" stroke-width="0.65"/><line x1="227.18" y1="447.8" x2="227.18" y2="474.8" stroke="#555" stroke-width="0.3" opacity="0.7"/><rect x="225.08" y="457.6" width="4.2" height="8" fill="#9fa4c1" stroke="#444" stroke-width="0.35"/><circle cx="226.65" cy="448.8" r="0.52" fill="#2a2a33"/><circle cx="229.17" cy="470.61" r="0.52" fill="#2a2a33"/><circle cx="225.15" cy="466.31" r="0.52" fill="#2a2a33"/><circle cx="227.54" cy="469.94" r="0.52" fill="#2a2a33"/><circle cx="225.33" cy="467.25" r="0.52" fill="#2a2a33"/><circle cx="225.84" cy="465.12" r="0.52" fill="#2a2a33"/><circle cx="226.56" cy="461.07" r="0.52" fill="#2a2a33"/><circle cx="228.25" cy="459.19" r="0.52" fill="#2a2a33"/><circle cx="227.78" cy="464.42" r="0.52" fill="#2a2a33"/><circle cx="229.2" cy="451.66" r="0.52" fill="#2a2a33"/><circle cx="226.38" cy="463.54" r="0.52" fill="#2a2a33"/><circle cx="228.06" cy="466.1" r="0.52" fill="#2a2a33"/><circle cx="227.03" cy="463.4" r="0.52" fill="#2a2a33"/><circle cx="225.57" cy="467.11" r="0.52" fill="#2a2a33"/><circle cx="226.09" cy="468.96" r="0.52" fill="#2a2a33"/><circle cx="228.16" cy="469.67" r="0.52" fill="#2a2a33"/><circle cx="227.55" cy="461.01" r="0.52" fill="#2a2a33"/><circle cx="229.32" cy="450.13" r="0.52" fill="#2a2a33"/><circle cx="228.4" cy="461.67" r="0.52" fill="#2a2a33"/><path d="M252.07,433.4 C252.23,433.5 252.65,433.35 253.07,434 C253.48,434.65 254.22,436.13 254.57,437.3 C254.92,438.47 255.02,439.57 255.17,441 C255.32,442.43 255.53,444.4 255.47,445.9 C255.4,447.4 255.08,448.77 254.77,450 C254.45,451.23 253.93,452.38 253.57,453.3 C253.2,454.22 252.9,454.88 252.57,455.5 C252.23,456.12 251.98,456.45 251.57,457 C251.15,457.55 250.32,458.5 250.07,458.8 L243.07,458.8 C242.82,458.5 241.98,457.55 241.57,457 C241.15,456.45 240.9,456.12 240.57,455.5 C240.23,454.88 239.93,454.22 239.57,453.3 C239.2,452.38 238.68,451.23 238.37,450 C238.05,448.77 237.73,447.4 237.67,445.9 C237.6,444.4 237.82,442.43 237.97,441 C238.12,439.57 238.22,438.47 238.57,437.3 C238.92,436.13 239.65,434.65 240.07,434 C240.48,433.35 240.9,433.5 241.07,433.4 Z" fill="#818aa3" stroke="#3a3a44" stroke-width="0.65"/><line x1="246.57" y1="433.4" x2="246.57" y2="458.8" stroke="#555" stroke-width="0.3" opacity="0.7"/><rect x="244.47" y="434.8" width="4.2" height="15.4" fill="#687d9c" stroke="#444" stroke-width="0.35"/><circle cx="247.08" cy="441.99" r="0.52" fill="#2a2a33"/><circle cx="244.79" cy="458.23" r="0.52" fill="#2a2a33"/><circle cx="247.09" cy="450.82" r="0.52" fill="#2a2a33"/><circle cx="245.06" cy="451.65" r="0.52" fill="#2a2a33"/><circle cx="246.25" cy="445.4" r="0.52" fill="#2a2a33"/><circle cx="248.76" cy="436.02" r="0.52" fill="#2a2a33"/><circle cx="247.81" cy="450.26" r="0.52" fill="#2a2a33"/><circle cx="245.53" cy="434.39" r="0.52" fill="#2a2a33"/><circle cx="247.9" cy="440.39" r="0.52" fill="#2a2a33"/><circle cx="245.41" cy="439.12" r="0.52" fill="#2a2a33"/><circle cx="245.52" cy="436.23" r="0.52" fill="#2a2a33"/><circle cx="247.56" cy="453.27" r="0.52" fill="#2a2a33"/><circle cx="246.22" cy="448.93" r="0.52" fill="#2a2a33"/><circle cx="247.65" cy="450.15" r="0.52" fill="#2a2a33"/><circle cx="245.95" cy="447.07" r="0.52" fill="#2a2a33"/><circle cx="244.41" cy="450.09" r="0.52" fill="#2a2a33"/><circle cx="247.25" cy="444.19" r="0.52" fill="#2a2a33"/><circle cx="248.53" cy="448.97" r="0.52" fill="#2a2a33"/><circle cx="248.37" cy="436.76" r="0.52" fill="#2a2a33"/><path d="M270.95,458.7 C271.08,458.78 271.58,458.55 271.75,459.2 C271.92,459.85 271.72,461.8 271.95,462.6 C272.18,463.4 272.73,463.6 273.15,464 C273.57,464.4 274.12,464.58 274.45,465 C274.78,465.42 275.1,466.03 275.15,466.5 C275.2,466.97 275.03,467.4 274.75,467.8 C274.47,468.2 273.67,468.72 273.45,468.9 L258.45,468.9 C258.23,468.72 257.43,468.2 257.15,467.8 C256.87,467.4 256.7,466.97 256.75,466.5 C256.8,466.03 257.12,465.42 257.45,465 C257.78,464.58 258.33,464.4 258.75,464 C259.17,463.6 259.72,463.4 259.95,462.6 C260.18,461.8 259.98,459.85 260.15,459.2 C260.32,458.55 260.82,458.78 260.95,458.7 Z" fill="#c6c7d9" stroke="#3a3a44" stroke-width="0.65"/><line x1="265.95" y1="458.7" x2="265.95" y2="468.9" stroke="#555" stroke-width="0.3" opacity="0.7"/><rect x="263.85" y="460.3" width="4.2" height="7" fill="#9fa4c1" stroke="#444" stroke-width="0.35"/><circle cx="267.73" cy="462.62" r="0.52" fill="#2a2a33"/><circle cx="267.88" cy="459.22" r="0.52" fill="#2a2a33"/><circle cx="264.74" cy="465.8" r="0.52" fill="#2a2a33"/><circle cx="265.35" cy="467.42" r="0.52" fill="#2a2a33"/><circle cx="265.25" cy="460.32" r="0.52" fill="#2a2a33"/><circle cx="267.01" cy="468.18" r="0.52" fill="#2a2a33"/><circle cx="266.11" cy="461.08" r="0.52" fill="#2a2a33"/><circle cx="266.01" cy="464.62" r="0.52" fill="#2a2a33"/><path d="M286.53,458 C286.63,458.08 286.97,458 287.13,458.5 C287.3,459 287.42,460.32 287.53,461 C287.65,461.68 287.6,462.1 287.83,462.6 C288.07,463.1 288.52,463.6 288.93,464 C289.35,464.4 289.68,464.5 290.33,465 C290.98,465.5 292.17,466.35 292.83,467 C293.5,467.65 294.42,468.32 294.33,468.9 C294.25,469.48 293,469.98 292.33,470.5 C291.67,471.02 290.88,471.5 290.33,472 C289.78,472.5 289.45,472.98 289.03,473.5 C288.62,474.02 288.2,474.6 287.83,475.1 C287.47,475.6 287.08,476.12 286.83,476.5 C286.58,476.88 286.42,477.25 286.33,477.4 L284.33,477.4 C284.25,477.25 284.08,476.88 283.83,476.5 C283.58,476.12 283.2,475.6 282.83,475.1 C282.47,474.6 282.05,474.02 281.63,473.5 C281.22,472.98 280.88,472.5 280.33,472 C279.78,471.5 279,471.02 278.33,470.5 C277.67,469.98 276.42,469.48 276.33,468.9 C276.25,468.32 277.17,467.65 277.83,467 C278.5,466.35 279.68,465.5 280.33,465 C280.98,464.5 281.32,464.4 281.73,464 C282.15,463.6 282.6,463.1 282.83,462.6 C283.07,462.1 283.02,461.68 283.13,461 C283.25,460.32 283.37,459 283.53,458.5 C283.7,458 284.03,458.08 284.13,458 Z" fill="#c6c7d9" stroke="#3a3a44" stroke-width="0.65"/><line x1="285.33" y1="458" x2="285.33" y2="477.4" stroke="#555" stroke-width="0.3" opacity="0.7"/><rect x="283.23" y="463.4" width="4.2" height="8.6" fill="#9fa4c1" stroke="#444" stroke-width="0.35"/><circle cx="286.94" cy="468.99" r="0.52" fill="#2a2a33"/><circle cx="286" cy="459.34" r="0.52" fill="#2a2a33"/><circle cx="283.66" cy="467.36" r="0.52" fill="#2a2a33"/><circle cx="286.37" cy="467.74" r="0.52" fill="#2a2a33"/><circle cx="284.5" cy="465.26" r="0.52" fill="#2a2a33"/><circle cx="287.37" cy="466.59" r="0.52" fill="#2a2a33"/><circle cx="286.76" cy="464.02" r="0.52" fill="#2a2a33"/><circle cx="284.84" cy="458.87" r="0.52" fill="#2a2a33"/><circle cx="285.67" cy="471.2" r="0.52" fill="#2a2a33"/><circle cx="286.9" cy="473.22" r="0.52" fill="#2a2a33"/><circle cx="286.65" cy="468.8" r="0.52" fill="#2a2a33"/><circle cx="286.24" cy="469.01" r="0.52" fill="#2a2a33"/><circle cx="284.38" cy="476.08" r="0.52" fill="#2a2a33"/><circle cx="286.82" cy="463.49" r="0.52" fill="#2a2a33"/><circle cx="284.21" cy="467.02" r="0.52" fill="#2a2a33"/><circle cx="284.67" cy="464.46" r="0.52" fill="#2a2a33"/><circle cx="286.41" cy="468.81" r="0.52" fill="#2a2a33"/><circle cx="285.28" cy="466.69" r="0.52" fill="#2a2a33"/><circle cx="287.38" cy="471.34" r="0.52" fill="#2a2a33"/><path d="M307.22,438.5 C307.32,438.58 307.48,438.67 307.82,439 C308.15,439.33 308.73,439.93 309.22,440.5 C309.7,441.07 310.28,441.73 310.72,442.4 C311.15,443.07 311.48,443.73 311.82,444.5 C312.15,445.27 312.48,446.17 312.72,447 C312.95,447.83 313.12,448.72 313.22,449.5 C313.32,450.28 313.43,450.87 313.32,451.7 C313.2,452.53 312.87,453.45 312.52,454.5 C312.17,455.55 311.72,456.83 311.22,458 C310.72,459.17 310.1,460.33 309.52,461.5 C308.93,462.67 308.02,464.42 307.72,465 L301.72,465 C301.42,464.42 300.5,462.67 299.92,461.5 C299.33,460.33 298.72,459.17 298.22,458 C297.72,456.83 297.27,455.55 296.92,454.5 C296.57,453.45 296.23,452.53 296.12,451.7 C296,450.87 296.12,450.28 296.22,449.5 C296.32,448.72 296.48,447.83 296.72,447 C296.95,446.17 297.28,445.27 297.62,444.5 C297.95,443.73 298.28,443.07 298.72,442.4 C299.15,441.73 299.73,441.07 300.22,440.5 C300.7,439.93 301.28,439.33 301.62,439 C301.95,438.67 302.12,438.58 302.22,438.5 Z" fill="#818aa3" stroke="#3a3a44" stroke-width="0.65"/><line x1="304.72" y1="438.5" x2="304.72" y2="465" stroke="#555" stroke-width="0.3" opacity="0.7"/><rect x="302.62" y="441.6" width="4.2" height="18.7" fill="#687d9c" stroke="#444" stroke-width="0.35"/><circle cx="306.85" cy="456.38" r="0.52" fill="#2a2a33"/><circle cx="303.72" cy="458.23" r="0.52" fill="#2a2a33"/><circle cx="304.7" cy="450.73" r="0.52" fill="#2a2a33"/><circle cx="302.78" cy="461.82" r="0.52" fill="#2a2a33"/><circle cx="306.22" cy="440.06" r="0.52" fill="#2a2a33"/><circle cx="304" cy="455.48" r="0.52" fill="#2a2a33"/><circle cx="304.78" cy="454.23" r="0.52" fill="#2a2a33"/><circle cx="306.2" cy="450.97" r="0.52" fill="#2a2a33"/><circle cx="303.34" cy="458.64" r="0.52" fill="#2a2a33"/><circle cx="302.86" cy="444.73" r="0.52" fill="#2a2a33"/><circle cx="306.35" cy="457.92" r="0.52" fill="#2a2a33"/><circle cx="305.76" cy="452.6" r="0.52" fill="#2a2a33"/><circle cx="304.31" cy="440.97" r="0.52" fill="#2a2a33"/><circle cx="302.89" cy="457.15" r="0.52" fill="#2a2a33"/><circle cx="306.57" cy="442.58" r="0.52" fill="#2a2a33"/><circle cx="304.75" cy="444.44" r="0.52" fill="#2a2a33"/><circle cx="305.95" cy="452.16" r="0.52" fill="#2a2a33"/><circle cx="304.93" cy="457.79" r="0.52" fill="#2a2a33"/><circle cx="305.38" cy="458.82" r="0.52" fill="#2a2a33"/><path d="M325.9,410.5 C325.98,410.58 326.3,410.25 326.4,411 C326.5,411.75 326.47,413.4 326.5,415 C326.53,416.6 326.55,418.93 326.6,420.6 C326.65,422.27 326.72,423.45 326.8,425 C326.88,426.55 326.95,428.57 327.1,429.9 C327.25,431.23 327.45,431.95 327.7,433 C327.95,434.05 328.23,435.12 328.6,436.2 C328.97,437.28 329.48,438.47 329.9,439.5 C330.32,440.53 330.73,441.32 331.1,442.4 C331.47,443.48 331.83,444.7 332.1,446 C332.37,447.3 332.7,448.87 332.7,450.2 C332.7,451.53 332.37,452.7 332.1,454 C331.83,455.3 331.57,456.67 331.1,458 C330.63,459.33 329.88,460.72 329.3,462 C328.72,463.28 328.05,464.53 327.6,465.7 C327.15,466.87 326.85,467.95 326.6,469 C326.35,470.05 326.18,471.5 326.1,472 L322.1,472 C322.02,471.5 321.85,470.05 321.6,469 C321.35,467.95 321.05,466.87 320.6,465.7 C320.15,464.53 319.48,463.28 318.9,462 C318.32,460.72 317.57,459.33 317.1,458 C316.63,456.67 316.37,455.3 316.1,454 C315.83,452.7 315.5,451.53 315.5,450.2 C315.5,448.87 315.83,447.3 316.1,446 C316.37,444.7 316.73,443.48 317.1,442.4 C317.47,441.32 317.88,440.53 318.3,439.5 C318.72,438.47 319.23,437.28 319.6,436.2 C319.97,435.12 320.25,434.05 320.5,433 C320.75,431.95 320.95,431.23 321.1,429.9 C321.25,428.57 321.32,426.55 321.4,425 C321.48,423.45 321.55,422.27 321.6,420.6 C321.65,418.93 321.67,416.6 321.7,415 C321.73,413.4 321.7,411.75 321.8,411 C321.9,410.25 322.22,410.58 322.3,410.5 Z" fill="#cd8a84" stroke="#3a3a44" stroke-width="0.65"/><line x1="324.1" y1="410.5" x2="324.1" y2="472" stroke="#555" stroke-width="0.3" opacity="0.7"/><rect x="322" y="439.3" width="4.2" height="17.9" fill="#ab3347" stroke="#444" stroke-width="0.35"/><circle cx="323.99" cy="471.29" r="0.52" fill="#2a2a33"/><circle cx="326.28" cy="440.77" r="0.52" fill="#2a2a33"/><circle cx="324.58" cy="466.33" r="0.52" fill="#2a2a33"/><circle cx="323.53" cy="422.8" r="0.52" fill="#2a2a33"/><circle cx="325.48" cy="447.01" r="0.52" fill="#2a2a33"/><circle cx="322.34" cy="463.65" r="0.52" fill="#2a2a33"/><circle cx="322.34" cy="448.61" r="0.52" fill="#2a2a33"/><circle cx="325.89" cy="456.84" r="0.52" fill="#2a2a33"/><circle cx="322.68" cy="457.92" r="0.52" fill="#2a2a33"/><circle cx="323.44" cy="463.2" r="0.52" fill="#2a2a33"/><circle cx="322.82" cy="428.05" r="0.52" fill="#2a2a33"/><circle cx="323.78" cy="444.93" r="0.52" fill="#2a2a33"/><circle cx="324.52" cy="441.74" r="0.52" fill="#2a2a33"/><circle cx="324.41" cy="458.74" r="0.52" fill="#2a2a33"/><circle cx="324.54" cy="430.75" r="0.52" fill="#2a2a33"/><circle cx="325.88" cy="438.34" r="0.52" fill="#2a2a33"/><circle cx="322.96" cy="435.05" r="0.52" fill="#2a2a33"/><circle cx="322.09" cy="448.34" r="0.52" fill="#2a2a33"/><circle cx="321.91" cy="455.04" r="0.52" fill="#2a2a33"/><path d="M207.8,368.2 L207.8,366.4 L246.57,366.4 L246.57,368.2" fill="none" stroke="#333" stroke-width="1"/><text x="227.18" y="365.5" font-size="3.5" fill="#333" text-anchor="middle">**</text><path d="M227.18,359.8 L227.18,358 L246.57,358 L246.57,359.8" fill="none" stroke="#333" stroke-width="1"/><text x="236.88" y="357.1" font-size="3.5" fill="#333" text-anchor="middle">***</text><path d="M285.33,376.8 L285.33,375 L324.1,375 L324.1,376.8" fill="none" stroke="#333" stroke-width="1"/><text x="304.72" y="374.1" font-size="3.5" fill="#333" text-anchor="middle">****</text><path d="M285.33,385 L285.33,383.2 L304.72,383.2 L304.72,385" fill="none" stroke="#333" stroke-width="1"/><text x="295.03" y="382.3" font-size="3.5" fill="#333" text-anchor="middle">****</text><path d="M265.95,392.5 L265.95,390.7 L324.1,390.7 L324.1,392.5" fill="none" stroke="#333" stroke-width="1"/><text x="295.03" y="389.8" font-size="3.5" fill="#333" text-anchor="middle">*</text><path d="M265.95,401.4 L265.95,399.6 L304.72,399.6 L304.72,401.4" fill="none" stroke="#333" stroke-width="1"/><text x="285.33" y="398.7" font-size="3.5" fill="#333" text-anchor="middle">***</text><path d="M265.95,409.6 L265.95,407.8 L285.33,407.8 L285.33,409.6" fill="none" stroke="#333" stroke-width="1"/><text x="275.64" y="406.9" font-size="3.5" fill="#333" text-anchor="middle">*</text><text x="207.8" y="486.5" font-size="2.6" fill="#444" text-anchor="middle">n=8</text><text x="227.18" y="486.5" font-size="2.6" fill="#444" text-anchor="middle">n=19</text><text x="246.57" y="486.5" font-size="2.6" fill="#444" text-anchor="middle">n=19</text><text x="265.95" y="486.5" font-size="2.6" fill="#444" text-anchor="middle">n=8</text><text x="285.33" y="486.5" font-size="2.6" fill="#444" text-anchor="middle">n=19</text><text x="304.72" y="486.5" font-size="2.6" fill="#444" text-anchor="middle">n=19</text><text x="324.1" y="486.5" font-size="2.6" fill="#444" text-anchor="middle">n=19</text><rect x="196.5" y="351.8" width="139.4" height="139" fill="none" stroke="#222" stroke-width="1.2"/><line x1="193.8" y1="360.6" x2="196.5" y2="360.6" stroke="#222" stroke-width="1"/><text x="185.39" y="362.1" font-size="4.3" fill="#6a6a6a" textLength="7.11" lengthAdjust="spacingAndGlyphs">10.0</text><line x1="193.8" y1="389.5" x2="196.5" y2="389.5" stroke="#222" stroke-width="1"/><text x="187.42" y="391" font-size="4.3" fill="#6a6a6a" textLength="5.08" lengthAdjust="spacingAndGlyphs">7.5</text><line x1="193.8" y1="419" x2="196.5" y2="419" stroke="#222" stroke-width="1"/><text x="187.42" y="420.5" font-size="4.3" fill="#6a6a6a" textLength="5.08" lengthAdjust="spacingAndGlyphs">5.0</text><line x1="193.8" y1="448" x2="196.5" y2="448" stroke="#222" stroke-width="1"/><text x="187.42" y="449.5" font-size="4.3" fill="#6a6a6a" textLength="5.08" lengthAdjust="spacingAndGlyphs">2.5</text><line x1="193.8" y1="477.1" x2="196.5" y2="477.1" stroke="#222" stroke-width="1"/><text x="187.42" y="478.6" font-size="4.3" fill="#6a6a6a" textLength="5.08" lengthAdjust="spacingAndGlyphs">0.0</text><line x1="207.8" y1="490.8" x2="207.8" y2="493.4" stroke="#222" stroke-width="1"/><text x="207.8" y="498.7" font-size="3.8" fill="#555" text-anchor="middle">HD CD8</text><line x1="227.18" y1="490.8" x2="227.18" y2="493.4" stroke="#222" stroke-width="1"/><text x="227.18" y="498.7" font-size="3.8" fill="#555" text-anchor="middle">PB CD8</text><line x1="246.57" y1="490.8" x2="246.57" y2="493.4" stroke="#222" stroke-width="1"/><text x="246.57" y="498.7" font-size="3.8" fill="#555" text-anchor="middle">TIL CD8</text><line x1="265.95" y1="490.8" x2="265.95" y2="493.4" stroke="#222" stroke-width="1"/><text x="265.95" y="498.7" font-size="3.8" fill="#555" text-anchor="middle">HD CD4</text><line x1="285.33" y1="490.8" x2="285.33" y2="493.4" stroke="#222" stroke-width="1"/><text x="285.33" y="498.7" font-size="3.8" fill="#555" text-anchor="middle">PB CD4</text><line x1="304.72" y1="490.8" x2="304.72" y2="493.4" stroke="#222" stroke-width="1"/><text x="304.72" y="498.7" font-size="3.8" fill="#555" text-anchor="middle">TIL CD4</text><line x1="324.1" y1="490.8" x2="324.1" y2="493.4" stroke="#222" stroke-width="1"/><text x="324.1" y="498.7" font-size="3.8" fill="#555" text-anchor="middle">Tumor</text><text x="183" y="421.3" font-size="6.2" fill="#2e2e2e" text-anchor="middle" textLength="10" lengthAdjust="spacingAndGlyphs" transform="rotate(-90 183.3 421.3)">MFI</text><text x="269.2" y="507" font-size="6.3" fill="#333" text-anchor="middle" textLength="29.2" lengthAdjust="spacingAndGlyphs">Population</text></g>
<g><text x="367.7" y="349.3" font-size="4.6" fill="#666" textLength="29" lengthAdjust="spacingAndGlyphs">CD25 Expression</text><path d="M387.7,445 C387.83,445.08 388.5,445.25 388.5,445.5 C388.5,445.75 388.25,446.17 387.7,446.5 C387.15,446.83 385.95,447.17 385.2,447.5 C384.45,447.83 383.82,448 383.2,448.5 C382.58,449 382,449.78 381.5,450.5 C381,451.22 380.42,452.42 380.2,452.8 L379.2,452.8 C378.98,452.42 378.4,451.22 377.9,450.5 C377.4,449.78 376.82,449 376.2,448.5 C375.58,448 374.95,447.83 374.2,447.5 C373.45,447.17 372.25,446.83 371.7,446.5 C371.15,446.17 370.9,445.75 370.9,445.5 C370.9,445.25 371.57,445.08 371.7,445 Z" fill="#c6c7d9" stroke="#3a3a44" stroke-width="0.65"/><line x1="379.7" y1="445" x2="379.7" y2="452.8" stroke="#555" stroke-width="0.3" opacity="0.7"/><rect x="377.6" y="445.5" width="4.2" height="3" fill="#9fa4c1" stroke="#444" stroke-width="0.35"/><circle cx="381.54" cy="445.62" r="0.52" fill="#2a2a33"/><circle cx="380.16" cy="445.63" r="0.52" fill="#2a2a33"/><circle cx="379.33" cy="446.23" r="0.52" fill="#2a2a33"/><circle cx="380.1" cy="451.39" r="0.52" fill="#2a2a33"/><circle cx="380.6" cy="446.65" r="0.52" fill="#2a2a33"/><circle cx="380.2" cy="445.42" r="0.52" fill="#2a2a33"/><circle cx="380.64" cy="446.05" r="0.52" fill="#2a2a33"/><circle cx="379.86" cy="447.96" r="0.52" fill="#2a2a33"/><path d="M400.73,445.7 C400.88,445.78 401.22,445.82 401.63,446.2 C402.05,446.58 402.63,447.42 403.23,448 C403.83,448.58 404.65,449.03 405.23,449.7 C405.82,450.37 406.28,450.95 406.73,452 C407.18,453.05 407.82,454.83 407.93,456 C408.05,457.17 407.72,457.95 407.43,459 C407.15,460.05 406.77,461.3 406.23,462.3 C405.7,463.3 404.82,464.22 404.23,465 C403.65,465.78 403.18,466.33 402.73,467 C402.28,467.67 401.87,468.47 401.53,469 C401.2,469.53 400.87,470 400.73,470.2 L397.73,470.2 C397.6,470 397.27,469.53 396.93,469 C396.6,468.47 396.18,467.67 395.73,467 C395.28,466.33 394.82,465.78 394.23,465 C393.65,464.22 392.77,463.3 392.23,462.3 C391.7,461.3 391.32,460.05 391.03,459 C390.75,457.95 390.42,457.17 390.53,456 C390.65,454.83 391.28,453.05 391.73,452 C392.18,450.95 392.65,450.37 393.23,449.7 C393.82,449.03 394.63,448.58 395.23,448 C395.83,447.42 396.42,446.58 396.83,446.2 C397.25,445.82 397.58,445.78 397.73,445.7 Z" fill="#c6c7d9" stroke="#3a3a44" stroke-width="0.65"/><line x1="399.23" y1="445.7" x2="399.23" y2="470.2" stroke="#555" stroke-width="0.3" opacity="0.7"/><rect x="397.13" y="448" width="4.2" height="14" fill="#9fa4c1" stroke="#444" stroke-width="0.35"/><circle cx="398.18" cy="456.24" r="0.52" fill="#2a2a33"/><circle cx="399.63" cy="449.06" r="0.52" fill="#2a2a33"/><circle cx="397.23" cy="456.14" r="0.52" fill="#2a2a33"/><circle cx="397.22" cy="450.49" r="0.52" fill="#2a2a33"/><circle cx="400.14" cy="449.48" r="0.52" fill="#2a2a33"/><circle cx="400.66" cy="452.14" r="0.52" fill="#2a2a33"/><circle cx="399.9" cy="451.72" r="0.52" fill="#2a2a33"/><circle cx="399.69" cy="464.99" r="0.52" fill="#2a2a33"/><circle cx="398.53" cy="450.94" r="0.52" fill="#2a2a33"/><circle cx="397.18" cy="459.58" r="0.52" fill="#2a2a33"/><circle cx="398.26" cy="459.98" r="0.52" fill="#2a2a33"/><circle cx="398.7" cy="459.34" r="0.52" fill="#2a2a33"/><circle cx="400.73" cy="460.47" r="0.52" fill="#2a2a33"/><circle cx="398.7" cy="451.68" r="0.52" fill="#2a2a33"/><circle cx="398.64" cy="453.53" r="0.52" fill="#2a2a33"/><circle cx="398.43" cy="455.22" r="0.52" fill="#2a2a33"/><circle cx="397.25" cy="459.06" r="0.52" fill="#2a2a33"/><circle cx="398.99" cy="459.45" r="0.52" fill="#2a2a33"/><circle cx="400.75" cy="456.42" r="0.52" fill="#2a2a33"/><path d="M419.57,428.4 C419.6,428.67 419.77,428.73 419.77,430 C419.77,431.27 419.52,434.3 419.57,436 C419.62,437.7 420.03,439.03 420.07,440.2 C420.1,441.37 419.73,441.95 419.77,443 C419.8,444.05 419.77,445.38 420.27,446.5 C420.77,447.62 421.85,448.62 422.77,449.7 C423.68,450.78 424.92,451.82 425.77,453 C426.62,454.18 427.78,455.83 427.87,456.8 C427.95,457.77 426.95,458.15 426.27,458.8 C425.58,459.45 424.48,460.12 423.77,460.7 C423.05,461.28 422.47,461.77 421.97,462.3 C421.47,462.83 421.17,463.12 420.77,463.9 C420.37,464.68 419.77,465.98 419.57,467 C419.37,468.02 419.45,468.95 419.57,470 C419.68,471.05 420.15,472.38 420.27,473.3 C420.38,474.22 420.35,474.97 420.27,475.5 C420.18,476.03 419.85,476.33 419.77,476.5 L417.77,476.5 C417.68,476.33 417.35,476.03 417.27,475.5 C417.18,474.97 417.15,474.22 417.27,473.3 C417.38,472.38 417.85,471.05 417.97,470 C418.08,468.95 418.17,468.02 417.97,467 C417.77,465.98 417.17,464.68 416.77,463.9 C416.37,463.12 416.07,462.83 415.57,462.3 C415.07,461.77 414.48,461.28 413.77,460.7 C413.05,460.12 411.95,459.45 411.27,458.8 C410.58,458.15 409.58,457.77 409.67,456.8 C409.75,455.83 410.92,454.18 411.77,453 C412.62,451.82 413.85,450.78 414.77,449.7 C415.68,448.62 416.77,447.62 417.27,446.5 C417.77,445.38 417.73,444.05 417.77,443 C417.8,441.95 417.43,441.37 417.47,440.2 C417.5,439.03 417.92,437.7 417.97,436 C418.02,434.3 417.77,431.27 417.77,430 C417.77,428.73 417.93,428.67 417.97,428.4 Z" fill="#818aa3" stroke="#3a3a44" stroke-width="0.65"/><line x1="418.77" y1="428.4" x2="418.77" y2="476.5" stroke="#555" stroke-width="0.3" opacity="0.7"/><rect x="416.67" y="453.5" width="4.2" height="6" fill="#687d9c" stroke="#444" stroke-width="0.35"/><circle cx="418.16" cy="454.92" r="0.52" fill="#2a2a33"/><circle cx="419.08" cy="445.95" r="0.52" fill="#2a2a33"/><circle cx="420.35" cy="459.81" r="0.52" fill="#2a2a33"/><circle cx="418.48" cy="467.24" r="0.52" fill="#2a2a33"/><circle cx="419.95" cy="457.42" r="0.52" fill="#2a2a33"/><circle cx="419.99" cy="453.78" r="0.52" fill="#2a2a33"/><circle cx="419.59" cy="446.05" r="0.52" fill="#2a2a33"/><circle cx="420.92" cy="460.64" r="0.52" fill="#2a2a33"/><circle cx="418.41" cy="431.33" r="0.52" fill="#2a2a33"/><circle cx="418.27" cy="454.28" r="0.52" fill="#2a2a33"/><circle cx="418.33" cy="459.51" r="0.52" fill="#2a2a33"/><circle cx="420.95" cy="459.83" r="0.52" fill="#2a2a33"/><circle cx="418.86" cy="444.05" r="0.52" fill="#2a2a33"/><circle cx="420.54" cy="455.94" r="0.52" fill="#2a2a33"/><circle cx="417.49" cy="456.3" r="0.52" fill="#2a2a33"/><circle cx="419.33" cy="453.17" r="0.52" fill="#2a2a33"/><circle cx="420.93" cy="454.7" r="0.52" fill="#2a2a33"/><circle cx="418.83" cy="468.55" r="0.52" fill="#2a2a33"/><circle cx="418.13" cy="454.2" r="0.52" fill="#2a2a33"/><path d="M441.8,429.5 C441.97,429.58 442.22,429.75 442.8,430 C443.38,430.25 444.6,430.62 445.3,431 C446,431.38 446.75,431.8 447,432.3 C447.25,432.8 447,433.38 446.8,434 C446.6,434.62 446.18,435.37 445.8,436 C445.42,436.63 445,437.27 444.5,437.8 C444,438.33 443.33,438.8 442.8,439.2 C442.27,439.6 441.55,440.03 441.3,440.2 L435.3,440.2 C435.05,440.03 434.33,439.6 433.8,439.2 C433.27,438.8 432.6,438.33 432.1,437.8 C431.6,437.27 431.18,436.63 430.8,436 C430.42,435.37 430,434.62 429.8,434 C429.6,433.38 429.35,432.8 429.6,432.3 C429.85,431.8 430.6,431.38 431.3,431 C432,430.62 433.22,430.25 433.8,430 C434.38,429.75 434.63,429.58 434.8,429.5 Z" fill="#c6c7d9" stroke="#3a3a44" stroke-width="0.65"/><line x1="438.3" y1="429.5" x2="438.3" y2="440.2" stroke="#555" stroke-width="0.3" opacity="0.7"/><rect x="436.2" y="430" width="4.2" height="7" fill="#9fa4c1" stroke="#444" stroke-width="0.35"/><circle cx="437.8" cy="434.5" r="0.52" fill="#2a2a33"/><circle cx="436.59" cy="429.51" r="0.52" fill="#2a2a33"/><circle cx="439.51" cy="437.14" r="0.52" fill="#2a2a33"/><circle cx="440.12" cy="438.81" r="0.52" fill="#2a2a33"/><circle cx="439.91" cy="432.95" r="0.52" fill="#2a2a33"/><circle cx="437.42" cy="433.56" r="0.52" fill="#2a2a33"/><circle cx="438.55" cy="430.32" r="0.52" fill="#2a2a33"/><circle cx="437.31" cy="431.71" r="0.52" fill="#2a2a33"/><path d="M459.03,427.9 C459.1,427.98 459.33,427.72 459.43,428.4 C459.53,429.08 459.6,430.73 459.63,432 C459.67,433.27 459.6,434.87 459.63,436 C459.67,437.13 459.7,438.05 459.83,438.8 C459.97,439.55 460.18,439.88 460.43,440.5 C460.68,441.12 460.98,441.83 461.33,442.5 C461.68,443.17 462.12,443.87 462.53,444.5 C462.95,445.13 463.38,445.67 463.83,446.3 C464.28,446.93 464.85,447.68 465.23,448.3 C465.62,448.92 465.9,449.2 466.13,450 C466.37,450.8 466.63,452.27 466.63,453.1 C466.63,453.93 466.38,454.52 466.13,455 C465.88,455.48 465.3,455.83 465.13,456 L450.53,456 C450.37,455.83 449.78,455.48 449.53,455 C449.28,454.52 449.03,453.93 449.03,453.1 C449.03,452.27 449.3,450.8 449.53,450 C449.77,449.2 450.05,448.92 450.43,448.3 C450.82,447.68 451.38,446.93 451.83,446.3 C452.28,445.67 452.72,445.13 453.13,444.5 C453.55,443.87 453.98,443.17 454.33,442.5 C454.68,441.83 454.98,441.12 455.23,440.5 C455.48,439.88 455.7,439.55 455.83,438.8 C455.97,438.05 456,437.13 456.03,436 C456.07,434.87 456,433.27 456.03,432 C456.07,430.73 456.13,429.08 456.23,428.4 C456.33,427.72 456.57,427.98 456.63,427.9 Z" fill="#c6c7d9" stroke="#3a3a44" stroke-width="0.65"/><line x1="457.83" y1="427.9" x2="457.83" y2="456" stroke="#555" stroke-width="0.3" opacity="0.7"/><rect x="455.73" y="446.3" width="4.2" height="9.3" fill="#9fa4c1" stroke="#444" stroke-width="0.35"/><circle cx="456.57" cy="441.52" r="0.52" fill="#2a2a33"/><circle cx="458.62" cy="449.7" r="0.52" fill="#2a2a33"/><circle cx="458.17" cy="439.58" r="0.52" fill="#2a2a33"/><circle cx="457.59" cy="443.07" r="0.52" fill="#2a2a33"/><circle cx="458.48" cy="450.05" r="0.52" fill="#2a2a33"/><circle cx="457.56" cy="450.89" r="0.52" fill="#2a2a33"/><circle cx="457.58" cy="435.62" r="0.52" fill="#2a2a33"/><circle cx="458.21" cy="449.42" r="0.52" fill="#2a2a33"/><circle cx="455.64" cy="446.63" r="0.52" fill="#2a2a33"/><circle cx="458.4" cy="452.03" r="0.52" fill="#2a2a33"/><circle cx="459.94" cy="451.64" r="0.52" fill="#2a2a33"/><circle cx="459.02" cy="444.7" r="0.52" fill="#2a2a33"/><circle cx="458" cy="449.3" r="0.52" fill="#2a2a33"/><circle cx="457.93" cy="440.17" r="0.52" fill="#2a2a33"/><circle cx="456.33" cy="449.61" r="0.52" fill="#2a2a33"/><circle cx="459.3" cy="455.76" r="0.52" fill="#2a2a33"/><circle cx="459.82" cy="449.79" r="0.52" fill="#2a2a33"/><circle cx="458.53" cy="450.11" r="0.52" fill="#2a2a33"/><circle cx="456.8" cy="448.6" r="0.52" fill="#2a2a33"/><path d="M481.17,419.8 C481.27,419.88 481.6,419.85 481.77,420.3 C481.93,420.75 482.02,421.72 482.17,422.5 C482.32,423.28 482.47,424 482.67,425 C482.87,426 483.08,427.25 483.37,428.5 C483.65,429.75 484.03,431.08 484.37,432.5 C484.7,433.92 485.07,435.33 485.37,437 C485.67,438.67 486.2,441 486.17,442.5 C486.13,444 485.63,444.75 485.17,446 C484.7,447.25 483.88,448.83 483.37,450 C482.85,451.17 482.48,451.95 482.07,453 C481.65,454.05 481.25,455.3 480.87,456.3 C480.48,457.3 480.1,458.07 479.77,459 C479.43,459.93 479.02,461.42 478.87,461.9 L475.87,461.9 C475.72,461.42 475.3,459.93 474.97,459 C474.63,458.07 474.25,457.3 473.87,456.3 C473.48,455.3 473.08,454.05 472.67,453 C472.25,451.95 471.88,451.17 471.37,450 C470.85,448.83 470.03,447.25 469.57,446 C469.1,444.75 468.6,444 468.57,442.5 C468.53,441 469.07,438.67 469.37,437 C469.67,435.33 470.03,433.92 470.37,432.5 C470.7,431.08 471.08,429.75 471.37,428.5 C471.65,427.25 471.87,426 472.07,425 C472.27,424 472.42,423.28 472.57,422.5 C472.72,421.72 472.8,420.75 472.97,420.3 C473.13,419.85 473.47,419.88 473.57,419.8 Z" fill="#818aa3" stroke="#3a3a44" stroke-width="0.65"/><line x1="477.37" y1="419.8" x2="477.37" y2="461.9" stroke="#555" stroke-width="0.3" opacity="0.7"/><rect x="475.27" y="430" width="4.2" height="18.8" fill="#687d9c" stroke="#444" stroke-width="0.35"/><circle cx="477.97" cy="450.8" r="0.52" fill="#2a2a33"/><circle cx="475.62" cy="433.84" r="0.52" fill="#2a2a33"/><circle cx="476.99" cy="447.35" r="0.52" fill="#2a2a33"/><circle cx="477.77" cy="454.8" r="0.52" fill="#2a2a33"/><circle cx="475.24" cy="442.28" r="0.52" fill="#2a2a33"/><circle cx="478" cy="455.29" r="0.52" fill="#2a2a33"/><circle cx="478.74" cy="437.53" r="0.52" fill="#2a2a33"/><circle cx="478.42" cy="440.04" r="0.52" fill="#2a2a33"/><circle cx="477.2" cy="449.54" r="0.52" fill="#2a2a33"/><circle cx="478.38" cy="448.39" r="0.52" fill="#2a2a33"/><circle cx="477.26" cy="436.9" r="0.52" fill="#2a2a33"/><circle cx="476.59" cy="431.29" r="0.52" fill="#2a2a33"/><circle cx="476.55" cy="433.44" r="0.52" fill="#2a2a33"/><circle cx="479" cy="440.58" r="0.52" fill="#2a2a33"/><circle cx="478.61" cy="447.24" r="0.52" fill="#2a2a33"/><circle cx="479.37" cy="423.28" r="0.52" fill="#2a2a33"/><circle cx="477.28" cy="422.89" r="0.52" fill="#2a2a33"/><circle cx="477.65" cy="450.95" r="0.52" fill="#2a2a33"/><circle cx="475.71" cy="437.65" r="0.52" fill="#2a2a33"/><path d="M499.5,392.5 C499.58,392.58 499.9,392.42 500,393 C500.1,393.58 500.03,394.83 500.1,396 C500.17,397.17 500.27,398.5 500.4,400 C500.53,401.5 500.73,403.33 500.9,405 C501.07,406.67 501.2,408.33 501.4,410 C501.6,411.67 501.85,413.33 502.1,415 C502.35,416.67 502.63,418.33 502.9,420 C503.17,421.67 503.45,423.33 503.7,425 C503.95,426.67 504.15,428.42 504.4,430 C504.65,431.58 504.98,433.03 505.2,434.5 C505.42,435.97 505.67,437.38 505.7,438.8 C505.73,440.22 505.62,441.55 505.4,443 C505.18,444.45 504.77,446.17 504.4,447.5 C504.03,448.83 503.62,449.92 503.2,451 C502.78,452.08 502.28,453.12 501.9,454 C501.52,454.88 501.07,455.92 500.9,456.3 L492.9,456.3 C492.73,455.92 492.28,454.88 491.9,454 C491.52,453.12 491.02,452.08 490.6,451 C490.18,449.92 489.77,448.83 489.4,447.5 C489.03,446.17 488.62,444.45 488.4,443 C488.18,441.55 488.07,440.22 488.1,438.8 C488.13,437.38 488.38,435.97 488.6,434.5 C488.82,433.03 489.15,431.58 489.4,430 C489.65,428.42 489.85,426.67 490.1,425 C490.35,423.33 490.63,421.67 490.9,420 C491.17,418.33 491.45,416.67 491.7,415 C491.95,413.33 492.2,411.67 492.4,410 C492.6,408.33 492.73,406.67 492.9,405 C493.07,403.33 493.27,401.5 493.4,400 C493.53,398.5 493.63,397.17 493.7,396 C493.77,394.83 493.7,393.58 493.8,393 C493.9,392.42 494.22,392.58 494.3,392.5 Z" fill="#cd8a84" stroke="#3a3a44" stroke-width="0.65"/><line x1="496.9" y1="392.5" x2="496.9" y2="456.3" stroke="#555" stroke-width="0.3" opacity="0.7"/><rect x="494.8" y="415" width="4.2" height="30.6" fill="#ab3347" stroke="#444" stroke-width="0.35"/><circle cx="495.86" cy="410.58" r="0.52" fill="#2a2a33"/><circle cx="495.95" cy="443.06" r="0.52" fill="#2a2a33"/><circle cx="496.5" cy="421.39" r="0.52" fill="#2a2a33"/><circle cx="496.91" cy="454.95" r="0.52" fill="#2a2a33"/><circle cx="495.66" cy="434.96" r="0.52" fill="#2a2a33"/><circle cx="497.18" cy="430.98" r="0.52" fill="#2a2a33"/><circle cx="497.42" cy="424.18" r="0.52" fill="#2a2a33"/><circle cx="498.56" cy="421.81" r="0.52" fill="#2a2a33"/><circle cx="498.07" cy="421.93" r="0.52" fill="#2a2a33"/><circle cx="496.48" cy="445.37" r="0.52" fill="#2a2a33"/><circle cx="498.49" cy="455.69" r="0.52" fill="#2a2a33"/><circle cx="495.72" cy="448.09" r="0.52" fill="#2a2a33"/><circle cx="495.16" cy="414.39" r="0.52" fill="#2a2a33"/><circle cx="498.55" cy="433" r="0.52" fill="#2a2a33"/><circle cx="496.64" cy="433.61" r="0.52" fill="#2a2a33"/><circle cx="498.7" cy="404.72" r="0.52" fill="#2a2a33"/><circle cx="495.72" cy="435.68" r="0.52" fill="#2a2a33"/><circle cx="498.75" cy="447.59" r="0.52" fill="#2a2a33"/><circle cx="498.45" cy="436.95" r="0.52" fill="#2a2a33"/><path d="M379.7,360 L379.7,358.2 L418.77,358.2 L418.77,360" fill="none" stroke="#333" stroke-width="1"/><text x="399.23" y="357.3" font-size="3.5" fill="#333" text-anchor="middle">**</text><path d="M379.7,369.8 L379.7,368 L399.23,368 L399.23,369.8" fill="none" stroke="#333" stroke-width="1"/><text x="389.47" y="367.1" font-size="3.5" fill="#333" text-anchor="middle">***</text><path d="M457.83,379.9 L457.83,378.1 L496.9,378.1 L496.9,379.9" fill="none" stroke="#333" stroke-width="1"/><text x="477.37" y="377.2" font-size="3.5" fill="#333" text-anchor="middle">**</text><path d="M438.3,390.9 L438.3,389.1 L457.83,389.1 L457.83,390.9" fill="none" stroke="#333" stroke-width="1"/><text x="448.07" y="388.2" font-size="3.5" fill="#333" text-anchor="middle">**</text><text x="379.7" y="486.5" font-size="2.6" fill="#444" text-anchor="middle">n=8</text><text x="399.23" y="486.5" font-size="2.6" fill="#444" text-anchor="middle">n=19</text><text x="418.77" y="486.5" font-size="2.6" fill="#444" text-anchor="middle">n=19</text><text x="438.3" y="486.5" font-size="2.6" fill="#444" text-anchor="middle">n=8</text><text x="457.83" y="486.5" font-size="2.6" fill="#444" text-anchor="middle">n=19</text><text x="477.37" y="486.5" font-size="2.6" fill="#444" text-anchor="middle">n=19</text><text x="496.9" y="486.5" font-size="2.6" fill="#444" text-anchor="middle">n=19</text><rect x="368" y="351.9" width="140.4" height="138.9" fill="none" stroke="#222" stroke-width="1.2"/><line x1="365.3" y1="353.3" x2="368" y2="353.3" stroke="#222" stroke-width="1"/><text x="358.92" y="354.8" font-size="4.3" fill="#6a6a6a" textLength="5.08" lengthAdjust="spacingAndGlyphs">2.5</text><line x1="365.3" y1="375.7" x2="368" y2="375.7" stroke="#222" stroke-width="1"/><text x="358.92" y="377.2" font-size="4.3" fill="#6a6a6a" textLength="5.08" lengthAdjust="spacingAndGlyphs">2.0</text><line x1="365.3" y1="398.4" x2="368" y2="398.4" stroke="#222" stroke-width="1"/><text x="358.92" y="399.9" font-size="4.3" fill="#6a6a6a" textLength="5.08" lengthAdjust="spacingAndGlyphs">1.5</text><line x1="365.3" y1="421.1" x2="368" y2="421.1" stroke="#222" stroke-width="1"/><text x="358.92" y="422.6" font-size="4.3" fill="#6a6a6a" textLength="5.08" lengthAdjust="spacingAndGlyphs">1.0</text><line x1="365.3" y1="444" x2="368" y2="444" stroke="#222" stroke-width="1"/><text x="358.92" y="445.5" font-size="4.3" fill="#6a6a6a" textLength="5.08" lengthAdjust="spacingAndGlyphs">0.5</text><line x1="365.3" y1="466.9" x2="368" y2="466.9" stroke="#222" stroke-width="1"/><text x="358.92" y="468.4" font-size="4.3" fill="#6a6a6a" textLength="5.08" lengthAdjust="spacingAndGlyphs">0.0</text><line x1="365.3" y1="489.5" x2="368" y2="489.5" stroke="#222" stroke-width="1"/><text x="357.7" y="491" font-size="4.3" fill="#6a6a6a" textLength="6.3" lengthAdjust="spacingAndGlyphs">-0.5</text><line x1="379.7" y1="490.8" x2="379.7" y2="493.4" stroke="#222" stroke-width="1"/><text x="379.7" y="498.7" font-size="3.8" fill="#555" text-anchor="middle">HD CD8</text><line x1="399.23" y1="490.8" x2="399.23" y2="493.4" stroke="#222" stroke-width="1"/><text x="399.23" y="498.7" font-size="3.8" fill="#555" text-anchor="middle">PB CD8</text><line x1="418.77" y1="490.8" x2="418.77" y2="493.4" stroke="#222" stroke-width="1"/><text x="418.77" y="498.7" font-size="3.8" fill="#555" text-anchor="middle">TIL CD8</text><line x1="438.3" y1="490.8" x2="438.3" y2="493.4" stroke="#222" stroke-width="1"/><text x="438.3" y="498.7" font-size="3.8" fill="#555" text-anchor="middle">HD CD4</text><line x1="457.83" y1="490.8" x2="457.83" y2="493.4" stroke="#222" stroke-width="1"/><text x="457.83" y="498.7" font-size="3.8" fill="#555" text-anchor="middle">PB CD4</text><line x1="477.37" y1="490.8" x2="477.37" y2="493.4" stroke="#222" stroke-width="1"/><text x="477.37" y="498.7" font-size="3.8" fill="#555" text-anchor="middle">TIL CD4</text><line x1="496.9" y1="490.8" x2="496.9" y2="493.4" stroke="#222" stroke-width="1"/><text x="496.9" y="498.7" font-size="3.8" fill="#555" text-anchor="middle">Tumor</text><text x="353.7" y="421.35" font-size="6.2" fill="#2e2e2e" text-anchor="middle" textLength="10" lengthAdjust="spacingAndGlyphs" transform="rotate(-90 354 421.35)">MFI</text><text x="440.8" y="507" font-size="6.3" fill="#333" text-anchor="middle" textLength="29.2" lengthAdjust="spacingAndGlyphs">Population</text></g>
<g><text x="25" y="518" font-size="4.6" fill="#666" textLength="26" lengthAdjust="spacingAndGlyphs">T-Reg Fraction</text><path d="M37.5,643 C38.65,643.08 43.25,643.25 44.4,643.5 C45.55,643.75 45.55,644.25 44.4,644.5 C43.25,644.75 38.65,644.92 37.5,645 L35.5,645 C34.35,644.92 29.75,644.75 28.6,644.5 C27.45,644.25 27.45,643.75 28.6,643.5 C29.75,643.25 34.35,643.08 35.5,643 Z" fill="#c6c7d9" stroke="#3a3a44" stroke-width="0.65"/><line x1="36.5" y1="643" x2="36.5" y2="645" stroke="#555" stroke-width="0.3" opacity="0.7"/><circle cx="34.99" cy="643.56" r="0.52" fill="#2a2a33"/><circle cx="37.64" cy="643.51" r="0.52" fill="#2a2a33"/><circle cx="37.61" cy="644.2" r="0.52" fill="#2a2a33"/><circle cx="37.39" cy="643.4" r="0.52" fill="#2a2a33"/><circle cx="35.44" cy="644.49" r="0.52" fill="#2a2a33"/><circle cx="35.9" cy="643.97" r="0.52" fill="#2a2a33"/><circle cx="37.85" cy="643.95" r="0.52" fill="#2a2a33"/><circle cx="37.74" cy="644.81" r="0.52" fill="#2a2a33"/><path d="M57.5,637 C57.5,637.33 57.62,638.33 57.5,639 C57.38,639.67 56.5,640.33 56.8,641 C57.1,641.67 58.02,642.55 59.3,643 C60.58,643.45 63.63,643.42 64.5,643.7 C65.37,643.98 65.7,644.45 64.5,644.7 C63.3,644.95 58.5,645.12 57.3,645.2 L55.3,645.2 C54.1,645.12 49.3,644.95 48.1,644.7 C46.9,644.45 47.23,643.98 48.1,643.7 C48.97,643.42 52.02,643.45 53.3,643 C54.58,642.55 55.5,641.67 55.8,641 C56.1,640.33 55.22,639.67 55.1,639 C54.98,638.33 55.1,637.33 55.1,637 Z" fill="#c6c7d9" stroke="#3a3a44" stroke-width="0.65"/><line x1="56.3" y1="637" x2="56.3" y2="645.2" stroke="#555" stroke-width="0.3" opacity="0.7"/><circle cx="55.78" cy="637.04" r="0.52" fill="#2a2a33"/><circle cx="56.58" cy="643.48" r="0.52" fill="#2a2a33"/><circle cx="54.44" cy="643.59" r="0.52" fill="#2a2a33"/><circle cx="57.33" cy="643.62" r="0.52" fill="#2a2a33"/><circle cx="57.63" cy="643.42" r="0.52" fill="#2a2a33"/><circle cx="58.43" cy="644.95" r="0.52" fill="#2a2a33"/><circle cx="56.33" cy="639.58" r="0.52" fill="#2a2a33"/><circle cx="54.78" cy="643.88" r="0.52" fill="#2a2a33"/><circle cx="56.02" cy="644.26" r="0.52" fill="#2a2a33"/><circle cx="56.02" cy="643.25" r="0.52" fill="#2a2a33"/><circle cx="55.67" cy="639.04" r="0.52" fill="#2a2a33"/><circle cx="55.44" cy="643.89" r="0.52" fill="#2a2a33"/><circle cx="54.44" cy="644.2" r="0.52" fill="#2a2a33"/><circle cx="55.76" cy="638.06" r="0.52" fill="#2a2a33"/><circle cx="56.69" cy="643.85" r="0.52" fill="#2a2a33"/><circle cx="56.5" cy="637.72" r="0.52" fill="#2a2a33"/><circle cx="58.13" cy="643.3" r="0.52" fill="#2a2a33"/><circle cx="56.74" cy="643.32" r="0.52" fill="#2a2a33"/><circle cx="57.43" cy="644.88" r="0.52" fill="#2a2a33"/><path d="M77.1,630.7 C77.02,630.92 76.63,630.78 76.6,632 C76.57,633.22 76.48,636.58 76.9,638 C77.32,639.42 78.07,639.67 79.1,640.5 C80.13,641.33 82.13,642.42 83.1,643 C84.07,643.58 85.57,643.67 84.9,644 C84.23,644.33 80.07,644.83 79.1,645 L73.1,645 C72.13,644.83 67.97,644.33 67.3,644 C66.63,643.67 68.13,643.58 69.1,643 C70.07,642.42 72.07,641.33 73.1,640.5 C74.13,639.67 74.88,639.42 75.3,638 C75.72,636.58 75.63,633.22 75.6,632 C75.57,630.78 75.18,630.92 75.1,630.7 Z" fill="#818aa3" stroke="#3a3a44" stroke-width="0.65"/><line x1="76.1" y1="630.7" x2="76.1" y2="645" stroke="#555" stroke-width="0.3" opacity="0.7"/><circle cx="77.04" cy="640.42" r="0.52" fill="#2a2a33"/><circle cx="75.2" cy="643.76" r="0.52" fill="#2a2a33"/><circle cx="76.43" cy="636.07" r="0.52" fill="#2a2a33"/><circle cx="74.4" cy="643.35" r="0.52" fill="#2a2a33"/><circle cx="74.31" cy="644.1" r="0.52" fill="#2a2a33"/><circle cx="76.76" cy="643.78" r="0.52" fill="#2a2a33"/><circle cx="76.58" cy="642.97" r="0.52" fill="#2a2a33"/><circle cx="77.43" cy="641.71" r="0.52" fill="#2a2a33"/><circle cx="77.25" cy="642.52" r="0.52" fill="#2a2a33"/><circle cx="75.43" cy="644.61" r="0.52" fill="#2a2a33"/><circle cx="77.23" cy="644.29" r="0.52" fill="#2a2a33"/><circle cx="76.09" cy="633.68" r="0.52" fill="#2a2a33"/><circle cx="77.69" cy="644.25" r="0.52" fill="#2a2a33"/><circle cx="76.1" cy="635.79" r="0.52" fill="#2a2a33"/><circle cx="76.33" cy="641.77" r="0.52" fill="#2a2a33"/><circle cx="76.76" cy="643.08" r="0.52" fill="#2a2a33"/><circle cx="76.68" cy="640.78" r="0.52" fill="#2a2a33"/><circle cx="74.47" cy="640.64" r="0.52" fill="#2a2a33"/><circle cx="77.59" cy="640.38" r="0.52" fill="#2a2a33"/><path d="M97.9,617.8 C97.82,618.08 97.65,618.97 97.4,619.5 C97.15,620.03 96.48,620.08 96.4,621 C96.32,621.92 96.65,623.97 96.9,625 C97.15,626.03 97.9,626.53 97.9,627.2 C97.9,627.87 96.73,628.2 96.9,629 C97.07,629.8 97.6,631.13 98.9,632 C100.2,632.87 104.37,633.53 104.7,634.2 C105.03,634.87 102.03,635.5 100.9,636 C99.77,636.5 98.4,637 97.9,637.2 L93.9,637.2 C93.4,637 92.03,636.5 90.9,636 C89.77,635.5 86.77,634.87 87.1,634.2 C87.43,633.53 91.6,632.87 92.9,632 C94.2,631.13 94.73,629.8 94.9,629 C95.07,628.2 93.9,627.87 93.9,627.2 C93.9,626.53 94.65,626.03 94.9,625 C95.15,623.97 95.48,621.92 95.4,621 C95.32,620.08 94.65,620.03 94.4,619.5 C94.15,618.97 93.98,618.08 93.9,617.8 Z" fill="#c6c7d9" stroke="#3a3a44" stroke-width="0.65"/><line x1="95.9" y1="617.8" x2="95.9" y2="637.2" stroke="#555" stroke-width="0.3" opacity="0.7"/><circle cx="94.2" cy="634.41" r="0.52" fill="#2a2a33"/><circle cx="95.44" cy="634.61" r="0.52" fill="#2a2a33"/><circle cx="96.09" cy="631.22" r="0.52" fill="#2a2a33"/><circle cx="97.48" cy="632.32" r="0.52" fill="#2a2a33"/><circle cx="95.89" cy="623.65" r="0.52" fill="#2a2a33"/><circle cx="95.38" cy="636.27" r="0.52" fill="#2a2a33"/><circle cx="97.3" cy="632.58" r="0.52" fill="#2a2a33"/><circle cx="95.7" cy="634.8" r="0.52" fill="#2a2a33"/><path d="M118.7,609.3 C118.83,609.38 119.37,609.27 119.5,609.8 C119.63,610.33 119.55,611.57 119.5,612.5 C119.45,613.43 119.03,614.4 119.2,615.4 C119.37,616.4 120,617.47 120.5,618.5 C121,619.53 121.68,620.52 122.2,621.6 C122.72,622.68 123.22,623.73 123.6,625 C123.98,626.27 124.45,627.87 124.5,629.2 C124.55,630.53 124.2,631.72 123.9,633 C123.6,634.28 123.15,635.73 122.7,636.9 C122.25,638.07 121.65,639.12 121.2,640 C120.75,640.88 120.2,641.83 120,642.2 L111.4,642.2 C111.2,641.83 110.65,640.88 110.2,640 C109.75,639.12 109.15,638.07 108.7,636.9 C108.25,635.73 107.8,634.28 107.5,633 C107.2,631.72 106.85,630.53 106.9,629.2 C106.95,627.87 107.42,626.27 107.8,625 C108.18,623.73 108.68,622.68 109.2,621.6 C109.72,620.52 110.4,619.53 110.9,618.5 C111.4,617.47 112.03,616.4 112.2,615.4 C112.37,614.4 111.95,613.43 111.9,612.5 C111.85,611.57 111.77,610.33 111.9,609.8 C112.03,609.27 112.57,609.38 112.7,609.3 Z" fill="#c6c7d9" stroke="#3a3a44" stroke-width="0.65"/><line x1="115.7" y1="609.3" x2="115.7" y2="642.2" stroke="#555" stroke-width="0.3" opacity="0.7"/><rect x="113.6" y="623.1" width="4.2" height="14.5" fill="#9fa4c1" stroke="#444" stroke-width="0.35"/><circle cx="114.12" cy="635.36" r="0.52" fill="#2a2a33"/><circle cx="113.55" cy="636.21" r="0.52" fill="#2a2a33"/><circle cx="116.6" cy="620.63" r="0.52" fill="#2a2a33"/><circle cx="113.97" cy="610.61" r="0.52" fill="#2a2a33"/><circle cx="114.74" cy="622.36" r="0.52" fill="#2a2a33"/><circle cx="114.62" cy="628.01" r="0.52" fill="#2a2a33"/><circle cx="117.65" cy="630.45" r="0.52" fill="#2a2a33"/><circle cx="115.88" cy="616.79" r="0.52" fill="#2a2a33"/><circle cx="114.31" cy="629.18" r="0.52" fill="#2a2a33"/><circle cx="116.48" cy="632.62" r="0.52" fill="#2a2a33"/><circle cx="116.02" cy="630.34" r="0.52" fill="#2a2a33"/><circle cx="117.43" cy="629.93" r="0.52" fill="#2a2a33"/><circle cx="117.1" cy="631.89" r="0.52" fill="#2a2a33"/><circle cx="113.81" cy="624.94" r="0.52" fill="#2a2a33"/><circle cx="117.88" cy="632.3" r="0.52" fill="#2a2a33"/><circle cx="116.92" cy="621.64" r="0.52" fill="#2a2a33"/><circle cx="115.15" cy="641.85" r="0.52" fill="#2a2a33"/><circle cx="113.53" cy="619.78" r="0.52" fill="#2a2a33"/><circle cx="113.67" cy="630.73" r="0.52" fill="#2a2a33"/><path d="M139.5,553.1 C139.62,553.58 139.95,553.78 140.2,556 C140.45,558.22 140.62,562.73 141,566.4 C141.38,570.07 142.08,574.07 142.5,578 C142.92,581.93 143.27,586.08 143.5,590 C143.73,593.92 143.85,597.33 143.9,601.5 C143.95,605.67 143.9,611.08 143.8,615 C143.7,618.92 143.6,621.42 143.3,625 C143,628.58 142.47,633.67 142,636.5 C141.53,639.33 140.92,640.63 140.5,642 C140.08,643.37 139.67,644.25 139.5,644.7 L131.5,644.7 C131.33,644.25 130.92,643.37 130.5,642 C130.08,640.63 129.47,639.33 129,636.5 C128.53,633.67 128,628.58 127.7,625 C127.4,621.42 127.3,618.92 127.2,615 C127.1,611.08 127.05,605.67 127.1,601.5 C127.15,597.33 127.27,593.92 127.5,590 C127.73,586.08 128.08,581.93 128.5,578 C128.92,574.07 129.62,570.07 130,566.4 C130.38,562.73 130.55,558.22 130.8,556 C131.05,553.78 131.38,553.58 131.5,553.1 Z" fill="#818aa3" stroke="#3a3a44" stroke-width="0.65"/><line x1="135.5" y1="553.1" x2="135.5" y2="644.7" stroke="#555" stroke-width="0.3" opacity="0.7"/><rect x="133.4" y="583.3" width="4.2" height="49" fill="#687d9c" stroke="#444" stroke-width="0.35"/><circle cx="137.52" cy="628.27" r="0.52" fill="#2a2a33"/><circle cx="137.4" cy="598.23" r="0.52" fill="#2a2a33"/><circle cx="134.51" cy="613.64" r="0.52" fill="#2a2a33"/><circle cx="134.18" cy="628.8" r="0.52" fill="#2a2a33"/><circle cx="134.19" cy="576.87" r="0.52" fill="#2a2a33"/><circle cx="136.29" cy="574.3" r="0.52" fill="#2a2a33"/><circle cx="136.99" cy="637.1" r="0.52" fill="#2a2a33"/><circle cx="135.66" cy="574.05" r="0.52" fill="#2a2a33"/><circle cx="136.62" cy="582.72" r="0.52" fill="#2a2a33"/><circle cx="133.83" cy="636.74" r="0.52" fill="#2a2a33"/><circle cx="136.32" cy="641.94" r="0.52" fill="#2a2a33"/><circle cx="136.1" cy="554.42" r="0.52" fill="#2a2a33"/><circle cx="133.92" cy="591.9" r="0.52" fill="#2a2a33"/><circle cx="137.45" cy="562.46" r="0.52" fill="#2a2a33"/><circle cx="136.11" cy="564.07" r="0.52" fill="#2a2a33"/><circle cx="137.23" cy="591.26" r="0.52" fill="#2a2a33"/><circle cx="136.95" cy="587.3" r="0.52" fill="#2a2a33"/><circle cx="137.28" cy="604.76" r="0.52" fill="#2a2a33"/><circle cx="134.09" cy="602.6" r="0.52" fill="#2a2a33"/><path d="M156.3,600.1 C156.38,600.18 156.77,600.12 156.8,600.6 C156.83,601.08 156.58,601.93 156.5,603 C156.42,604.07 156.32,605.43 156.3,607 C156.28,608.57 156.28,610.98 156.4,612.4 C156.52,613.82 156.77,614.48 157,615.5 C157.23,616.52 157.47,617.33 157.8,618.5 C158.13,619.67 158.58,621.22 159,622.5 C159.42,623.78 159.87,625.03 160.3,626.2 C160.73,627.37 161.18,628.48 161.6,629.5 C162.02,630.52 162.42,631.42 162.8,632.3 C163.18,633.18 163.62,634.03 163.9,634.8 C164.18,635.57 164.55,636.12 164.5,636.9 C164.45,637.68 163.97,638.73 163.6,639.5 C163.23,640.27 162.77,640.92 162.3,641.5 C161.83,642.08 161.05,642.75 160.8,643 L149.8,643 C149.55,642.75 148.77,642.08 148.3,641.5 C147.83,640.92 147.37,640.27 147,639.5 C146.63,638.73 146.15,637.68 146.1,636.9 C146.05,636.12 146.42,635.57 146.7,634.8 C146.98,634.03 147.42,633.18 147.8,632.3 C148.18,631.42 148.58,630.52 149,629.5 C149.42,628.48 149.87,627.37 150.3,626.2 C150.73,625.03 151.18,623.78 151.6,622.5 C152.02,621.22 152.47,619.67 152.8,618.5 C153.13,617.33 153.37,616.52 153.6,615.5 C153.83,614.48 154.08,613.82 154.2,612.4 C154.32,610.98 154.32,608.57 154.3,607 C154.28,605.43 154.18,604.07 154.1,603 C154.02,601.93 153.77,601.08 153.8,600.6 C153.83,600.12 154.22,600.18 154.3,600.1 Z" fill="#cd8a84" stroke="#3a3a44" stroke-width="0.65"/><line x1="155.3" y1="600.1" x2="155.3" y2="643" stroke="#555" stroke-width="0.3" opacity="0.7"/><rect x="153.2" y="630" width="4.2" height="13" fill="#ab3347" stroke="#444" stroke-width="0.35"/><circle cx="154.52" cy="642.64" r="0.52" fill="#2a2a33"/><circle cx="155.18" cy="621.21" r="0.52" fill="#2a2a33"/><circle cx="157.11" cy="621.23" r="0.52" fill="#2a2a33"/><circle cx="153.65" cy="622.82" r="0.52" fill="#2a2a33"/><circle cx="156.69" cy="636.96" r="0.52" fill="#2a2a33"/><circle cx="155.34" cy="642.04" r="0.52" fill="#2a2a33"/><circle cx="155.74" cy="634.1" r="0.52" fill="#2a2a33"/><circle cx="153.34" cy="634.37" r="0.52" fill="#2a2a33"/><circle cx="156.96" cy="635.81" r="0.52" fill="#2a2a33"/><circle cx="153.23" cy="625.06" r="0.52" fill="#2a2a33"/><circle cx="157.38" cy="642.58" r="0.52" fill="#2a2a33"/><circle cx="157.21" cy="629.35" r="0.52" fill="#2a2a33"/><circle cx="155.41" cy="625.03" r="0.52" fill="#2a2a33"/><circle cx="156.93" cy="626.46" r="0.52" fill="#2a2a33"/><circle cx="156.23" cy="625.87" r="0.52" fill="#2a2a33"/><circle cx="155.76" cy="637.57" r="0.52" fill="#2a2a33"/><circle cx="155.58" cy="635.84" r="0.52" fill="#2a2a33"/><circle cx="154.45" cy="638.31" r="0.52" fill="#2a2a33"/><circle cx="153.75" cy="639.29" r="0.52" fill="#2a2a33"/><path d="M135.5,528.5 L135.5,526.7 L155.3,526.7 L155.3,528.5" fill="none" stroke="#333" stroke-width="1"/><text x="145.4" y="525.8" font-size="3.5" fill="#333" text-anchor="middle">**</text><path d="M115.7,539.7 L115.7,537.9 L135.5,537.9 L135.5,539.7" fill="none" stroke="#333" stroke-width="1"/><text x="125.6" y="537" font-size="3.5" fill="#333" text-anchor="middle">*</text><path d="M95.9,551.4 L95.9,549.6 L135.5,549.6 L135.5,551.4" fill="none" stroke="#333" stroke-width="1"/><text x="115.7" y="548.7" font-size="3.5" fill="#333" text-anchor="middle">*</text><text x="36.5" y="655.2" font-size="2.6" fill="#444" text-anchor="middle">n=8</text><text x="56.3" y="655.2" font-size="2.6" fill="#444" text-anchor="middle">n=19</text><text x="76.1" y="655.2" font-size="2.6" fill="#444" text-anchor="middle">n=19</text><text x="95.9" y="655.2" font-size="2.6" fill="#444" text-anchor="middle">n=8</text><text x="115.7" y="655.2" font-size="2.6" fill="#444" text-anchor="middle">n=19</text><text x="135.5" y="655.2" font-size="2.6" fill="#444" text-anchor="middle">n=19</text><text x="155.3" y="655.2" font-size="2.6" fill="#444" text-anchor="middle">n=19</text><rect x="25.3" y="520.6" width="141.7" height="138.9" fill="none" stroke="#222" stroke-width="1.2"/><line x1="22.6" y1="537.9" x2="25.3" y2="537.9" stroke="#222" stroke-width="1"/><text x="16.22" y="539.4" font-size="4.3" fill="#6a6a6a" textLength="5.08" lengthAdjust="spacingAndGlyphs">0.4</text><line x1="22.6" y1="564.5" x2="25.3" y2="564.5" stroke="#222" stroke-width="1"/><text x="16.22" y="566" font-size="4.3" fill="#6a6a6a" textLength="5.08" lengthAdjust="spacingAndGlyphs">0.3</text><line x1="22.6" y1="591" x2="25.3" y2="591" stroke="#222" stroke-width="1"/><text x="16.22" y="592.5" font-size="4.3" fill="#6a6a6a" textLength="5.08" lengthAdjust="spacingAndGlyphs">0.2</text><line x1="22.6" y1="617.3" x2="25.3" y2="617.3" stroke="#222" stroke-width="1"/><text x="16.22" y="618.8" font-size="4.3" fill="#6a6a6a" textLength="5.08" lengthAdjust="spacingAndGlyphs">0.1</text><line x1="22.6" y1="644" x2="25.3" y2="644" stroke="#222" stroke-width="1"/><text x="16.22" y="645.5" font-size="4.3" fill="#6a6a6a" textLength="5.08" lengthAdjust="spacingAndGlyphs">0.0</text><line x1="36.5" y1="659.5" x2="36.5" y2="662.1" stroke="#222" stroke-width="1"/><text x="36.5" y="667.4" font-size="3.8" fill="#555" text-anchor="middle">HD CD8</text><line x1="56.3" y1="659.5" x2="56.3" y2="662.1" stroke="#222" stroke-width="1"/><text x="56.3" y="667.4" font-size="3.8" fill="#555" text-anchor="middle">PB CD8</text><line x1="76.1" y1="659.5" x2="76.1" y2="662.1" stroke="#222" stroke-width="1"/><text x="76.1" y="667.4" font-size="3.8" fill="#555" text-anchor="middle">TIL CD8</text><line x1="95.9" y1="659.5" x2="95.9" y2="662.1" stroke="#222" stroke-width="1"/><text x="95.9" y="667.4" font-size="3.8" fill="#555" text-anchor="middle">HD CD4</text><line x1="115.7" y1="659.5" x2="115.7" y2="662.1" stroke="#222" stroke-width="1"/><text x="115.7" y="667.4" font-size="3.8" fill="#555" text-anchor="middle">PB CD4</text><line x1="135.5" y1="659.5" x2="135.5" y2="662.1" stroke="#222" stroke-width="1"/><text x="135.5" y="667.4" font-size="3.8" fill="#555" text-anchor="middle">TIL CD4</text><line x1="155.3" y1="659.5" x2="155.3" y2="662.1" stroke="#222" stroke-width="1"/><text x="155.3" y="667.4" font-size="3.8" fill="#555" text-anchor="middle">Tumor</text><text x="12.3" y="590.05" font-size="6.2" fill="#2e2e2e" text-anchor="middle" textLength="22.2" lengthAdjust="spacingAndGlyphs" transform="rotate(-90 12.6 590.05)">Fraction</text><text x="97.8" y="675.7" font-size="6.3" fill="#333" text-anchor="middle" textLength="29.2" lengthAdjust="spacingAndGlyphs">Population</text></g>
<g><text x="196" y="518.1" font-size="4.6" fill="#666" textLength="28" lengthAdjust="spacingAndGlyphs">Forward Scatter</text><path d="M213.8,622.5 C214.32,622.7 216.87,622.95 216.9,623.7 C216.93,624.45 214.98,625.83 214,627 C213.02,628.17 211.67,629.5 211,630.7 C210.33,631.9 210.17,633.62 210,634.2 L206,634.2 C205.83,633.62 205.67,631.9 205,630.7 C204.33,629.5 202.98,628.17 202,627 C201.02,625.83 199.07,624.45 199.1,623.7 C199.13,622.95 201.68,622.7 202.2,622.5 Z" fill="#c6c7d9" stroke="#3a3a44" stroke-width="0.65"/><line x1="208" y1="622.5" x2="208" y2="634.2" stroke="#555" stroke-width="0.3" opacity="0.7"/><rect x="205.9" y="622" width="4.2" height="6" fill="#9fa4c1" stroke="#444" stroke-width="0.35"/><circle cx="208.95" cy="623.37" r="0.52" fill="#2a2a33"/><circle cx="205.89" cy="627.64" r="0.52" fill="#2a2a33"/><circle cx="207.83" cy="627.88" r="0.52" fill="#2a2a33"/><circle cx="209.2" cy="623.93" r="0.52" fill="#2a2a33"/><circle cx="207.2" cy="629.08" r="0.52" fill="#2a2a33"/><circle cx="206.54" cy="632.02" r="0.52" fill="#2a2a33"/><circle cx="206.85" cy="624.06" r="0.52" fill="#2a2a33"/><circle cx="207.99" cy="633.96" r="0.52" fill="#2a2a33"/><path d="M228.77,602.6 C228.9,602.7 229.23,602.8 229.57,603.2 C229.9,603.6 230.35,604.33 230.77,605 C231.18,605.67 231.6,606.37 232.07,607.2 C232.53,608.03 233.07,609 233.57,610 C234.07,611 234.65,612.03 235.07,613.2 C235.48,614.37 235.82,615.73 236.07,617 C236.32,618.27 236.6,619.55 236.57,620.8 C236.53,622.05 236.2,623.23 235.87,624.5 C235.53,625.77 235,627.23 234.57,628.4 C234.13,629.57 233.68,630.48 233.27,631.5 C232.85,632.52 232.47,633.58 232.07,634.5 C231.67,635.42 231.2,636.25 230.87,637 C230.53,637.75 230.37,638.27 230.07,639 C229.77,639.73 229.23,641 229.07,641.4 L226.07,641.4 C225.9,641 225.37,639.73 225.07,639 C224.77,638.27 224.6,637.75 224.27,637 C223.93,636.25 223.47,635.42 223.07,634.5 C222.67,633.58 222.28,632.52 221.87,631.5 C221.45,630.48 221,629.57 220.57,628.4 C220.13,627.23 219.6,625.77 219.27,624.5 C218.93,623.23 218.6,622.05 218.57,620.8 C218.53,619.55 218.82,618.27 219.07,617 C219.32,615.73 219.65,614.37 220.07,613.2 C220.48,612.03 221.07,611 221.57,610 C222.07,609 222.6,608.03 223.07,607.2 C223.53,606.37 223.95,605.67 224.37,605 C224.78,604.33 225.23,603.6 225.57,603.2 C225.9,602.8 226.23,602.7 226.37,602.6 Z" fill="#c6c7d9" stroke="#3a3a44" stroke-width="0.65"/><line x1="227.57" y1="602.6" x2="227.57" y2="641.4" stroke="#555" stroke-width="0.3" opacity="0.7"/><rect x="225.47" y="610.2" width="4.2" height="14.4" fill="#9fa4c1" stroke="#444" stroke-width="0.35"/><circle cx="226.37" cy="616.39" r="0.52" fill="#2a2a33"/><circle cx="228.88" cy="612.94" r="0.52" fill="#2a2a33"/><circle cx="229.12" cy="634.46" r="0.52" fill="#2a2a33"/><circle cx="228.12" cy="621.46" r="0.52" fill="#2a2a33"/><circle cx="225.6" cy="622.14" r="0.52" fill="#2a2a33"/><circle cx="226.16" cy="620.91" r="0.52" fill="#2a2a33"/><circle cx="229.63" cy="613.8" r="0.52" fill="#2a2a33"/><circle cx="229.75" cy="630.49" r="0.52" fill="#2a2a33"/><circle cx="228.61" cy="629.18" r="0.52" fill="#2a2a33"/><circle cx="229.1" cy="605.39" r="0.52" fill="#2a2a33"/><circle cx="229.13" cy="621.54" r="0.52" fill="#2a2a33"/><circle cx="225.59" cy="609.81" r="0.52" fill="#2a2a33"/><circle cx="226.33" cy="616.25" r="0.52" fill="#2a2a33"/><circle cx="227.07" cy="626.13" r="0.52" fill="#2a2a33"/><circle cx="227.13" cy="620.32" r="0.52" fill="#2a2a33"/><circle cx="228.69" cy="627.37" r="0.52" fill="#2a2a33"/><circle cx="228.3" cy="617.57" r="0.52" fill="#2a2a33"/><circle cx="227.46" cy="627.68" r="0.52" fill="#2a2a33"/><circle cx="225.97" cy="614.02" r="0.52" fill="#2a2a33"/><path d="M249.33,608.4 C249.43,608.5 249.63,608.68 249.93,609 C250.23,609.32 250.68,609.85 251.13,610.3 C251.58,610.75 252.13,611.08 252.63,611.7 C253.13,612.32 253.72,613.23 254.13,614 C254.55,614.77 254.85,615.28 255.13,616.3 C255.42,617.32 255.8,618.98 255.83,620.1 C255.87,621.22 255.53,622.12 255.33,623 C255.13,623.88 254.87,624.48 254.63,625.4 C254.4,626.32 254.18,627.48 253.93,628.5 C253.68,629.52 253.43,630.58 253.13,631.5 C252.83,632.42 252.47,633.25 252.13,634 C251.8,634.75 251.47,635.37 251.13,636 C250.8,636.63 250.47,637.3 250.13,637.8 C249.8,638.3 249.3,638.8 249.13,639 L245.13,639 C244.97,638.8 244.47,638.3 244.13,637.8 C243.8,637.3 243.47,636.63 243.13,636 C242.8,635.37 242.47,634.75 242.13,634 C241.8,633.25 241.43,632.42 241.13,631.5 C240.83,630.58 240.58,629.52 240.33,628.5 C240.08,627.48 239.87,626.32 239.63,625.4 C239.4,624.48 239.13,623.88 238.93,623 C238.73,622.12 238.4,621.22 238.43,620.1 C238.47,618.98 238.85,617.32 239.13,616.3 C239.42,615.28 239.72,614.77 240.13,614 C240.55,613.23 241.13,612.32 241.63,611.7 C242.13,611.08 242.68,610.75 243.13,610.3 C243.58,609.85 244.03,609.32 244.33,609 C244.63,608.68 244.83,608.5 244.93,608.4 Z" fill="#818aa3" stroke="#3a3a44" stroke-width="0.65"/><line x1="247.13" y1="608.4" x2="247.13" y2="639" stroke="#555" stroke-width="0.3" opacity="0.7"/><rect x="245.03" y="617.8" width="4.2" height="18.2" fill="#687d9c" stroke="#444" stroke-width="0.35"/><circle cx="249.32" cy="611.27" r="0.52" fill="#2a2a33"/><circle cx="245.55" cy="618.55" r="0.52" fill="#2a2a33"/><circle cx="245.87" cy="631.08" r="0.52" fill="#2a2a33"/><circle cx="248.19" cy="626.17" r="0.52" fill="#2a2a33"/><circle cx="246.18" cy="614.34" r="0.52" fill="#2a2a33"/><circle cx="248.9" cy="612.72" r="0.52" fill="#2a2a33"/><circle cx="247.53" cy="612.67" r="0.52" fill="#2a2a33"/><circle cx="247.37" cy="621.08" r="0.52" fill="#2a2a33"/><circle cx="245.36" cy="630.41" r="0.52" fill="#2a2a33"/><circle cx="247.39" cy="621.78" r="0.52" fill="#2a2a33"/><circle cx="244.96" cy="627.99" r="0.52" fill="#2a2a33"/><circle cx="247.5" cy="627.17" r="0.52" fill="#2a2a33"/><circle cx="245.16" cy="627.56" r="0.52" fill="#2a2a33"/><circle cx="247.18" cy="609.7" r="0.52" fill="#2a2a33"/><circle cx="246.3" cy="623.01" r="0.52" fill="#2a2a33"/><circle cx="248.58" cy="624.85" r="0.52" fill="#2a2a33"/><circle cx="249.28" cy="615.36" r="0.52" fill="#2a2a33"/><circle cx="248.76" cy="617.76" r="0.52" fill="#2a2a33"/><circle cx="246.55" cy="617.41" r="0.52" fill="#2a2a33"/><path d="M270.2,613.1 C270.45,613.58 271.03,614.52 271.7,616 C272.37,617.48 273.48,620.13 274.2,622 C274.92,623.87 275.92,625.75 276,627.2 C276.08,628.65 274.92,630.12 274.7,630.7 L258.7,630.7 C258.48,630.12 257.32,628.65 257.4,627.2 C257.48,625.75 258.48,623.87 259.2,622 C259.92,620.13 261.03,617.48 261.7,616 C262.37,614.52 262.95,613.58 263.2,613.1 Z" fill="#c6c7d9" stroke="#3a3a44" stroke-width="0.65"/><line x1="266.7" y1="613.1" x2="266.7" y2="630.7" stroke="#555" stroke-width="0.3" opacity="0.7"/><rect x="264.6" y="618" width="4.2" height="10" fill="#9fa4c1" stroke="#444" stroke-width="0.35"/><circle cx="265.1" cy="625.59" r="0.52" fill="#2a2a33"/><circle cx="264.59" cy="613.23" r="0.52" fill="#2a2a33"/><circle cx="266.4" cy="620.4" r="0.52" fill="#2a2a33"/><circle cx="266.33" cy="620.41" r="0.52" fill="#2a2a33"/><circle cx="264.73" cy="628.71" r="0.52" fill="#2a2a33"/><circle cx="264.7" cy="620.29" r="0.52" fill="#2a2a33"/><circle cx="265.97" cy="617.33" r="0.52" fill="#2a2a33"/><circle cx="266.67" cy="622.11" r="0.52" fill="#2a2a33"/><path d="M287.47,599.3 C287.55,599.38 287.87,599.43 287.97,599.8 C288.07,600.17 288.03,600.95 288.07,601.5 C288.1,602.05 288,602.52 288.17,603.1 C288.33,603.68 288.72,604.37 289.07,605 C289.42,605.63 289.82,606.27 290.27,606.9 C290.72,607.53 291.27,608.17 291.77,608.8 C292.27,609.43 292.78,609.83 293.27,610.7 C293.75,611.57 294.3,612.73 294.67,614 C295.03,615.27 295.42,616.97 295.47,618.3 C295.52,619.63 295.25,620.73 294.97,622 C294.68,623.27 294.22,624.82 293.77,625.9 C293.32,626.98 292.77,627.65 292.27,628.5 C291.77,629.35 291.27,630.25 290.77,631 C290.27,631.75 289.68,632.37 289.27,633 C288.85,633.63 288.48,633.97 288.27,634.8 C288.05,635.63 288.02,636.8 287.97,638 C287.92,639.2 287.98,640.63 287.97,642 C287.95,643.37 287.88,645.5 287.87,646.2 L284.67,646.2 C284.65,645.5 284.58,643.37 284.57,642 C284.55,640.63 284.62,639.2 284.57,638 C284.52,636.8 284.48,635.63 284.27,634.8 C284.05,633.97 283.68,633.63 283.27,633 C282.85,632.37 282.27,631.75 281.77,631 C281.27,630.25 280.77,629.35 280.27,628.5 C279.77,627.65 279.22,626.98 278.77,625.9 C278.32,624.82 277.85,623.27 277.57,622 C277.28,620.73 277.02,619.63 277.07,618.3 C277.12,616.97 277.5,615.27 277.87,614 C278.23,612.73 278.78,611.57 279.27,610.7 C279.75,609.83 280.27,609.43 280.77,608.8 C281.27,608.17 281.82,607.53 282.27,606.9 C282.72,606.27 283.12,605.63 283.47,605 C283.82,604.37 284.2,603.68 284.37,603.1 C284.53,602.52 284.43,602.05 284.47,601.5 C284.5,600.95 284.47,600.17 284.57,599.8 C284.67,599.43 284.98,599.38 285.07,599.3 Z" fill="#c6c7d9" stroke="#3a3a44" stroke-width="0.65"/><line x1="286.27" y1="599.3" x2="286.27" y2="646.2" stroke="#555" stroke-width="0.3" opacity="0.7"/><rect x="284.17" y="612.6" width="4.2" height="15.2" fill="#9fa4c1" stroke="#444" stroke-width="0.35"/><circle cx="287.1" cy="614.84" r="0.52" fill="#2a2a33"/><circle cx="284.15" cy="628.22" r="0.52" fill="#2a2a33"/><circle cx="285.37" cy="623.43" r="0.52" fill="#2a2a33"/><circle cx="284.53" cy="616.07" r="0.52" fill="#2a2a33"/><circle cx="287.65" cy="632.69" r="0.52" fill="#2a2a33"/><circle cx="288.28" cy="622.35" r="0.52" fill="#2a2a33"/><circle cx="285.62" cy="615.48" r="0.52" fill="#2a2a33"/><circle cx="287.93" cy="629.44" r="0.52" fill="#2a2a33"/><circle cx="284.54" cy="621.9" r="0.52" fill="#2a2a33"/><circle cx="285.16" cy="625.85" r="0.52" fill="#2a2a33"/><circle cx="285.05" cy="609.46" r="0.52" fill="#2a2a33"/><circle cx="285.97" cy="608.43" r="0.52" fill="#2a2a33"/><circle cx="285.06" cy="627.21" r="0.52" fill="#2a2a33"/><circle cx="284.16" cy="611.65" r="0.52" fill="#2a2a33"/><circle cx="287.06" cy="626.19" r="0.52" fill="#2a2a33"/><circle cx="288.42" cy="606.65" r="0.52" fill="#2a2a33"/><circle cx="288.18" cy="619.7" r="0.52" fill="#2a2a33"/><circle cx="284.75" cy="623.52" r="0.52" fill="#2a2a33"/><circle cx="288.06" cy="606.64" r="0.52" fill="#2a2a33"/><path d="M306.83,612 C307.08,612.07 307.83,612.23 308.33,612.4 C308.83,612.57 309.32,612.73 309.83,613 C310.35,613.27 310.93,613.65 311.43,614 C311.93,614.35 312.43,614.65 312.83,615.1 C313.23,615.55 313.57,616.17 313.83,616.7 C314.1,617.23 314.43,617.72 314.43,618.3 C314.43,618.88 314.1,619.57 313.83,620.2 C313.57,620.83 313.25,621.38 312.83,622.1 C312.42,622.82 311.83,623.65 311.33,624.5 C310.83,625.35 310.22,626.45 309.83,627.2 C309.45,627.95 309.28,628.37 309.03,629 C308.78,629.63 308.57,630.25 308.33,631 C308.1,631.75 307.8,632.65 307.63,633.5 C307.47,634.35 307.3,635.43 307.33,636.1 C307.37,636.77 307.67,637.08 307.83,637.5 C308,637.92 308.25,638.42 308.33,638.6 L303.33,638.6 C303.42,638.42 303.67,637.92 303.83,637.5 C304,637.08 304.3,636.77 304.33,636.1 C304.37,635.43 304.2,634.35 304.03,633.5 C303.87,632.65 303.57,631.75 303.33,631 C303.1,630.25 302.88,629.63 302.63,629 C302.38,628.37 302.22,627.95 301.83,627.2 C301.45,626.45 300.83,625.35 300.33,624.5 C299.83,623.65 299.25,622.82 298.83,622.1 C298.42,621.38 298.1,620.83 297.83,620.2 C297.57,619.57 297.23,618.88 297.23,618.3 C297.23,617.72 297.57,617.23 297.83,616.7 C298.1,616.17 298.43,615.55 298.83,615.1 C299.23,614.65 299.73,614.35 300.23,614 C300.73,613.65 301.32,613.27 301.83,613 C302.35,612.73 302.83,612.57 303.33,612.4 C303.83,612.23 304.58,612.07 304.83,612 Z" fill="#818aa3" stroke="#3a3a44" stroke-width="0.65"/><line x1="305.83" y1="612" x2="305.83" y2="638.6" stroke="#555" stroke-width="0.3" opacity="0.7"/><rect x="303.73" y="617" width="4.2" height="6.4" fill="#687d9c" stroke="#444" stroke-width="0.35"/><circle cx="304.35" cy="627.04" r="0.52" fill="#2a2a33"/><circle cx="305.06" cy="615.7" r="0.52" fill="#2a2a33"/><circle cx="307.62" cy="620.55" r="0.52" fill="#2a2a33"/><circle cx="304.37" cy="620.74" r="0.52" fill="#2a2a33"/><circle cx="305.37" cy="620.02" r="0.52" fill="#2a2a33"/><circle cx="303.98" cy="617.42" r="0.52" fill="#2a2a33"/><circle cx="304.57" cy="617" r="0.52" fill="#2a2a33"/><circle cx="304.07" cy="624.8" r="0.52" fill="#2a2a33"/><circle cx="307.4" cy="624.1" r="0.52" fill="#2a2a33"/><circle cx="307.7" cy="616.07" r="0.52" fill="#2a2a33"/><circle cx="306.02" cy="631.49" r="0.52" fill="#2a2a33"/><circle cx="306.37" cy="619.05" r="0.52" fill="#2a2a33"/><circle cx="305.92" cy="619.38" r="0.52" fill="#2a2a33"/><circle cx="307.54" cy="614.29" r="0.52" fill="#2a2a33"/><circle cx="305.59" cy="630.57" r="0.52" fill="#2a2a33"/><circle cx="306.6" cy="635.13" r="0.52" fill="#2a2a33"/><circle cx="305.02" cy="615.22" r="0.52" fill="#2a2a33"/><circle cx="306.79" cy="622.63" r="0.52" fill="#2a2a33"/><circle cx="304.93" cy="629.07" r="0.52" fill="#2a2a33"/><path d="M326.6,573.9 C326.68,574 326.98,573.98 327.1,574.5 C327.22,575.02 327.22,576.25 327.3,577 C327.38,577.75 327.45,578.25 327.6,579 C327.75,579.75 327.98,580.67 328.2,581.5 C328.42,582.33 328.62,583.25 328.9,584 C329.18,584.75 329.57,585.37 329.9,586 C330.23,586.63 330.57,587.18 330.9,587.8 C331.23,588.42 331.57,589.07 331.9,589.7 C332.23,590.33 332.57,590.88 332.9,591.6 C333.23,592.32 333.62,593.15 333.9,594 C334.18,594.85 334.55,595.7 334.6,596.7 C334.65,597.7 334.4,598.93 334.2,600 C334,601.07 333.7,601.93 333.4,603.1 C333.1,604.27 332.73,605.73 332.4,607 C332.07,608.27 331.78,609.53 331.4,610.7 C331.02,611.87 330.52,612.95 330.1,614 C329.68,615.05 329.3,616.05 328.9,617 C328.5,617.95 328.03,618.85 327.7,619.7 C327.37,620.55 327.03,621.7 326.9,622.1 L323.9,622.1 C323.77,621.7 323.43,620.55 323.1,619.7 C322.77,618.85 322.3,617.95 321.9,617 C321.5,616.05 321.12,615.05 320.7,614 C320.28,612.95 319.78,611.87 319.4,610.7 C319.02,609.53 318.73,608.27 318.4,607 C318.07,605.73 317.7,604.27 317.4,603.1 C317.1,601.93 316.8,601.07 316.6,600 C316.4,598.93 316.15,597.7 316.2,596.7 C316.25,595.7 316.62,594.85 316.9,594 C317.18,593.15 317.57,592.32 317.9,591.6 C318.23,590.88 318.57,590.33 318.9,589.7 C319.23,589.07 319.57,588.42 319.9,587.8 C320.23,587.18 320.57,586.63 320.9,586 C321.23,585.37 321.62,584.75 321.9,584 C322.18,583.25 322.38,582.33 322.6,581.5 C322.82,580.67 323.05,579.75 323.2,579 C323.35,578.25 323.42,577.75 323.5,577 C323.58,576.25 323.58,575.02 323.7,574.5 C323.82,573.98 324.12,574 324.2,573.9 Z" fill="#cd8a84" stroke="#3a3a44" stroke-width="0.65"/><line x1="325.4" y1="573.9" x2="325.4" y2="622.1" stroke="#555" stroke-width="0.3" opacity="0.7"/><rect x="323.3" y="591.6" width="4.2" height="15.3" fill="#ab3347" stroke="#444" stroke-width="0.35"/><circle cx="323.92" cy="598.95" r="0.52" fill="#2a2a33"/><circle cx="326.73" cy="616.14" r="0.52" fill="#2a2a33"/><circle cx="327.12" cy="602.58" r="0.52" fill="#2a2a33"/><circle cx="323.71" cy="592.1" r="0.52" fill="#2a2a33"/><circle cx="324.34" cy="589.63" r="0.52" fill="#2a2a33"/><circle cx="325.37" cy="602.77" r="0.52" fill="#2a2a33"/><circle cx="325.99" cy="578.99" r="0.52" fill="#2a2a33"/><circle cx="326.82" cy="598.05" r="0.52" fill="#2a2a33"/><circle cx="325.86" cy="589.33" r="0.52" fill="#2a2a33"/><circle cx="324.44" cy="576.41" r="0.52" fill="#2a2a33"/><circle cx="323.38" cy="610.16" r="0.52" fill="#2a2a33"/><circle cx="327.59" cy="602.69" r="0.52" fill="#2a2a33"/><circle cx="323.97" cy="616.62" r="0.52" fill="#2a2a33"/><circle cx="327.09" cy="583.75" r="0.52" fill="#2a2a33"/><circle cx="325.87" cy="574.64" r="0.52" fill="#2a2a33"/><circle cx="324.15" cy="604.57" r="0.52" fill="#2a2a33"/><circle cx="324.95" cy="599.86" r="0.52" fill="#2a2a33"/><circle cx="326.61" cy="585.6" r="0.52" fill="#2a2a33"/><circle cx="323.71" cy="602.92" r="0.52" fill="#2a2a33"/><path d="M208,529 L208,527.2 L325.4,527.2 L325.4,529" fill="none" stroke="#333" stroke-width="1"/><text x="266.7" y="526.3" font-size="3.5" fill="#333" text-anchor="middle">****</text><path d="M227.57,537.8 L227.57,536 L325.4,536 L325.4,537.8" fill="none" stroke="#333" stroke-width="1"/><text x="276.48" y="535.1" font-size="3.5" fill="#333" text-anchor="middle">****</text><path d="M247.13,546.5 L247.13,544.7 L325.4,544.7 L325.4,546.5" fill="none" stroke="#333" stroke-width="1"/><text x="286.27" y="543.8" font-size="3.5" fill="#333" text-anchor="middle">****</text><path d="M266.7,554.9 L266.7,553.1 L325.4,553.1 L325.4,554.9" fill="none" stroke="#333" stroke-width="1"/><text x="296.05" y="552.2" font-size="3.5" fill="#333" text-anchor="middle">***</text><path d="M286.27,564 L286.27,562.2 L325.4,562.2 L325.4,564" fill="none" stroke="#333" stroke-width="1"/><text x="305.83" y="561.3" font-size="3.5" fill="#333" text-anchor="middle">****</text><path d="M305.83,572.4 L305.83,570.6 L325.4,570.6 L325.4,572.4" fill="none" stroke="#333" stroke-width="1"/><text x="315.62" y="569.7" font-size="3.5" fill="#333" text-anchor="middle">****</text><text x="208" y="655.1" font-size="2.6" fill="#444" text-anchor="middle">n=8</text><text x="227.57" y="655.1" font-size="2.6" fill="#444" text-anchor="middle">n=19</text><text x="247.13" y="655.1" font-size="2.6" fill="#444" text-anchor="middle">n=19</text><text x="266.7" y="655.1" font-size="2.6" fill="#444" text-anchor="middle">n=8</text><text x="286.27" y="655.1" font-size="2.6" fill="#444" text-anchor="middle">n=19</text><text x="305.83" y="655.1" font-size="2.6" fill="#444" text-anchor="middle">n=19</text><text x="325.4" y="655.1" font-size="2.6" fill="#444" text-anchor="middle">n=19</text><rect x="196.3" y="520.7" width="141" height="138.7" fill="none" stroke="#222" stroke-width="1.2"/><line x1="193.6" y1="530.7" x2="196.3" y2="530.7" stroke="#222" stroke-width="1"/><text x="186.2" y="532.2" font-size="4.3" fill="#6a6a6a" textLength="6.1" lengthAdjust="spacingAndGlyphs">900</text><line x1="193.6" y1="558.2" x2="196.3" y2="558.2" stroke="#222" stroke-width="1"/><text x="186.2" y="559.7" font-size="4.3" fill="#6a6a6a" textLength="6.1" lengthAdjust="spacingAndGlyphs">800</text><line x1="193.6" y1="586.3" x2="196.3" y2="586.3" stroke="#222" stroke-width="1"/><text x="186.2" y="587.8" font-size="4.3" fill="#6a6a6a" textLength="6.1" lengthAdjust="spacingAndGlyphs">700</text><line x1="193.6" y1="614.3" x2="196.3" y2="614.3" stroke="#222" stroke-width="1"/><text x="186.2" y="615.8" font-size="4.3" fill="#6a6a6a" textLength="6.1" lengthAdjust="spacingAndGlyphs">600</text><line x1="193.6" y1="641.9" x2="196.3" y2="641.9" stroke="#222" stroke-width="1"/><text x="186.2" y="643.4" font-size="4.3" fill="#6a6a6a" textLength="6.1" lengthAdjust="spacingAndGlyphs">500</text><line x1="208" y1="659.4" x2="208" y2="662" stroke="#222" stroke-width="1"/><text x="208" y="667.3" font-size="3.8" fill="#555" text-anchor="middle">HD CD8</text><line x1="227.57" y1="659.4" x2="227.57" y2="662" stroke="#222" stroke-width="1"/><text x="227.57" y="667.3" font-size="3.8" fill="#555" text-anchor="middle">PB CD8</text><line x1="247.13" y1="659.4" x2="247.13" y2="662" stroke="#222" stroke-width="1"/><text x="247.13" y="667.3" font-size="3.8" fill="#555" text-anchor="middle">TIL CD8</text><line x1="266.7" y1="659.4" x2="266.7" y2="662" stroke="#222" stroke-width="1"/><text x="266.7" y="667.3" font-size="3.8" fill="#555" text-anchor="middle">HD CD4</text><line x1="286.27" y1="659.4" x2="286.27" y2="662" stroke="#222" stroke-width="1"/><text x="286.27" y="667.3" font-size="3.8" fill="#555" text-anchor="middle">PB CD4</text><line x1="305.83" y1="659.4" x2="305.83" y2="662" stroke="#222" stroke-width="1"/><text x="305.83" y="667.3" font-size="3.8" fill="#555" text-anchor="middle">TIL CD4</text><line x1="325.4" y1="659.4" x2="325.4" y2="662" stroke="#222" stroke-width="1"/><text x="325.4" y="667.3" font-size="3.8" fill="#555" text-anchor="middle">Tumor</text><text x="182" y="590.05" font-size="6.2" fill="#2e2e2e" text-anchor="middle" textLength="42.1" lengthAdjust="spacingAndGlyphs" transform="rotate(-90 182.3 590.05)">Forward scatter</text><text x="269.2" y="675.6" font-size="6.3" fill="#333" text-anchor="middle" textLength="29.2" lengthAdjust="spacingAndGlyphs">Population</text></g>
<g><text x="367.6" y="518" font-size="4.6" fill="#666" textLength="21" lengthAdjust="spacingAndGlyphs">Side Scatter</text><path d="M387.7,627.1 C387.82,627.17 388.28,627.1 388.4,627.5 C388.52,627.9 388.45,628.78 388.4,629.5 C388.35,630.22 388.3,631.05 388.1,631.8 C387.9,632.55 387.52,633.35 387.2,634 C386.88,634.65 386.53,635.03 386.2,635.7 C385.87,636.37 385.53,637.2 385.2,638 C384.87,638.8 384.53,639.67 384.2,640.5 C383.87,641.33 383.53,642.22 383.2,643 C382.87,643.78 382.37,644.83 382.2,645.2 L377.2,645.2 C377.03,644.83 376.53,643.78 376.2,643 C375.87,642.22 375.53,641.33 375.2,640.5 C374.87,639.67 374.53,638.8 374.2,638 C373.87,637.2 373.53,636.37 373.2,635.7 C372.87,635.03 372.52,634.65 372.2,634 C371.88,633.35 371.5,632.55 371.3,631.8 C371.1,631.05 371.05,630.22 371,629.5 C370.95,628.78 370.88,627.9 371,627.5 C371.12,627.1 371.58,627.17 371.7,627.1 Z" fill="#c6c7d9" stroke="#3a3a44" stroke-width="0.65"/><line x1="379.7" y1="627.1" x2="379.7" y2="645.2" stroke="#555" stroke-width="0.3" opacity="0.7"/><rect x="377.6" y="627.9" width="4.2" height="9.4" fill="#9fa4c1" stroke="#444" stroke-width="0.35"/><circle cx="380.34" cy="634.27" r="0.52" fill="#2a2a33"/><circle cx="381.16" cy="642.01" r="0.52" fill="#2a2a33"/><circle cx="380.84" cy="630.72" r="0.52" fill="#2a2a33"/><circle cx="379.63" cy="645.08" r="0.52" fill="#2a2a33"/><circle cx="379.37" cy="631.35" r="0.52" fill="#2a2a33"/><circle cx="380.75" cy="644.21" r="0.52" fill="#2a2a33"/><circle cx="378.51" cy="628.27" r="0.52" fill="#2a2a33"/><circle cx="380.35" cy="629.16" r="0.52" fill="#2a2a33"/><path d="M404.05,614 C404.18,614.1 404.52,614.18 404.85,614.6 C405.18,615.02 405.65,615.73 406.05,616.5 C406.45,617.27 406.92,618.45 407.25,619.2 C407.58,619.95 407.87,620.35 408.05,621 C408.23,621.65 408.4,622.35 408.35,623.1 C408.3,623.85 408.02,624.7 407.75,625.5 C407.48,626.3 407.13,627.15 406.75,627.9 C406.37,628.65 405.87,629.35 405.45,630 C405.03,630.65 404.75,631.13 404.25,631.8 C403.75,632.47 403.03,633.22 402.45,634 C401.87,634.78 401.03,636.08 400.75,636.5 L397.75,636.5 C397.47,636.08 396.63,634.78 396.05,634 C395.47,633.22 394.75,632.47 394.25,631.8 C393.75,631.13 393.47,630.65 393.05,630 C392.63,629.35 392.13,628.65 391.75,627.9 C391.37,627.15 391.02,626.3 390.75,625.5 C390.48,624.7 390.2,623.85 390.15,623.1 C390.1,622.35 390.27,621.65 390.45,621 C390.63,620.35 390.92,619.95 391.25,619.2 C391.58,618.45 392.05,617.27 392.45,616.5 C392.85,615.73 393.32,615.02 393.65,614.6 C393.98,614.18 394.32,614.1 394.45,614 Z" fill="#c6c7d9" stroke="#3a3a44" stroke-width="0.65"/><line x1="399.25" y1="614" x2="399.25" y2="636.5" stroke="#555" stroke-width="0.3" opacity="0.7"/><rect x="397.15" y="616" width="4.2" height="9.5" fill="#9fa4c1" stroke="#444" stroke-width="0.35"/><circle cx="397.2" cy="631.12" r="0.52" fill="#2a2a33"/><circle cx="400.45" cy="633.45" r="0.52" fill="#2a2a33"/><circle cx="400.91" cy="624.71" r="0.52" fill="#2a2a33"/><circle cx="400.69" cy="626.45" r="0.52" fill="#2a2a33"/><circle cx="400.4" cy="634.16" r="0.52" fill="#2a2a33"/><circle cx="399.24" cy="624.03" r="0.52" fill="#2a2a33"/><circle cx="398.28" cy="617.05" r="0.52" fill="#2a2a33"/><circle cx="399.36" cy="626" r="0.52" fill="#2a2a33"/><circle cx="400.11" cy="626.26" r="0.52" fill="#2a2a33"/><circle cx="398.58" cy="617.92" r="0.52" fill="#2a2a33"/><circle cx="401.14" cy="617.8" r="0.52" fill="#2a2a33"/><circle cx="399.62" cy="627.58" r="0.52" fill="#2a2a33"/><circle cx="399.86" cy="620.83" r="0.52" fill="#2a2a33"/><circle cx="399.88" cy="628.15" r="0.52" fill="#2a2a33"/><circle cx="399.12" cy="628.75" r="0.52" fill="#2a2a33"/><circle cx="400.94" cy="619.17" r="0.52" fill="#2a2a33"/><circle cx="398.68" cy="622.37" r="0.52" fill="#2a2a33"/><circle cx="399.53" cy="633.71" r="0.52" fill="#2a2a33"/><circle cx="399.4" cy="635.68" r="0.52" fill="#2a2a33"/><path d="M420,598 C420.13,598.12 420.7,598.2 420.8,598.7 C420.9,599.2 420.77,600.28 420.6,601 C420.43,601.72 420,602.2 419.8,603 C419.6,603.8 419.47,604.3 419.4,605.8 C419.33,607.3 419.3,610.43 419.4,612 C419.5,613.57 419.43,614.27 420,615.2 C420.57,616.13 421.67,616.67 422.8,617.6 C423.93,618.53 425.95,620.02 426.8,620.8 C427.65,621.58 427.98,621.68 427.9,622.3 C427.82,622.92 426.98,623.57 426.3,624.5 C425.62,625.43 424.42,626.82 423.8,627.9 C423.18,628.98 422.93,629.82 422.6,631 C422.27,632.18 421.93,634.33 421.8,635 L415.8,635 C415.67,634.33 415.33,632.18 415,631 C414.67,629.82 414.42,628.98 413.8,627.9 C413.18,626.82 411.98,625.43 411.3,624.5 C410.62,623.57 409.78,622.92 409.7,622.3 C409.62,621.68 409.95,621.58 410.8,620.8 C411.65,620.02 413.67,618.53 414.8,617.6 C415.93,616.67 417.03,616.13 417.6,615.2 C418.17,614.27 418.1,613.57 418.2,612 C418.3,610.43 418.27,607.3 418.2,605.8 C418.13,604.3 418,603.8 417.8,603 C417.6,602.2 417.17,601.72 417,601 C416.83,600.28 416.7,599.2 416.8,598.7 C416.9,598.2 417.47,598.12 417.6,598 Z" fill="#818aa3" stroke="#3a3a44" stroke-width="0.65"/><line x1="418.8" y1="598" x2="418.8" y2="635" stroke="#555" stroke-width="0.3" opacity="0.7"/><rect x="416.7" y="620.8" width="4.2" height="11.8" fill="#687d9c" stroke="#444" stroke-width="0.35"/><circle cx="419.19" cy="632.91" r="0.52" fill="#2a2a33"/><circle cx="417.84" cy="619.23" r="0.52" fill="#2a2a33"/><circle cx="417.17" cy="632.97" r="0.52" fill="#2a2a33"/><circle cx="419.05" cy="609.24" r="0.52" fill="#2a2a33"/><circle cx="419.76" cy="598.6" r="0.52" fill="#2a2a33"/><circle cx="418.02" cy="627.67" r="0.52" fill="#2a2a33"/><circle cx="420.97" cy="623.52" r="0.52" fill="#2a2a33"/><circle cx="419" cy="604.92" r="0.52" fill="#2a2a33"/><circle cx="419.98" cy="622.64" r="0.52" fill="#2a2a33"/><circle cx="419.75" cy="601.54" r="0.52" fill="#2a2a33"/><circle cx="418.67" cy="611.39" r="0.52" fill="#2a2a33"/><circle cx="418.22" cy="616.65" r="0.52" fill="#2a2a33"/><circle cx="419.59" cy="634.37" r="0.52" fill="#2a2a33"/><circle cx="419.22" cy="627.48" r="0.52" fill="#2a2a33"/><circle cx="418.95" cy="610.3" r="0.52" fill="#2a2a33"/><circle cx="417.59" cy="630.86" r="0.52" fill="#2a2a33"/><circle cx="419.57" cy="599.32" r="0.52" fill="#2a2a33"/><circle cx="418.5" cy="629.43" r="0.52" fill="#2a2a33"/><circle cx="417.76" cy="623.53" r="0.52" fill="#2a2a33"/><path d="M439.85,631.8 C440.07,631.88 441.07,632.02 441.15,632.3 C441.23,632.58 440.68,633.05 440.35,633.5 C440.02,633.95 439.07,634.5 439.15,635 C439.23,635.5 440.07,635.92 440.85,636.5 C441.63,637.08 442.82,637.7 443.85,638.5 C444.88,639.3 446.88,640.47 447.05,641.3 C447.22,642.13 445.8,642.85 444.85,643.5 C443.9,644.15 441.93,644.92 441.35,645.2 L435.35,645.2 C434.77,644.92 432.8,644.15 431.85,643.5 C430.9,642.85 429.48,642.13 429.65,641.3 C429.82,640.47 431.82,639.3 432.85,638.5 C433.88,637.7 435.07,637.08 435.85,636.5 C436.63,635.92 437.47,635.5 437.55,635 C437.63,634.5 436.68,633.95 436.35,633.5 C436.02,633.05 435.47,632.58 435.55,632.3 C435.63,632.02 436.63,631.88 436.85,631.8 Z" fill="#c6c7d9" stroke="#3a3a44" stroke-width="0.65"/><line x1="438.35" y1="631.8" x2="438.35" y2="645.2" stroke="#555" stroke-width="0.3" opacity="0.7"/><rect x="436.25" y="637.3" width="4.2" height="6.3" fill="#9fa4c1" stroke="#444" stroke-width="0.35"/><circle cx="439.1" cy="638.98" r="0.52" fill="#2a2a33"/><circle cx="436.29" cy="643.6" r="0.52" fill="#2a2a33"/><circle cx="437.45" cy="633.66" r="0.52" fill="#2a2a33"/><circle cx="440.22" cy="641.58" r="0.52" fill="#2a2a33"/><circle cx="436.79" cy="643.12" r="0.52" fill="#2a2a33"/><circle cx="437.87" cy="640.53" r="0.52" fill="#2a2a33"/><circle cx="438.06" cy="643.02" r="0.52" fill="#2a2a33"/><circle cx="439.86" cy="638.52" r="0.52" fill="#2a2a33"/><path d="M462.4,615 C462.53,615.08 462.93,615.17 463.2,615.5 C463.47,615.83 463.8,616.45 464,617 C464.2,617.55 464.28,618.05 464.4,618.8 C464.52,619.55 464.62,620.67 464.7,621.5 C464.78,622.33 464.77,622.88 464.9,623.8 C465.03,624.72 465.28,625.97 465.5,627 C465.72,628.03 466.01,628.87 466.2,630 C466.39,631.13 466.65,632.72 466.65,633.8 C466.65,634.88 466.46,635.72 466.2,636.5 C465.94,637.28 465.48,638.02 465.1,638.5 C464.72,638.98 464.1,639.25 463.9,639.4 L451.9,639.4 C451.7,639.25 451.08,638.98 450.7,638.5 C450.32,638.02 449.86,637.28 449.6,636.5 C449.34,635.72 449.15,634.88 449.15,633.8 C449.15,632.72 449.41,631.13 449.6,630 C449.79,628.87 450.08,628.03 450.3,627 C450.52,625.97 450.77,624.72 450.9,623.8 C451.03,622.88 451.02,622.33 451.1,621.5 C451.18,620.67 451.28,619.55 451.4,618.8 C451.52,618.05 451.6,617.55 451.8,617 C452,616.45 452.33,615.83 452.6,615.5 C452.87,615.17 453.27,615.08 453.4,615 Z" fill="#c6c7d9" stroke="#3a3a44" stroke-width="0.65"/><line x1="457.9" y1="615" x2="457.9" y2="639.4" stroke="#555" stroke-width="0.3" opacity="0.7"/><rect x="455.8" y="618.8" width="4.2" height="20" fill="#9fa4c1" stroke="#444" stroke-width="0.35"/><circle cx="459.22" cy="625.92" r="0.52" fill="#2a2a33"/><circle cx="458.63" cy="629.52" r="0.52" fill="#2a2a33"/><circle cx="459.94" cy="631.65" r="0.52" fill="#2a2a33"/><circle cx="457.92" cy="621.04" r="0.52" fill="#2a2a33"/><circle cx="460.01" cy="620.05" r="0.52" fill="#2a2a33"/><circle cx="456.65" cy="625.17" r="0.52" fill="#2a2a33"/><circle cx="456.93" cy="627.62" r="0.52" fill="#2a2a33"/><circle cx="456.5" cy="625.9" r="0.52" fill="#2a2a33"/><circle cx="457.96" cy="625.08" r="0.52" fill="#2a2a33"/><circle cx="456.12" cy="630.69" r="0.52" fill="#2a2a33"/><circle cx="456.69" cy="626.87" r="0.52" fill="#2a2a33"/><circle cx="457.39" cy="636.12" r="0.52" fill="#2a2a33"/><circle cx="458.7" cy="624.72" r="0.52" fill="#2a2a33"/><circle cx="456.51" cy="622.3" r="0.52" fill="#2a2a33"/><circle cx="458.01" cy="620.24" r="0.52" fill="#2a2a33"/><circle cx="459.79" cy="624.45" r="0.52" fill="#2a2a33"/><circle cx="456.26" cy="615.43" r="0.52" fill="#2a2a33"/><circle cx="459.16" cy="621.07" r="0.52" fill="#2a2a33"/><circle cx="457.42" cy="619.19" r="0.52" fill="#2a2a33"/><path d="M479.75,595.6 C479.67,595.75 479.53,596.08 479.25,596.5 C478.97,596.92 478.27,596.85 478.05,598.1 C477.83,599.35 477.93,602.22 477.95,604 C477.97,605.78 478.05,607.63 478.15,608.8 C478.25,609.97 478.43,610.28 478.55,611 C478.67,611.72 478.62,612.43 478.85,613.1 C479.08,613.77 479.52,614.27 479.95,615 C480.38,615.73 480.95,616.75 481.45,617.5 C481.95,618.25 482.45,618.87 482.95,619.5 C483.45,620.13 483.97,620.72 484.45,621.3 C484.93,621.88 485.45,622.38 485.85,623 C486.25,623.62 486.92,624.33 486.85,625 C486.78,625.67 486.02,626.37 485.45,627 C484.88,627.63 484.12,628.13 483.45,628.8 C482.78,629.47 482.12,630.28 481.45,631 C480.78,631.72 479.78,632.75 479.45,633.1 L475.45,633.1 C475.12,632.75 474.12,631.72 473.45,631 C472.78,630.28 472.12,629.47 471.45,628.8 C470.78,628.13 470.02,627.63 469.45,627 C468.88,626.37 468.12,625.67 468.05,625 C467.98,624.33 468.65,623.62 469.05,623 C469.45,622.38 469.97,621.88 470.45,621.3 C470.93,620.72 471.45,620.13 471.95,619.5 C472.45,618.87 472.95,618.25 473.45,617.5 C473.95,616.75 474.52,615.73 474.95,615 C475.38,614.27 475.82,613.77 476.05,613.1 C476.28,612.43 476.23,611.72 476.35,611 C476.47,610.28 476.65,609.97 476.75,608.8 C476.85,607.63 476.93,605.78 476.95,604 C476.97,602.22 477.07,599.35 476.85,598.1 C476.63,596.85 475.93,596.92 475.65,596.5 C475.37,596.08 475.23,595.75 475.15,595.6 Z" fill="#818aa3" stroke="#3a3a44" stroke-width="0.65"/><line x1="477.45" y1="595.6" x2="477.45" y2="633.1" stroke="#555" stroke-width="0.3" opacity="0.7"/><rect x="475.35" y="621.3" width="4.2" height="10" fill="#687d9c" stroke="#444" stroke-width="0.35"/><circle cx="475.99" cy="626.35" r="0.52" fill="#2a2a33"/><circle cx="478.9" cy="620.21" r="0.52" fill="#2a2a33"/><circle cx="476.46" cy="624.99" r="0.52" fill="#2a2a33"/><circle cx="475.58" cy="622.36" r="0.52" fill="#2a2a33"/><circle cx="477.61" cy="600.73" r="0.52" fill="#2a2a33"/><circle cx="477.1" cy="624.47" r="0.52" fill="#2a2a33"/><circle cx="476.6" cy="629.99" r="0.52" fill="#2a2a33"/><circle cx="476.78" cy="621.02" r="0.52" fill="#2a2a33"/><circle cx="478" cy="596.48" r="0.52" fill="#2a2a33"/><circle cx="476.11" cy="624.81" r="0.52" fill="#2a2a33"/><circle cx="476.46" cy="625.42" r="0.52" fill="#2a2a33"/><circle cx="475.96" cy="630.78" r="0.52" fill="#2a2a33"/><circle cx="478.11" cy="596.59" r="0.52" fill="#2a2a33"/><circle cx="478.47" cy="621.73" r="0.52" fill="#2a2a33"/><circle cx="475.52" cy="630.03" r="0.52" fill="#2a2a33"/><circle cx="476.16" cy="621.47" r="0.52" fill="#2a2a33"/><circle cx="475.37" cy="623.55" r="0.52" fill="#2a2a33"/><circle cx="476.32" cy="629.61" r="0.52" fill="#2a2a33"/><circle cx="475.99" cy="619.1" r="0.52" fill="#2a2a33"/><path d="M498,573.1 C498.07,573.18 498.28,573.2 498.4,573.6 C498.52,574 498.6,574.85 498.7,575.5 C498.8,576.15 498.83,576.67 499,577.5 C499.17,578.33 499.45,579.45 499.7,580.5 C499.95,581.55 500.2,582.72 500.5,583.8 C500.8,584.88 501.17,585.97 501.5,587 C501.83,588.03 502.17,589 502.5,590 C502.83,591 503.17,591.95 503.5,593 C503.83,594.05 504.17,595.22 504.5,596.3 C504.83,597.38 505.23,598.47 505.5,599.5 C505.77,600.53 506.1,601.5 506.1,602.5 C506.1,603.5 505.77,604.45 505.5,605.5 C505.23,606.55 504.88,607.72 504.5,608.8 C504.12,609.88 503.62,610.97 503.2,612 C502.78,613.03 502.37,614.08 502,615 C501.63,615.92 501.33,616.67 501,617.5 C500.67,618.33 500.17,619.58 500,620 L494,620 C493.83,619.58 493.33,618.33 493,617.5 C492.67,616.67 492.37,615.92 492,615 C491.63,614.08 491.22,613.03 490.8,612 C490.38,610.97 489.88,609.88 489.5,608.8 C489.12,607.72 488.77,606.55 488.5,605.5 C488.23,604.45 487.9,603.5 487.9,602.5 C487.9,601.5 488.23,600.53 488.5,599.5 C488.77,598.47 489.17,597.38 489.5,596.3 C489.83,595.22 490.17,594.05 490.5,593 C490.83,591.95 491.17,591 491.5,590 C491.83,589 492.17,588.03 492.5,587 C492.83,585.97 493.2,584.88 493.5,583.8 C493.8,582.72 494.05,581.55 494.3,580.5 C494.55,579.45 494.83,578.33 495,577.5 C495.17,576.67 495.2,576.15 495.3,575.5 C495.4,574.85 495.48,574 495.6,573.6 C495.72,573.2 495.93,573.18 496,573.1 Z" fill="#cd8a84" stroke="#3a3a44" stroke-width="0.65"/><line x1="497" y1="573.1" x2="497" y2="620" stroke="#555" stroke-width="0.3" opacity="0.7"/><rect x="494.9" y="593.1" width="4.2" height="16.3" fill="#ab3347" stroke="#444" stroke-width="0.35"/><circle cx="497.02" cy="592.9" r="0.52" fill="#2a2a33"/><circle cx="498.59" cy="607.24" r="0.52" fill="#2a2a33"/><circle cx="497.96" cy="606.57" r="0.52" fill="#2a2a33"/><circle cx="497.49" cy="592.44" r="0.52" fill="#2a2a33"/><circle cx="498.81" cy="599.4" r="0.52" fill="#2a2a33"/><circle cx="496.16" cy="612.15" r="0.52" fill="#2a2a33"/><circle cx="498.51" cy="613.42" r="0.52" fill="#2a2a33"/><circle cx="494.83" cy="592.9" r="0.52" fill="#2a2a33"/><circle cx="496.88" cy="584.28" r="0.52" fill="#2a2a33"/><circle cx="497.22" cy="580.82" r="0.52" fill="#2a2a33"/><circle cx="498.74" cy="615.73" r="0.52" fill="#2a2a33"/><circle cx="496.31" cy="587.83" r="0.52" fill="#2a2a33"/><circle cx="497.79" cy="593.4" r="0.52" fill="#2a2a33"/><circle cx="498.8" cy="598.7" r="0.52" fill="#2a2a33"/><circle cx="496.14" cy="615.69" r="0.52" fill="#2a2a33"/><circle cx="499.14" cy="602.79" r="0.52" fill="#2a2a33"/><circle cx="496.52" cy="596.04" r="0.52" fill="#2a2a33"/><circle cx="496.31" cy="616.77" r="0.52" fill="#2a2a33"/><circle cx="498.16" cy="582.98" r="0.52" fill="#2a2a33"/><path d="M379.7,529.2 L379.7,527.4 L497,527.4 L497,529.2" fill="none" stroke="#333" stroke-width="1"/><text x="438.35" y="526.5" font-size="3.5" fill="#333" text-anchor="middle">****</text><path d="M399.25,537.8 L399.25,536 L497,536 L497,537.8" fill="none" stroke="#333" stroke-width="1"/><text x="448.12" y="535.1" font-size="3.5" fill="#333" text-anchor="middle">****</text><path d="M418.8,546.5 L418.8,544.7 L497,544.7 L497,546.5" fill="none" stroke="#333" stroke-width="1"/><text x="457.9" y="543.8" font-size="3.5" fill="#333" text-anchor="middle">****</text><path d="M438.35,555.4 L438.35,553.6 L497,553.6 L497,555.4" fill="none" stroke="#333" stroke-width="1"/><text x="467.68" y="552.7" font-size="3.5" fill="#333" text-anchor="middle">****</text><path d="M457.9,564.2 L457.9,562.4 L497,562.4 L497,564.2" fill="none" stroke="#333" stroke-width="1"/><text x="477.45" y="561.5" font-size="3.5" fill="#333" text-anchor="middle">****</text><path d="M477.45,572.4 L477.45,570.6 L497,570.6 L497,572.4" fill="none" stroke="#333" stroke-width="1"/><text x="487.23" y="569.7" font-size="3.5" fill="#333" text-anchor="middle">****</text><text x="379.7" y="655.1" font-size="2.6" fill="#444" text-anchor="middle">n=8</text><text x="399.25" y="655.1" font-size="2.6" fill="#444" text-anchor="middle">n=19</text><text x="418.8" y="655.1" font-size="2.6" fill="#444" text-anchor="middle">n=19</text><text x="438.35" y="655.1" font-size="2.6" fill="#444" text-anchor="middle">n=8</text><text x="457.9" y="655.1" font-size="2.6" fill="#444" text-anchor="middle">n=19</text><text x="477.45" y="655.1" font-size="2.6" fill="#444" text-anchor="middle">n=19</text><text x="497" y="655.1" font-size="2.6" fill="#444" text-anchor="middle">n=19</text><rect x="367.9" y="520.6" width="140.8" height="138.8" fill="none" stroke="#222" stroke-width="1.2"/><line x1="365.2" y1="527.4" x2="367.9" y2="527.4" stroke="#222" stroke-width="1"/><text x="357.8" y="528.9" font-size="4.3" fill="#6a6a6a" textLength="6.1" lengthAdjust="spacingAndGlyphs">400</text><line x1="365.2" y1="568.3" x2="367.9" y2="568.3" stroke="#222" stroke-width="1"/><text x="357.8" y="569.8" font-size="4.3" fill="#6a6a6a" textLength="6.1" lengthAdjust="spacingAndGlyphs">300</text><line x1="365.2" y1="609.4" x2="367.9" y2="609.4" stroke="#222" stroke-width="1"/><text x="357.8" y="610.9" font-size="4.3" fill="#6a6a6a" textLength="6.1" lengthAdjust="spacingAndGlyphs">200</text><line x1="365.2" y1="650.5" x2="367.9" y2="650.5" stroke="#222" stroke-width="1"/><text x="357.8" y="652" font-size="4.3" fill="#6a6a6a" textLength="6.1" lengthAdjust="spacingAndGlyphs">100</text><line x1="379.7" y1="659.4" x2="379.7" y2="662" stroke="#222" stroke-width="1"/><text x="379.7" y="667.3" font-size="3.8" fill="#555" text-anchor="middle">HD CD8</text><line x1="399.25" y1="659.4" x2="399.25" y2="662" stroke="#222" stroke-width="1"/><text x="399.25" y="667.3" font-size="3.8" fill="#555" text-anchor="middle">PB CD8</text><line x1="418.8" y1="659.4" x2="418.8" y2="662" stroke="#222" stroke-width="1"/><text x="418.8" y="667.3" font-size="3.8" fill="#555" text-anchor="middle">TIL CD8</text><line x1="438.35" y1="659.4" x2="438.35" y2="662" stroke="#222" stroke-width="1"/><text x="438.35" y="667.3" font-size="3.8" fill="#555" text-anchor="middle">HD CD4</text><line x1="457.9" y1="659.4" x2="457.9" y2="662" stroke="#222" stroke-width="1"/><text x="457.9" y="667.3" font-size="3.8" fill="#555" text-anchor="middle">PB CD4</text><line x1="477.45" y1="659.4" x2="477.45" y2="662" stroke="#222" stroke-width="1"/><text x="477.45" y="667.3" font-size="3.8" fill="#555" text-anchor="middle">TIL CD4</text><line x1="497" y1="659.4" x2="497" y2="662" stroke="#222" stroke-width="1"/><text x="497" y="667.3" font-size="3.8" fill="#555" text-anchor="middle">Tumor</text><text x="353.5" y="590" font-size="6.2" fill="#2e2e2e" text-anchor="middle" textLength="31.5" lengthAdjust="spacingAndGlyphs" transform="rotate(-90 353.8 590)">Side scatter</text><text x="440.8" y="675.6" font-size="6.3" fill="#333" text-anchor="middle" textLength="29.2" lengthAdjust="spacingAndGlyphs">Population</text></g>
<rect x="0.75" y="0.75" width="518.5" height="683.5" fill="none" stroke="#4d4d4d" stroke-width="1.5"/>
</svg></body></html>
